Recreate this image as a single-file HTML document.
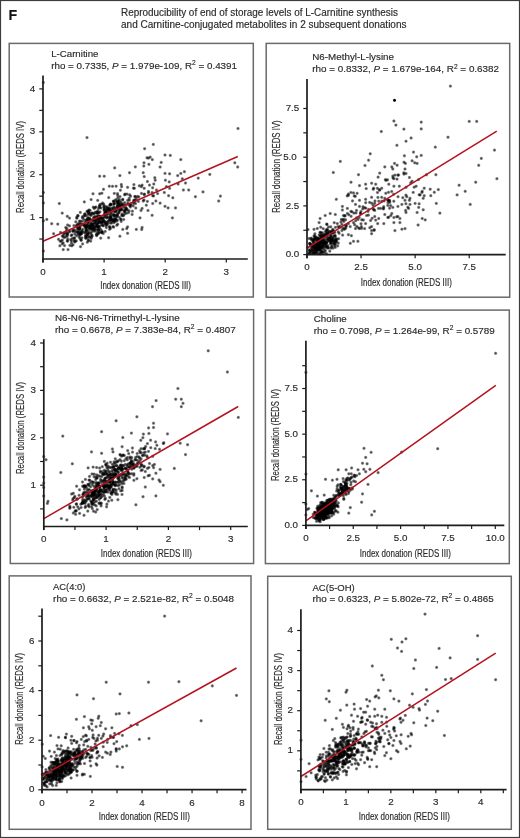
<!DOCTYPE html><html><head><meta charset="utf-8"><style>html,body{margin:0;padding:0;background:#fff;width:520px;height:838px;overflow:hidden}svg{display:block;will-change:transform}text{font-family:"Liberation Sans",sans-serif;stroke:#262626;stroke-width:0.15px}</style></head><body>
<svg width="520" height="838" viewBox="0 0 520 838">
<defs><radialGradient id="dg"><stop offset="0" stop-color="#000" stop-opacity="0.74"/><stop offset="0.35" stop-color="#000" stop-opacity="0.64"/><stop offset="0.6" stop-color="#000" stop-opacity="0.38"/><stop offset="0.8" stop-color="#000" stop-opacity="0.13"/><stop offset="1" stop-color="#000" stop-opacity="0"/></radialGradient></defs>
<rect x="0" y="0" width="520" height="838" fill="#fff"/>
<rect x="0.5" y="0.5" width="519" height="837" fill="none" stroke="#3c3c3c" stroke-width="1.2"/>
<text x="8.5" y="20.3" font-size="14.2" font-weight="bold" fill="#111">F</text>
<text x="121" y="16.3" font-size="10" textLength="277" lengthAdjust="spacingAndGlyphs" fill="#2a2a2a">Reproducibility of end of storage levels of L-Carnitine synthesis</text>
<text x="121" y="27.9" font-size="10" textLength="285.5" lengthAdjust="spacingAndGlyphs" fill="#2a2a2a">and Carnitine-conjugated metabolites in 2 subsequent donations</text>
<rect x="9.2" y="43.4" width="244.1" height="253.6" fill="none" stroke="#6a6a6a" stroke-width="1.5"/>
<text x="51.2" y="56.8" font-size="9.8" textLength="47.3" lengthAdjust="spacingAndGlyphs" fill="#2a2a2a">L-Carnitine</text>
<text x="51.2" y="68.7" font-size="9.8" textLength="185.8" lengthAdjust="spacingAndGlyphs" fill="#2a2a2a">rho = 0.7335, <tspan font-style="italic">P</tspan> = 1.979e-109, R<tspan font-size="6.6" dy="-3.6">2</tspan><tspan dy="3.6"> = 0.4391</tspan></text>
<g fill="url(#dg)"><circle cx="98.5" cy="208.4" r="2.2"/><circle cx="114.7" cy="215.3" r="2.2"/><circle cx="77.8" cy="234.2" r="2.2"/><circle cx="108.3" cy="214.1" r="2.2"/><circle cx="87.8" cy="219.7" r="2.2"/><circle cx="86.9" cy="227.3" r="2.2"/><circle cx="90.3" cy="220.0" r="2.2"/><circle cx="94.2" cy="223.4" r="2.2"/><circle cx="119.1" cy="206.9" r="2.2"/><circle cx="72.4" cy="238.4" r="2.2"/><circle cx="69.9" cy="245.4" r="2.2"/><circle cx="134.0" cy="202.0" r="2.2"/><circle cx="67.7" cy="241.0" r="2.2"/><circle cx="116.4" cy="221.1" r="2.2"/><circle cx="108.6" cy="217.5" r="2.2"/><circle cx="113.9" cy="215.3" r="2.2"/><circle cx="135.2" cy="200.7" r="2.2"/><circle cx="96.8" cy="234.9" r="2.2"/><circle cx="86.9" cy="225.4" r="2.2"/><circle cx="97.8" cy="227.5" r="2.2"/><circle cx="89.7" cy="220.4" r="2.2"/><circle cx="65.7" cy="227.5" r="2.2"/><circle cx="107.2" cy="210.3" r="2.2"/><circle cx="79.8" cy="233.5" r="2.2"/><circle cx="99.0" cy="227.1" r="2.2"/><circle cx="101.8" cy="218.3" r="2.2"/><circle cx="119.4" cy="217.4" r="2.2"/><circle cx="113.8" cy="214.5" r="2.2"/><circle cx="92.3" cy="227.9" r="2.2"/><circle cx="114.4" cy="203.3" r="2.2"/><circle cx="82.6" cy="229.3" r="2.2"/><circle cx="92.7" cy="229.1" r="2.2"/><circle cx="97.0" cy="212.0" r="2.2"/><circle cx="116.8" cy="225.3" r="2.2"/><circle cx="93.2" cy="207.1" r="2.2"/><circle cx="110.3" cy="211.0" r="2.2"/><circle cx="119.5" cy="199.6" r="2.2"/><circle cx="86.8" cy="230.7" r="2.2"/><circle cx="74.7" cy="230.0" r="2.2"/><circle cx="113.1" cy="219.9" r="2.2"/><circle cx="117.2" cy="206.7" r="2.2"/><circle cx="135.5" cy="203.6" r="2.2"/><circle cx="107.1" cy="222.4" r="2.2"/><circle cx="104.1" cy="214.6" r="2.2"/><circle cx="110.7" cy="218.0" r="2.2"/><circle cx="106.3" cy="222.9" r="2.2"/><circle cx="90.3" cy="213.7" r="2.2"/><circle cx="120.8" cy="219.0" r="2.2"/><circle cx="118.4" cy="203.8" r="2.2"/><circle cx="112.9" cy="220.2" r="2.2"/><circle cx="94.1" cy="217.3" r="2.2"/><circle cx="76.6" cy="225.7" r="2.2"/><circle cx="101.7" cy="222.9" r="2.2"/><circle cx="97.8" cy="210.8" r="2.2"/><circle cx="81.3" cy="233.7" r="2.2"/><circle cx="99.9" cy="204.5" r="2.2"/><circle cx="76.3" cy="240.9" r="2.2"/><circle cx="136.3" cy="198.8" r="2.2"/><circle cx="123.7" cy="205.4" r="2.2"/><circle cx="116.6" cy="202.1" r="2.2"/><circle cx="126.9" cy="209.1" r="2.2"/><circle cx="127.9" cy="203.2" r="2.2"/><circle cx="106.3" cy="224.1" r="2.2"/><circle cx="115.9" cy="199.5" r="2.2"/><circle cx="112.9" cy="226.6" r="2.2"/><circle cx="98.1" cy="221.4" r="2.2"/><circle cx="119.2" cy="204.1" r="2.2"/><circle cx="96.6" cy="217.0" r="2.2"/><circle cx="73.9" cy="225.6" r="2.2"/><circle cx="82.4" cy="216.8" r="2.2"/><circle cx="111.7" cy="223.0" r="2.2"/><circle cx="101.4" cy="222.4" r="2.2"/><circle cx="90.7" cy="241.1" r="2.2"/><circle cx="117.1" cy="206.2" r="2.2"/><circle cx="89.0" cy="222.4" r="2.2"/><circle cx="97.3" cy="232.2" r="2.2"/><circle cx="98.0" cy="234.0" r="2.2"/><circle cx="104.6" cy="208.9" r="2.2"/><circle cx="91.0" cy="227.4" r="2.2"/><circle cx="110.6" cy="228.3" r="2.2"/><circle cx="99.9" cy="222.7" r="2.2"/><circle cx="90.1" cy="210.5" r="2.2"/><circle cx="113.3" cy="201.1" r="2.2"/><circle cx="114.9" cy="218.1" r="2.2"/><circle cx="80.5" cy="234.3" r="2.2"/><circle cx="86.0" cy="215.7" r="2.2"/><circle cx="103.7" cy="204.1" r="2.2"/><circle cx="71.4" cy="242.9" r="2.2"/><circle cx="124.7" cy="202.6" r="2.2"/><circle cx="124.5" cy="211.5" r="2.2"/><circle cx="86.2" cy="226.8" r="2.2"/><circle cx="81.2" cy="240.3" r="2.2"/><circle cx="86.5" cy="220.0" r="2.2"/><circle cx="83.7" cy="216.3" r="2.2"/><circle cx="64.5" cy="245.6" r="2.2"/><circle cx="88.6" cy="227.7" r="2.2"/><circle cx="114.7" cy="200.8" r="2.2"/><circle cx="85.2" cy="213.8" r="2.2"/><circle cx="100.5" cy="216.6" r="2.2"/><circle cx="102.1" cy="231.8" r="2.2"/><circle cx="129.9" cy="204.7" r="2.2"/><circle cx="97.5" cy="223.8" r="2.2"/><circle cx="79.7" cy="231.5" r="2.2"/><circle cx="94.4" cy="225.9" r="2.2"/><circle cx="106.2" cy="212.0" r="2.2"/><circle cx="83.8" cy="232.5" r="2.2"/><circle cx="126.0" cy="207.6" r="2.2"/><circle cx="105.2" cy="223.8" r="2.2"/><circle cx="79.3" cy="229.2" r="2.2"/><circle cx="110.5" cy="204.2" r="2.2"/><circle cx="116.6" cy="215.9" r="2.2"/><circle cx="79.4" cy="221.1" r="2.2"/><circle cx="117.7" cy="214.0" r="2.2"/><circle cx="94.6" cy="222.7" r="2.2"/><circle cx="111.5" cy="219.5" r="2.2"/><circle cx="107.2" cy="224.9" r="2.2"/><circle cx="88.1" cy="214.6" r="2.2"/><circle cx="122.7" cy="215.7" r="2.2"/><circle cx="92.6" cy="220.9" r="2.2"/><circle cx="89.8" cy="218.5" r="2.2"/><circle cx="130.9" cy="205.3" r="2.2"/><circle cx="79.4" cy="228.5" r="2.2"/><circle cx="79.0" cy="228.2" r="2.2"/><circle cx="87.3" cy="237.5" r="2.2"/><circle cx="111.7" cy="208.2" r="2.2"/><circle cx="117.4" cy="203.1" r="2.2"/><circle cx="96.8" cy="225.5" r="2.2"/><circle cx="116.3" cy="211.6" r="2.2"/><circle cx="86.3" cy="236.5" r="2.2"/><circle cx="73.2" cy="230.0" r="2.2"/><circle cx="78.2" cy="223.6" r="2.2"/><circle cx="119.3" cy="207.5" r="2.2"/><circle cx="110.6" cy="215.1" r="2.2"/><circle cx="109.7" cy="226.8" r="2.2"/><circle cx="96.0" cy="207.0" r="2.2"/><circle cx="79.6" cy="235.4" r="2.2"/><circle cx="66.9" cy="228.5" r="2.2"/><circle cx="100.9" cy="229.6" r="2.2"/><circle cx="84.4" cy="214.2" r="2.2"/><circle cx="100.0" cy="211.9" r="2.2"/><circle cx="92.6" cy="213.1" r="2.2"/><circle cx="87.3" cy="234.0" r="2.2"/><circle cx="127.6" cy="200.4" r="2.2"/><circle cx="64.3" cy="237.6" r="2.2"/><circle cx="96.9" cy="225.9" r="2.2"/><circle cx="125.1" cy="194.1" r="2.2"/><circle cx="107.4" cy="208.5" r="2.2"/><circle cx="107.2" cy="207.1" r="2.2"/><circle cx="137.4" cy="196.5" r="2.2"/><circle cx="99.3" cy="216.2" r="2.2"/><circle cx="94.7" cy="227.0" r="2.2"/><circle cx="93.9" cy="227.8" r="2.2"/><circle cx="78.2" cy="232.3" r="2.2"/><circle cx="87.4" cy="224.2" r="2.2"/><circle cx="121.3" cy="205.6" r="2.2"/><circle cx="87.3" cy="226.3" r="2.2"/><circle cx="117.7" cy="224.2" r="2.2"/><circle cx="94.9" cy="207.5" r="2.2"/><circle cx="107.4" cy="217.4" r="2.2"/><circle cx="101.4" cy="204.2" r="2.2"/><circle cx="114.0" cy="222.7" r="2.2"/><circle cx="115.9" cy="215.1" r="2.2"/><circle cx="138.4" cy="201.4" r="2.2"/><circle cx="91.0" cy="223.8" r="2.2"/><circle cx="104.4" cy="216.6" r="2.2"/><circle cx="92.5" cy="225.4" r="2.2"/><circle cx="96.3" cy="217.7" r="2.2"/><circle cx="109.5" cy="226.9" r="2.2"/><circle cx="82.6" cy="243.9" r="2.2"/><circle cx="89.6" cy="236.5" r="2.2"/><circle cx="119.6" cy="210.4" r="2.2"/><circle cx="115.5" cy="210.7" r="2.2"/><circle cx="96.3" cy="234.2" r="2.2"/><circle cx="74.1" cy="238.1" r="2.2"/><circle cx="121.8" cy="210.0" r="2.2"/><circle cx="102.4" cy="221.5" r="2.2"/><circle cx="91.4" cy="215.2" r="2.2"/><circle cx="117.5" cy="220.2" r="2.2"/><circle cx="89.7" cy="227.9" r="2.2"/><circle cx="109.4" cy="208.2" r="2.2"/><circle cx="98.7" cy="233.0" r="2.2"/><circle cx="118.7" cy="204.3" r="2.2"/><circle cx="96.3" cy="218.5" r="2.2"/><circle cx="116.7" cy="216.8" r="2.2"/><circle cx="89.8" cy="219.0" r="2.2"/><circle cx="102.2" cy="224.5" r="2.2"/><circle cx="118.9" cy="212.3" r="2.2"/><circle cx="80.5" cy="221.2" r="2.2"/><circle cx="93.4" cy="231.0" r="2.2"/><circle cx="109.5" cy="219.6" r="2.2"/><circle cx="70.6" cy="239.6" r="2.2"/><circle cx="104.2" cy="217.6" r="2.2"/><circle cx="98.4" cy="217.8" r="2.2"/><circle cx="106.9" cy="214.9" r="2.2"/><circle cx="96.6" cy="226.5" r="2.2"/><circle cx="90.3" cy="226.0" r="2.2"/><circle cx="116.0" cy="210.4" r="2.2"/><circle cx="113.7" cy="227.1" r="2.2"/><circle cx="74.2" cy="240.4" r="2.2"/><circle cx="62.3" cy="236.0" r="2.2"/><circle cx="102.0" cy="218.9" r="2.2"/><circle cx="92.8" cy="229.8" r="2.2"/><circle cx="77.7" cy="227.8" r="2.2"/><circle cx="98.0" cy="218.0" r="2.2"/><circle cx="110.4" cy="218.7" r="2.2"/><circle cx="103.2" cy="225.7" r="2.2"/><circle cx="65.8" cy="236.7" r="2.2"/><circle cx="108.6" cy="210.0" r="2.2"/><circle cx="130.6" cy="196.2" r="2.2"/><circle cx="117.5" cy="214.7" r="2.2"/><circle cx="73.0" cy="244.8" r="2.2"/><circle cx="99.6" cy="219.0" r="2.2"/><circle cx="138.8" cy="196.9" r="2.2"/><circle cx="99.8" cy="207.6" r="2.2"/><circle cx="82.1" cy="230.8" r="2.2"/><circle cx="91.6" cy="237.0" r="2.2"/><circle cx="103.0" cy="219.1" r="2.2"/><circle cx="89.0" cy="225.6" r="2.2"/><circle cx="79.3" cy="234.2" r="2.2"/><circle cx="120.0" cy="196.6" r="2.2"/><circle cx="71.6" cy="240.8" r="2.2"/><circle cx="115.6" cy="211.4" r="2.2"/><circle cx="106.0" cy="225.6" r="2.2"/><circle cx="106.1" cy="206.7" r="2.2"/><circle cx="121.7" cy="209.3" r="2.2"/><circle cx="90.3" cy="215.3" r="2.2"/><circle cx="66.4" cy="234.3" r="2.2"/><circle cx="85.2" cy="225.3" r="2.2"/><circle cx="80.5" cy="233.6" r="2.2"/><circle cx="120.8" cy="209.3" r="2.2"/><circle cx="67.2" cy="241.0" r="2.2"/><circle cx="122.1" cy="213.9" r="2.2"/><circle cx="105.9" cy="212.6" r="2.2"/><circle cx="119.0" cy="212.7" r="2.2"/><circle cx="94.5" cy="228.3" r="2.2"/><circle cx="65.4" cy="232.3" r="2.2"/><circle cx="99.5" cy="206.3" r="2.2"/><circle cx="69.5" cy="225.9" r="2.2"/><circle cx="113.5" cy="201.6" r="2.2"/><circle cx="94.4" cy="229.1" r="2.2"/><circle cx="111.9" cy="221.0" r="2.2"/><circle cx="97.0" cy="220.0" r="2.2"/><circle cx="87.2" cy="219.1" r="2.2"/><circle cx="80.9" cy="232.0" r="2.2"/><circle cx="79.8" cy="223.4" r="2.2"/><circle cx="108.0" cy="221.1" r="2.2"/><circle cx="89.5" cy="213.3" r="2.2"/><circle cx="99.0" cy="229.7" r="2.2"/><circle cx="88.2" cy="233.4" r="2.2"/><circle cx="103.7" cy="221.3" r="2.2"/><circle cx="113.4" cy="221.2" r="2.2"/><circle cx="87.0" cy="211.4" r="2.2"/><circle cx="99.5" cy="228.0" r="2.2"/><circle cx="95.7" cy="221.4" r="2.2"/><circle cx="67.7" cy="234.6" r="2.2"/><circle cx="90.9" cy="229.4" r="2.2"/><circle cx="98.2" cy="226.2" r="2.2"/><circle cx="111.6" cy="212.4" r="2.2"/><circle cx="77.5" cy="229.7" r="2.2"/><circle cx="97.8" cy="218.6" r="2.2"/><circle cx="117.7" cy="208.4" r="2.2"/><circle cx="105.1" cy="212.7" r="2.2"/><circle cx="91.2" cy="238.4" r="2.2"/><circle cx="119.7" cy="205.4" r="2.2"/><circle cx="120.8" cy="219.6" r="2.2"/><circle cx="86.1" cy="226.5" r="2.2"/><circle cx="99.9" cy="221.8" r="2.2"/><circle cx="110.1" cy="220.7" r="2.2"/><circle cx="87.8" cy="217.5" r="2.2"/><circle cx="58.5" cy="239.3" r="2.2"/><circle cx="75.1" cy="241.3" r="2.2"/><circle cx="100.5" cy="216.2" r="2.2"/><circle cx="105.4" cy="221.9" r="2.2"/><circle cx="133.7" cy="201.7" r="2.2"/><circle cx="60.1" cy="241.2" r="2.2"/><circle cx="114.6" cy="221.6" r="2.2"/><circle cx="114.7" cy="207.9" r="2.2"/><circle cx="81.5" cy="233.4" r="2.2"/><circle cx="98.6" cy="216.2" r="2.2"/><circle cx="102.6" cy="203.0" r="2.2"/><circle cx="93.2" cy="224.3" r="2.2"/><circle cx="114.1" cy="211.1" r="2.2"/><circle cx="94.4" cy="213.4" r="2.2"/><circle cx="87.9" cy="223.0" r="2.2"/><circle cx="129.4" cy="200.2" r="2.2"/><circle cx="128.6" cy="212.6" r="2.2"/><circle cx="88.6" cy="213.1" r="2.2"/><circle cx="124.6" cy="213.9" r="2.2"/><circle cx="114.0" cy="204.0" r="2.2"/><circle cx="116.1" cy="219.3" r="2.2"/><circle cx="102.2" cy="218.3" r="2.2"/><circle cx="122.8" cy="199.3" r="2.2"/><circle cx="107.6" cy="209.5" r="2.2"/><circle cx="98.8" cy="221.1" r="2.2"/><circle cx="110.3" cy="205.0" r="2.2"/><circle cx="86.2" cy="228.3" r="2.2"/><circle cx="103.1" cy="222.4" r="2.2"/><circle cx="127.0" cy="194.1" r="2.2"/><circle cx="129.6" cy="194.8" r="2.2"/><circle cx="126.1" cy="209.3" r="2.2"/><circle cx="64.0" cy="233.1" r="2.2"/><circle cx="81.8" cy="224.7" r="2.2"/><circle cx="100.4" cy="225.6" r="2.2"/><circle cx="120.4" cy="204.0" r="2.2"/><circle cx="98.4" cy="217.1" r="2.2"/><circle cx="77.9" cy="228.3" r="2.2"/><circle cx="117.5" cy="204.9" r="2.2"/><circle cx="100.9" cy="217.8" r="2.2"/><circle cx="67.7" cy="239.0" r="2.2"/><circle cx="130.6" cy="204.0" r="2.2"/><circle cx="75.8" cy="221.8" r="2.2"/><circle cx="89.8" cy="226.0" r="2.2"/><circle cx="120.8" cy="209.6" r="2.2"/><circle cx="104.2" cy="209.6" r="2.2"/><circle cx="129.7" cy="205.7" r="2.2"/><circle cx="99.6" cy="218.2" r="2.2"/><circle cx="62.3" cy="240.0" r="2.2"/><circle cx="113.8" cy="216.2" r="2.2"/><circle cx="105.2" cy="213.9" r="2.2"/><circle cx="88.8" cy="231.8" r="2.2"/><circle cx="110.5" cy="213.6" r="2.2"/><circle cx="104.0" cy="221.0" r="2.2"/><circle cx="85.8" cy="232.1" r="2.2"/><circle cx="120.8" cy="201.9" r="2.2"/><circle cx="94.9" cy="219.6" r="2.2"/><circle cx="119.3" cy="201.7" r="2.2"/><circle cx="103.3" cy="233.5" r="2.2"/><circle cx="83.9" cy="219.5" r="2.2"/><circle cx="84.5" cy="224.3" r="2.2"/><circle cx="105.7" cy="212.1" r="2.2"/><circle cx="92.2" cy="235.9" r="2.2"/><circle cx="85.4" cy="235.6" r="2.2"/><circle cx="105.1" cy="223.5" r="2.2"/><circle cx="106.4" cy="212.1" r="2.2"/><circle cx="88.4" cy="240.7" r="2.2"/><circle cx="101.1" cy="208.0" r="2.2"/><circle cx="87.1" cy="225.9" r="2.2"/><circle cx="102.1" cy="231.5" r="2.2"/><circle cx="117.5" cy="201.9" r="2.2"/><circle cx="92.1" cy="223.6" r="2.2"/><circle cx="117.3" cy="200.9" r="2.2"/><circle cx="91.2" cy="228.8" r="2.2"/><circle cx="88.3" cy="233.5" r="2.2"/><circle cx="104.1" cy="210.3" r="2.2"/><circle cx="114.6" cy="219.2" r="2.2"/><circle cx="89.4" cy="237.2" r="2.2"/><circle cx="110.2" cy="209.6" r="2.2"/><circle cx="97.8" cy="223.2" r="2.2"/><circle cx="74.6" cy="238.0" r="2.2"/><circle cx="121.9" cy="205.3" r="2.2"/><circle cx="83.8" cy="225.0" r="2.2"/><circle cx="88.6" cy="221.1" r="2.2"/><circle cx="110.4" cy="211.3" r="2.2"/><circle cx="91.7" cy="224.7" r="2.2"/><circle cx="114.0" cy="220.4" r="2.2"/><circle cx="119.7" cy="210.5" r="2.2"/><circle cx="82.3" cy="231.9" r="2.2"/><circle cx="124.9" cy="210.5" r="2.2"/><circle cx="104.8" cy="214.6" r="2.2"/><circle cx="111.5" cy="210.8" r="2.2"/><circle cx="80.2" cy="226.8" r="2.2"/><circle cx="69.6" cy="230.8" r="2.2"/><circle cx="125.1" cy="204.8" r="2.2"/><circle cx="92.9" cy="219.9" r="2.2"/><circle cx="114.5" cy="211.8" r="2.2"/><circle cx="98.7" cy="212.6" r="2.2"/><circle cx="73.1" cy="231.5" r="2.2"/><circle cx="85.4" cy="237.8" r="2.2"/><circle cx="96.2" cy="221.2" r="2.2"/><circle cx="86.0" cy="220.5" r="2.2"/><circle cx="98.9" cy="222.6" r="2.2"/><circle cx="119.0" cy="204.1" r="2.2"/><circle cx="81.0" cy="240.0" r="2.2"/><circle cx="110.5" cy="216.2" r="2.2"/><circle cx="106.1" cy="216.6" r="2.2"/><circle cx="74.6" cy="242.0" r="2.2"/><circle cx="123.6" cy="215.5" r="2.2"/><circle cx="121.6" cy="215.4" r="2.2"/><circle cx="89.9" cy="225.9" r="2.2"/><circle cx="106.3" cy="227.6" r="2.2"/><circle cx="102.9" cy="225.6" r="2.2"/><circle cx="133.2" cy="205.9" r="2.2"/><circle cx="97.0" cy="229.5" r="2.2"/><circle cx="96.7" cy="224.0" r="2.2"/><circle cx="98.7" cy="230.5" r="2.2"/><circle cx="106.6" cy="218.0" r="2.2"/><circle cx="110.8" cy="217.4" r="2.2"/><circle cx="122.6" cy="199.9" r="2.2"/><circle cx="122.2" cy="203.5" r="2.2"/><circle cx="117.9" cy="197.8" r="2.2"/><circle cx="86.9" cy="230.6" r="2.2"/><circle cx="90.3" cy="226.4" r="2.2"/><circle cx="110.2" cy="217.2" r="2.2"/><circle cx="105.6" cy="212.7" r="2.2"/><circle cx="82.2" cy="221.4" r="2.2"/><circle cx="113.7" cy="206.8" r="2.2"/><circle cx="90.6" cy="233.4" r="2.2"/><circle cx="104.8" cy="212.3" r="2.2"/><circle cx="86.0" cy="238.5" r="2.2"/><circle cx="94.5" cy="219.6" r="2.2"/><circle cx="95.1" cy="229.8" r="2.2"/><circle cx="76.9" cy="231.8" r="2.2"/><circle cx="86.1" cy="229.3" r="2.2"/><circle cx="98.2" cy="218.2" r="2.2"/><circle cx="108.2" cy="223.2" r="2.2"/><circle cx="116.1" cy="208.4" r="2.2"/><circle cx="82.4" cy="218.1" r="2.2"/><circle cx="87.6" cy="235.4" r="2.2"/><circle cx="79.8" cy="229.1" r="2.2"/><circle cx="108.0" cy="208.4" r="2.2"/><circle cx="111.4" cy="204.7" r="2.2"/><circle cx="88.4" cy="239.9" r="2.2"/><circle cx="111.1" cy="217.3" r="2.2"/><circle cx="134.5" cy="200.0" r="2.2"/><circle cx="87.8" cy="211.1" r="2.2"/><circle cx="67.2" cy="236.1" r="2.2"/><circle cx="96.3" cy="226.4" r="2.2"/><circle cx="69.6" cy="231.9" r="2.2"/><circle cx="122.7" cy="204.6" r="2.2"/><circle cx="89.1" cy="229.2" r="2.2"/><circle cx="63.2" cy="236.5" r="2.2"/><circle cx="80.1" cy="238.6" r="2.2"/><circle cx="95.3" cy="212.1" r="2.2"/><circle cx="123.6" cy="207.4" r="2.2"/><circle cx="88.2" cy="212.4" r="2.2"/><circle cx="101.6" cy="217.6" r="2.2"/><circle cx="96.6" cy="212.8" r="2.2"/><circle cx="124.3" cy="210.3" r="2.2"/><circle cx="101.7" cy="232.6" r="2.2"/><circle cx="97.3" cy="213.6" r="2.2"/><circle cx="87.3" cy="242.2" r="2.2"/><circle cx="94.9" cy="231.2" r="2.2"/><circle cx="97.4" cy="216.3" r="2.2"/><circle cx="85.1" cy="227.5" r="2.2"/><circle cx="124.6" cy="194.8" r="2.2"/><circle cx="101.5" cy="221.4" r="2.2"/><circle cx="72.6" cy="230.8" r="2.2"/><circle cx="85.1" cy="222.1" r="2.2"/><circle cx="127.2" cy="210.0" r="2.2"/><circle cx="104.0" cy="220.8" r="2.2"/><circle cx="109.5" cy="229.3" r="2.2"/><circle cx="81.3" cy="224.1" r="2.2"/><circle cx="135.8" cy="208.0" r="2.2"/><circle cx="92.6" cy="226.1" r="2.2"/><circle cx="114.8" cy="220.3" r="2.2"/><circle cx="106.0" cy="209.8" r="2.2"/><circle cx="88.4" cy="218.3" r="2.2"/><circle cx="71.2" cy="235.6" r="2.2"/><circle cx="85.7" cy="230.5" r="2.2"/><circle cx="111.5" cy="219.2" r="2.2"/><circle cx="101.4" cy="232.4" r="2.2"/><circle cx="92.0" cy="213.1" r="2.2"/><circle cx="81.9" cy="237.8" r="2.2"/><circle cx="99.4" cy="232.4" r="2.2"/><circle cx="94.4" cy="220.7" r="2.2"/><circle cx="134.9" cy="196.4" r="2.2"/><circle cx="112.9" cy="208.4" r="2.2"/><circle cx="105.2" cy="231.4" r="2.2"/><circle cx="63.7" cy="234.4" r="2.2"/><circle cx="71.9" cy="234.9" r="2.2"/><circle cx="85.9" cy="226.5" r="2.2"/><circle cx="79.1" cy="237.1" r="2.2"/><circle cx="91.4" cy="232.1" r="2.2"/><circle cx="104.1" cy="205.7" r="2.2"/><circle cx="67.6" cy="232.8" r="2.2"/><circle cx="112.7" cy="214.7" r="2.2"/><circle cx="109.5" cy="205.3" r="2.2"/><circle cx="91.7" cy="234.9" r="2.2"/><circle cx="76.5" cy="226.2" r="2.2"/><circle cx="87.4" cy="234.5" r="2.2"/><circle cx="104.3" cy="207.6" r="2.2"/><circle cx="95.2" cy="216.4" r="2.2"/><circle cx="95.6" cy="223.5" r="2.2"/><circle cx="115.5" cy="219.4" r="2.2"/><circle cx="108.7" cy="211.2" r="2.2"/><circle cx="113.2" cy="209.6" r="2.2"/><circle cx="94.2" cy="208.5" r="2.2"/><circle cx="117.5" cy="216.0" r="2.2"/><circle cx="100.4" cy="216.4" r="2.2"/><circle cx="91.2" cy="223.6" r="2.2"/><circle cx="144.0" cy="200.0" r="2.2"/><circle cx="61.2" cy="241.2" r="2.2"/><circle cx="66.4" cy="230.4" r="2.2"/><circle cx="99.5" cy="205.9" r="2.2"/><circle cx="123.7" cy="219.5" r="2.2"/><circle cx="84.9" cy="215.6" r="2.2"/><circle cx="152.6" cy="187.8" r="2.2"/><circle cx="76.9" cy="218.3" r="2.2"/><circle cx="109.4" cy="208.7" r="2.2"/><circle cx="121.2" cy="221.4" r="2.2"/><circle cx="114.0" cy="203.9" r="2.2"/><circle cx="84.0" cy="225.8" r="2.2"/><circle cx="100.0" cy="220.6" r="2.2"/><circle cx="112.5" cy="186.3" r="2.2"/><circle cx="120.4" cy="190.2" r="2.2"/><circle cx="80.8" cy="233.9" r="2.2"/><circle cx="92.1" cy="220.1" r="2.2"/><circle cx="125.7" cy="208.1" r="2.2"/><circle cx="93.6" cy="217.8" r="2.2"/><circle cx="108.7" cy="197.6" r="2.2"/><circle cx="79.5" cy="227.8" r="2.2"/><circle cx="153.6" cy="195.9" r="2.2"/><circle cx="77.2" cy="224.7" r="2.2"/><circle cx="133.8" cy="200.4" r="2.2"/><circle cx="76.5" cy="235.8" r="2.2"/><circle cx="57.8" cy="224.1" r="2.2"/><circle cx="109.2" cy="220.6" r="2.2"/><circle cx="148.4" cy="192.9" r="2.2"/><circle cx="62.2" cy="243.9" r="2.2"/><circle cx="144.4" cy="194.1" r="2.2"/><circle cx="108.6" cy="237.7" r="2.2"/><circle cx="127.6" cy="226.9" r="2.2"/><circle cx="77.7" cy="215.5" r="2.2"/><circle cx="141.5" cy="193.4" r="2.2"/><circle cx="129.1" cy="210.8" r="2.2"/><circle cx="132.4" cy="211.2" r="2.2"/><circle cx="139.3" cy="185.8" r="2.2"/><circle cx="110.8" cy="204.1" r="2.2"/><circle cx="127.6" cy="187.3" r="2.2"/><circle cx="121.3" cy="184.5" r="2.2"/><circle cx="135.2" cy="196.7" r="2.2"/><circle cx="126.7" cy="228.6" r="2.2"/><circle cx="98.1" cy="226.2" r="2.2"/><circle cx="130.4" cy="207.0" r="2.2"/><circle cx="133.9" cy="184.6" r="2.2"/><circle cx="67.4" cy="233.7" r="2.2"/><circle cx="60.6" cy="232.4" r="2.2"/><circle cx="117.5" cy="193.6" r="2.2"/><circle cx="118.4" cy="200.9" r="2.2"/><circle cx="152.1" cy="192.5" r="2.2"/><circle cx="98.0" cy="229.8" r="2.2"/><circle cx="133.5" cy="203.3" r="2.2"/><circle cx="117.4" cy="209.3" r="2.2"/><circle cx="85.9" cy="236.4" r="2.2"/><circle cx="110.5" cy="223.1" r="2.2"/><circle cx="111.4" cy="219.4" r="2.2"/><circle cx="114.2" cy="220.4" r="2.2"/><circle cx="79.0" cy="225.3" r="2.2"/><circle cx="114.3" cy="193.4" r="2.2"/><circle cx="80.3" cy="212.4" r="2.2"/><circle cx="121.6" cy="186.7" r="2.2"/><circle cx="75.2" cy="231.8" r="2.2"/><circle cx="117.7" cy="195.4" r="2.2"/><circle cx="93.6" cy="214.0" r="2.2"/><circle cx="98.3" cy="213.3" r="2.2"/><circle cx="141.4" cy="186.7" r="2.2"/><circle cx="69.5" cy="218.1" r="2.2"/><circle cx="85.7" cy="233.1" r="2.2"/><circle cx="96.6" cy="235.7" r="2.2"/><circle cx="89.1" cy="210.0" r="2.2"/><circle cx="126.5" cy="213.3" r="2.2"/><circle cx="67.3" cy="216.3" r="2.2"/><circle cx="78.1" cy="215.9" r="2.2"/><circle cx="90.0" cy="226.9" r="2.2"/><circle cx="79.4" cy="225.0" r="2.2"/><circle cx="74.8" cy="234.1" r="2.2"/><circle cx="103.8" cy="206.8" r="2.2"/><circle cx="97.7" cy="200.4" r="2.2"/><circle cx="119.7" cy="206.7" r="2.2"/><circle cx="88.5" cy="211.1" r="2.2"/><circle cx="124.8" cy="211.8" r="2.2"/><circle cx="132.1" cy="214.5" r="2.2"/><circle cx="134.4" cy="188.3" r="2.2"/><circle cx="77.9" cy="232.3" r="2.2"/><circle cx="92.1" cy="226.6" r="2.2"/><circle cx="103.5" cy="189.3" r="2.2"/><circle cx="101.9" cy="193.2" r="2.2"/><circle cx="129.1" cy="198.3" r="2.2"/><circle cx="92.1" cy="226.3" r="2.2"/><circle cx="127.9" cy="204.1" r="2.2"/><circle cx="87.0" cy="137.6" r="2.2"/><circle cx="144.6" cy="148.7" r="2.2"/><circle cx="147.0" cy="157.8" r="2.2"/><circle cx="144.0" cy="162.8" r="2.2"/><circle cx="135.3" cy="166.9" r="2.2"/><circle cx="114.7" cy="167.9" r="2.2"/><circle cx="238.0" cy="128.5" r="2.2"/><circle cx="153.3" cy="144.4" r="2.2"/><circle cx="148.5" cy="158.1" r="2.2"/><circle cx="150.2" cy="157.1" r="2.2"/><circle cx="152.3" cy="159.6" r="2.2"/><circle cx="143.8" cy="166.0" r="2.2"/><circle cx="148.9" cy="164.3" r="2.2"/><circle cx="165.0" cy="155.0" r="2.2"/><circle cx="170.3" cy="155.4" r="2.2"/><circle cx="161.2" cy="162.4" r="2.2"/><circle cx="160.1" cy="167.0" r="2.2"/><circle cx="180.8" cy="159.6" r="2.2"/><circle cx="143.2" cy="172.7" r="2.2"/><circle cx="165.0" cy="173.4" r="2.2"/><circle cx="169.6" cy="173.8" r="2.2"/><circle cx="180.8" cy="173.4" r="2.2"/><circle cx="184.4" cy="171.7" r="2.2"/><circle cx="209.8" cy="174.4" r="2.2"/><circle cx="234.8" cy="162.8" r="2.2"/><circle cx="237.7" cy="167.0" r="2.2"/><circle cx="99.7" cy="176.2" r="2.2"/><circle cx="104.2" cy="176.2" r="2.2"/><circle cx="119.9" cy="175.6" r="2.2"/><circle cx="59.3" cy="203.5" r="2.2"/><circle cx="84.3" cy="201.9" r="2.2"/><circle cx="62.2" cy="213.1" r="2.2"/><circle cx="46.8" cy="219.4" r="2.2"/><circle cx="51.7" cy="223.7" r="2.2"/><circle cx="53.6" cy="233.7" r="2.2"/><circle cx="67.6" cy="225.0" r="2.2"/><circle cx="76.7" cy="217.3" r="2.2"/><circle cx="109.3" cy="186.2" r="2.2"/><circle cx="116.1" cy="186.2" r="2.2"/><circle cx="99.7" cy="193.8" r="2.2"/><circle cx="93.0" cy="193.8" r="2.2"/><circle cx="91.1" cy="199.6" r="2.2"/><circle cx="63.2" cy="242.9" r="2.2"/><circle cx="59.9" cy="245.8" r="2.2"/><circle cx="63.2" cy="249.6" r="2.2"/><circle cx="68.0" cy="249.6" r="2.2"/><circle cx="71.8" cy="245.8" r="2.2"/><circle cx="80.5" cy="246.7" r="2.2"/><circle cx="100.7" cy="238.1" r="2.2"/><circle cx="119.9" cy="236.2" r="2.2"/><circle cx="127.6" cy="233.3" r="2.2"/><circle cx="136.3" cy="229.4" r="2.2"/><circle cx="122.8" cy="229.4" r="2.2"/><circle cx="133.4" cy="188.1" r="2.2"/><circle cx="129.5" cy="172.7" r="2.2"/><circle cx="177.7" cy="175.6" r="2.2"/><circle cx="144.2" cy="176.6" r="2.2"/><circle cx="154.8" cy="177.7" r="2.2"/><circle cx="155.2" cy="180.2" r="2.2"/><circle cx="165.4" cy="180.2" r="2.2"/><circle cx="169.2" cy="181.9" r="2.2"/><circle cx="182.3" cy="178.8" r="2.2"/><circle cx="198.2" cy="178.1" r="2.2"/><circle cx="147.4" cy="181.5" r="2.2"/><circle cx="185.5" cy="183.0" r="2.2"/><circle cx="142.1" cy="185.1" r="2.2"/><circle cx="149.5" cy="185.1" r="2.2"/><circle cx="153.8" cy="184.0" r="2.2"/><circle cx="178.1" cy="184.0" r="2.2"/><circle cx="166.4" cy="186.6" r="2.2"/><circle cx="169.6" cy="188.3" r="2.2"/><circle cx="156.5" cy="190.0" r="2.2"/><circle cx="183.4" cy="190.0" r="2.2"/><circle cx="188.7" cy="190.0" r="2.2"/><circle cx="203.0" cy="191.9" r="2.2"/><circle cx="144.2" cy="188.3" r="2.2"/><circle cx="148.5" cy="191.4" r="2.2"/><circle cx="164.3" cy="192.5" r="2.2"/><circle cx="157.6" cy="193.6" r="2.2"/><circle cx="144.2" cy="194.6" r="2.2"/><circle cx="152.7" cy="195.7" r="2.2"/><circle cx="168.6" cy="195.7" r="2.2"/><circle cx="172.8" cy="197.8" r="2.2"/><circle cx="195.4" cy="196.7" r="2.2"/><circle cx="220.4" cy="196.1" r="2.2"/><circle cx="218.7" cy="201.0" r="2.2"/><circle cx="143.2" cy="201.0" r="2.2"/><circle cx="147.4" cy="201.4" r="2.2"/><circle cx="155.9" cy="201.0" r="2.2"/><circle cx="160.1" cy="203.1" r="2.2"/><circle cx="146.3" cy="205.2" r="2.2"/><circle cx="152.7" cy="203.5" r="2.2"/><circle cx="165.0" cy="206.3" r="2.2"/><circle cx="168.1" cy="207.9" r="2.2"/><circle cx="175.5" cy="207.9" r="2.2"/><circle cx="142.1" cy="208.4" r="2.2"/><circle cx="148.0" cy="210.5" r="2.2"/><circle cx="141.0" cy="210.5" r="2.2"/><circle cx="152.1" cy="215.3" r="2.2"/><circle cx="172.4" cy="217.9" r="2.2"/><circle cx="140.0" cy="217.9" r="2.2"/><circle cx="142.1" cy="227.4" r="2.2"/><circle cx="141.7" cy="229.5" r="2.2"/><circle cx="43.4" cy="192.6" r="2.2"/><circle cx="43.4" cy="202.9" r="2.2"/><circle cx="43.4" cy="220.8" r="2.2"/><circle cx="43.4" cy="251.0" r="2.2"/><circle cx="43.3" cy="82.5" r="2.2"/></g>
<line x1="43.0" y1="241.2" x2="237.8" y2="156.5" stroke="#b5121f" stroke-width="1.5"/>
<line x1="43.0" y1="75.5" x2="43.0" y2="262.6" stroke="#1c1c1c" stroke-width="1.7"/>
<line x1="42.3" y1="259.0" x2="247.8" y2="259.0" stroke="#1c1c1c" stroke-width="1.7"/>
<line x1="39.3" y1="217.60" x2="43.0" y2="217.60" stroke="#1c1c1c" stroke-width="1.2"/>
<line x1="39.3" y1="174.70" x2="43.0" y2="174.70" stroke="#1c1c1c" stroke-width="1.2"/>
<line x1="39.3" y1="131.80" x2="43.0" y2="131.80" stroke="#1c1c1c" stroke-width="1.2"/>
<line x1="39.3" y1="88.90" x2="43.0" y2="88.90" stroke="#1c1c1c" stroke-width="1.2"/>
<line x1="39.3" y1="239.05" x2="43.0" y2="239.05" stroke="#1c1c1c" stroke-width="1.2"/>
<line x1="39.3" y1="196.15" x2="43.0" y2="196.15" stroke="#1c1c1c" stroke-width="1.2"/>
<line x1="39.3" y1="153.25" x2="43.0" y2="153.25" stroke="#1c1c1c" stroke-width="1.2"/>
<line x1="39.3" y1="110.35" x2="43.0" y2="110.35" stroke="#1c1c1c" stroke-width="1.2"/>
<text x="35.2" y="220.20" font-size="9.8" text-anchor="end" fill="#2a2a2a">1</text>
<text x="35.2" y="177.30" font-size="9.8" text-anchor="end" fill="#2a2a2a">2</text>
<text x="35.2" y="134.40" font-size="9.8" text-anchor="end" fill="#2a2a2a">3</text>
<text x="35.2" y="91.50" font-size="9.8" text-anchor="end" fill="#2a2a2a">4</text>
<line x1="43.00" y1="259.0" x2="43.00" y2="262.6" stroke="#1c1c1c" stroke-width="1.2"/>
<line x1="104.10" y1="259.0" x2="104.10" y2="262.6" stroke="#1c1c1c" stroke-width="1.2"/>
<line x1="165.20" y1="259.0" x2="165.20" y2="262.6" stroke="#1c1c1c" stroke-width="1.2"/>
<line x1="226.30" y1="259.0" x2="226.30" y2="262.6" stroke="#1c1c1c" stroke-width="1.2"/>
<text x="43.00" y="274.6" font-size="9.8" text-anchor="middle" fill="#2a2a2a">0</text>
<text x="104.10" y="274.6" font-size="9.8" text-anchor="middle" fill="#2a2a2a">1</text>
<text x="165.20" y="274.6" font-size="9.8" text-anchor="middle" fill="#2a2a2a">2</text>
<text x="226.30" y="274.6" font-size="9.8" text-anchor="middle" fill="#2a2a2a">3</text>
<text x="100.2" y="288.8" font-size="10" textLength="90.8" lengthAdjust="spacingAndGlyphs" fill="#2a2a2a">Index donation (REDS III)</text>
<text transform="translate(23.7,212.9) rotate(-90)" x="0" y="0" font-size="10" textLength="91.9" lengthAdjust="spacingAndGlyphs" fill="#2a2a2a">Recall donation (REDS IV)</text>
<rect x="266.2" y="43.4" width="243.5" height="253.8" fill="none" stroke="#6a6a6a" stroke-width="1.5"/>
<text x="312.3" y="60.4" font-size="9.8" textLength="81.7" lengthAdjust="spacingAndGlyphs" fill="#2a2a2a">N6-Methyl-L-lysine</text>
<text x="312.3" y="72.2" font-size="9.8" textLength="186.8" lengthAdjust="spacingAndGlyphs" fill="#2a2a2a">rho = 0.8332, <tspan font-style="italic">P</tspan> = 1.679e-164, R<tspan font-size="6.6" dy="-3.6">2</tspan><tspan dy="3.6"> = 0.6382</tspan></text>
<g fill="url(#dg)"><circle cx="320.4" cy="243.1" r="2.2"/><circle cx="314.8" cy="236.0" r="2.2"/><circle cx="336.2" cy="240.6" r="2.2"/><circle cx="318.9" cy="239.6" r="2.2"/><circle cx="317.2" cy="253.6" r="2.2"/><circle cx="318.7" cy="245.4" r="2.2"/><circle cx="314.7" cy="239.1" r="2.2"/><circle cx="326.9" cy="234.7" r="2.2"/><circle cx="310.6" cy="244.0" r="2.2"/><circle cx="327.6" cy="247.3" r="2.2"/><circle cx="334.3" cy="235.6" r="2.2"/><circle cx="314.2" cy="245.2" r="2.2"/><circle cx="334.5" cy="244.1" r="2.2"/><circle cx="325.5" cy="250.8" r="2.2"/><circle cx="330.0" cy="241.6" r="2.2"/><circle cx="318.8" cy="250.7" r="2.2"/><circle cx="322.6" cy="245.3" r="2.2"/><circle cx="323.4" cy="236.0" r="2.2"/><circle cx="329.2" cy="238.4" r="2.2"/><circle cx="319.1" cy="241.8" r="2.2"/><circle cx="328.7" cy="232.6" r="2.2"/><circle cx="322.3" cy="245.9" r="2.2"/><circle cx="320.0" cy="249.2" r="2.2"/><circle cx="323.3" cy="241.9" r="2.2"/><circle cx="324.0" cy="243.3" r="2.2"/><circle cx="314.9" cy="249.3" r="2.2"/><circle cx="330.8" cy="238.2" r="2.2"/><circle cx="321.1" cy="242.9" r="2.2"/><circle cx="324.5" cy="244.7" r="2.2"/><circle cx="313.0" cy="253.3" r="2.2"/><circle cx="326.6" cy="253.8" r="2.2"/><circle cx="336.1" cy="241.1" r="2.2"/><circle cx="323.2" cy="246.7" r="2.2"/><circle cx="327.7" cy="248.2" r="2.2"/><circle cx="322.3" cy="241.8" r="2.2"/><circle cx="312.5" cy="246.5" r="2.2"/><circle cx="321.1" cy="251.1" r="2.2"/><circle cx="313.3" cy="251.3" r="2.2"/><circle cx="311.7" cy="240.1" r="2.2"/><circle cx="322.7" cy="241.6" r="2.2"/><circle cx="330.8" cy="248.1" r="2.2"/><circle cx="319.4" cy="241.0" r="2.2"/><circle cx="325.4" cy="231.6" r="2.2"/><circle cx="324.5" cy="243.5" r="2.2"/><circle cx="335.1" cy="241.3" r="2.2"/><circle cx="322.2" cy="240.0" r="2.2"/><circle cx="322.7" cy="240.5" r="2.2"/><circle cx="314.5" cy="252.2" r="2.2"/><circle cx="317.4" cy="246.3" r="2.2"/><circle cx="335.7" cy="238.2" r="2.2"/><circle cx="318.4" cy="238.9" r="2.2"/><circle cx="309.9" cy="243.5" r="2.2"/><circle cx="326.2" cy="242.7" r="2.2"/><circle cx="314.2" cy="240.5" r="2.2"/><circle cx="318.5" cy="248.5" r="2.2"/><circle cx="326.7" cy="242.5" r="2.2"/><circle cx="313.5" cy="246.1" r="2.2"/><circle cx="316.6" cy="249.3" r="2.2"/><circle cx="318.8" cy="248.3" r="2.2"/><circle cx="317.1" cy="243.6" r="2.2"/><circle cx="312.1" cy="244.8" r="2.2"/><circle cx="311.3" cy="238.1" r="2.2"/><circle cx="317.9" cy="239.4" r="2.2"/><circle cx="324.6" cy="245.6" r="2.2"/><circle cx="315.5" cy="248.1" r="2.2"/><circle cx="323.9" cy="238.4" r="2.2"/><circle cx="321.0" cy="244.6" r="2.2"/><circle cx="334.9" cy="243.1" r="2.2"/><circle cx="315.2" cy="248.2" r="2.2"/><circle cx="314.2" cy="246.5" r="2.2"/><circle cx="311.2" cy="252.9" r="2.2"/><circle cx="316.3" cy="251.3" r="2.2"/><circle cx="316.0" cy="246.3" r="2.2"/><circle cx="317.2" cy="241.5" r="2.2"/><circle cx="323.1" cy="244.8" r="2.2"/><circle cx="318.5" cy="249.4" r="2.2"/><circle cx="318.4" cy="249.4" r="2.2"/><circle cx="319.2" cy="242.9" r="2.2"/><circle cx="314.6" cy="244.1" r="2.2"/><circle cx="319.4" cy="247.3" r="2.2"/><circle cx="313.5" cy="253.1" r="2.2"/><circle cx="324.2" cy="243.3" r="2.2"/><circle cx="332.1" cy="239.3" r="2.2"/><circle cx="318.4" cy="245.4" r="2.2"/><circle cx="329.0" cy="237.8" r="2.2"/><circle cx="324.6" cy="242.8" r="2.2"/><circle cx="319.9" cy="232.5" r="2.2"/><circle cx="318.6" cy="242.6" r="2.2"/><circle cx="321.4" cy="253.3" r="2.2"/><circle cx="325.0" cy="235.0" r="2.2"/><circle cx="315.4" cy="248.5" r="2.2"/><circle cx="313.9" cy="248.1" r="2.2"/><circle cx="323.0" cy="248.1" r="2.2"/><circle cx="328.6" cy="240.2" r="2.2"/><circle cx="320.4" cy="242.1" r="2.2"/><circle cx="331.1" cy="236.1" r="2.2"/><circle cx="317.5" cy="241.7" r="2.2"/><circle cx="317.5" cy="238.4" r="2.2"/><circle cx="319.8" cy="246.1" r="2.2"/><circle cx="331.3" cy="241.2" r="2.2"/><circle cx="335.7" cy="239.5" r="2.2"/><circle cx="334.3" cy="240.7" r="2.2"/><circle cx="311.2" cy="248.5" r="2.2"/><circle cx="319.4" cy="245.5" r="2.2"/><circle cx="315.0" cy="245.7" r="2.2"/><circle cx="321.8" cy="238.4" r="2.2"/><circle cx="329.1" cy="239.0" r="2.2"/><circle cx="310.0" cy="244.0" r="2.2"/><circle cx="330.0" cy="231.7" r="2.2"/><circle cx="318.8" cy="248.0" r="2.2"/><circle cx="324.6" cy="252.7" r="2.2"/><circle cx="315.7" cy="248.5" r="2.2"/><circle cx="333.6" cy="242.4" r="2.2"/><circle cx="311.9" cy="250.3" r="2.2"/><circle cx="315.2" cy="244.1" r="2.2"/><circle cx="317.1" cy="244.5" r="2.2"/><circle cx="317.9" cy="246.8" r="2.2"/><circle cx="318.9" cy="244.0" r="2.2"/><circle cx="317.6" cy="238.6" r="2.2"/><circle cx="313.1" cy="239.2" r="2.2"/><circle cx="313.7" cy="239.6" r="2.2"/><circle cx="313.5" cy="242.4" r="2.2"/><circle cx="314.3" cy="244.0" r="2.2"/><circle cx="317.6" cy="249.5" r="2.2"/><circle cx="314.9" cy="237.9" r="2.2"/><circle cx="320.0" cy="247.0" r="2.2"/><circle cx="313.5" cy="247.1" r="2.2"/><circle cx="327.0" cy="239.2" r="2.2"/><circle cx="316.7" cy="248.8" r="2.2"/><circle cx="321.4" cy="243.1" r="2.2"/><circle cx="316.8" cy="250.7" r="2.2"/><circle cx="321.9" cy="246.2" r="2.2"/><circle cx="318.7" cy="242.3" r="2.2"/><circle cx="317.1" cy="243.5" r="2.2"/><circle cx="324.2" cy="250.0" r="2.2"/><circle cx="309.6" cy="243.5" r="2.2"/><circle cx="316.0" cy="250.3" r="2.2"/><circle cx="330.8" cy="231.4" r="2.2"/><circle cx="319.7" cy="253.2" r="2.2"/><circle cx="323.7" cy="243.7" r="2.2"/><circle cx="323.3" cy="242.1" r="2.2"/><circle cx="322.0" cy="248.3" r="2.2"/><circle cx="329.6" cy="239.5" r="2.2"/><circle cx="326.5" cy="243.1" r="2.2"/><circle cx="329.8" cy="238.8" r="2.2"/><circle cx="325.3" cy="242.9" r="2.2"/><circle cx="328.1" cy="245.5" r="2.2"/><circle cx="314.3" cy="253.0" r="2.2"/><circle cx="316.7" cy="247.8" r="2.2"/><circle cx="319.5" cy="248.0" r="2.2"/><circle cx="326.6" cy="245.5" r="2.2"/><circle cx="317.2" cy="243.7" r="2.2"/><circle cx="330.5" cy="243.3" r="2.2"/><circle cx="309.7" cy="250.1" r="2.2"/><circle cx="321.3" cy="233.1" r="2.2"/><circle cx="309.8" cy="251.0" r="2.2"/><circle cx="313.0" cy="241.6" r="2.2"/><circle cx="328.7" cy="239.7" r="2.2"/><circle cx="308.6" cy="253.7" r="2.2"/><circle cx="324.5" cy="242.4" r="2.2"/><circle cx="313.3" cy="253.4" r="2.2"/><circle cx="314.4" cy="250.1" r="2.2"/><circle cx="318.0" cy="247.4" r="2.2"/><circle cx="319.7" cy="239.2" r="2.2"/><circle cx="318.0" cy="247.4" r="2.2"/><circle cx="323.3" cy="235.1" r="2.2"/><circle cx="313.1" cy="240.7" r="2.2"/><circle cx="315.8" cy="250.1" r="2.2"/><circle cx="321.9" cy="235.6" r="2.2"/><circle cx="310.3" cy="245.9" r="2.2"/><circle cx="325.5" cy="243.6" r="2.2"/><circle cx="321.6" cy="236.9" r="2.2"/><circle cx="325.1" cy="247.7" r="2.2"/><circle cx="322.6" cy="232.8" r="2.2"/><circle cx="320.0" cy="244.6" r="2.2"/><circle cx="334.6" cy="246.0" r="2.2"/><circle cx="315.6" cy="252.8" r="2.2"/><circle cx="323.2" cy="242.8" r="2.2"/><circle cx="316.6" cy="245.6" r="2.2"/><circle cx="307.8" cy="247.4" r="2.2"/><circle cx="316.3" cy="238.8" r="2.2"/><circle cx="333.2" cy="243.8" r="2.2"/><circle cx="334.8" cy="240.6" r="2.2"/><circle cx="311.0" cy="238.9" r="2.2"/><circle cx="331.7" cy="246.8" r="2.2"/><circle cx="320.4" cy="240.2" r="2.2"/><circle cx="316.3" cy="248.3" r="2.2"/><circle cx="323.0" cy="252.4" r="2.2"/><circle cx="325.9" cy="242.9" r="2.2"/><circle cx="322.5" cy="251.7" r="2.2"/><circle cx="321.9" cy="247.0" r="2.2"/><circle cx="325.5" cy="240.0" r="2.2"/><circle cx="322.1" cy="235.6" r="2.2"/><circle cx="315.3" cy="239.5" r="2.2"/><circle cx="320.0" cy="253.8" r="2.2"/><circle cx="324.2" cy="241.9" r="2.2"/><circle cx="331.4" cy="242.6" r="2.2"/><circle cx="311.3" cy="251.2" r="2.2"/><circle cx="332.9" cy="236.9" r="2.2"/><circle cx="309.3" cy="250.3" r="2.2"/><circle cx="319.4" cy="240.8" r="2.2"/><circle cx="321.6" cy="251.9" r="2.2"/><circle cx="333.1" cy="239.2" r="2.2"/><circle cx="337.7" cy="245.9" r="2.2"/><circle cx="326.9" cy="224.4" r="2.2"/><circle cx="317.0" cy="252.6" r="2.2"/><circle cx="320.6" cy="232.3" r="2.2"/><circle cx="323.2" cy="236.3" r="2.2"/><circle cx="342.6" cy="235.1" r="2.2"/><circle cx="332.9" cy="248.2" r="2.2"/><circle cx="345.6" cy="219.8" r="2.2"/><circle cx="318.9" cy="237.7" r="2.2"/><circle cx="320.7" cy="227.2" r="2.2"/><circle cx="330.7" cy="243.6" r="2.2"/><circle cx="314.7" cy="248.2" r="2.2"/><circle cx="332.6" cy="231.9" r="2.2"/><circle cx="319.7" cy="242.2" r="2.2"/><circle cx="332.8" cy="233.1" r="2.2"/><circle cx="329.2" cy="240.0" r="2.2"/><circle cx="327.1" cy="229.2" r="2.2"/><circle cx="318.9" cy="247.6" r="2.2"/><circle cx="341.9" cy="230.6" r="2.2"/><circle cx="326.5" cy="246.6" r="2.2"/><circle cx="324.6" cy="234.9" r="2.2"/><circle cx="325.4" cy="237.0" r="2.2"/><circle cx="319.2" cy="243.9" r="2.2"/><circle cx="334.8" cy="232.6" r="2.2"/><circle cx="340.9" cy="222.1" r="2.2"/><circle cx="331.8" cy="240.5" r="2.2"/><circle cx="321.5" cy="242.8" r="2.2"/><circle cx="345.3" cy="225.2" r="2.2"/><circle cx="320.0" cy="247.0" r="2.2"/><circle cx="324.2" cy="236.5" r="2.2"/><circle cx="327.3" cy="230.1" r="2.2"/><circle cx="328.4" cy="227.0" r="2.2"/><circle cx="342.0" cy="224.4" r="2.2"/><circle cx="319.2" cy="246.3" r="2.2"/><circle cx="331.9" cy="240.8" r="2.2"/><circle cx="311.8" cy="246.6" r="2.2"/><circle cx="329.8" cy="251.1" r="2.2"/><circle cx="309.8" cy="252.7" r="2.2"/><circle cx="333.1" cy="230.1" r="2.2"/><circle cx="312.7" cy="250.3" r="2.2"/><circle cx="323.7" cy="240.5" r="2.2"/><circle cx="338.6" cy="238.8" r="2.2"/><circle cx="334.2" cy="222.7" r="2.2"/><circle cx="325.0" cy="234.2" r="2.2"/><circle cx="316.3" cy="237.1" r="2.2"/><circle cx="339.3" cy="227.6" r="2.2"/><circle cx="322.0" cy="246.5" r="2.2"/><circle cx="323.2" cy="228.7" r="2.2"/><circle cx="317.4" cy="249.7" r="2.2"/><circle cx="338.3" cy="243.0" r="2.2"/><circle cx="326.1" cy="246.7" r="2.2"/><circle cx="327.6" cy="241.4" r="2.2"/><circle cx="336.9" cy="239.2" r="2.2"/><circle cx="328.3" cy="230.9" r="2.2"/><circle cx="339.1" cy="233.3" r="2.2"/><circle cx="321.2" cy="248.2" r="2.2"/><circle cx="338.2" cy="231.8" r="2.2"/><circle cx="342.6" cy="228.4" r="2.2"/><circle cx="320.4" cy="235.2" r="2.2"/><circle cx="332.0" cy="231.6" r="2.2"/><circle cx="313.9" cy="244.9" r="2.2"/><circle cx="330.5" cy="236.4" r="2.2"/><circle cx="314.0" cy="236.0" r="2.2"/><circle cx="309.6" cy="253.0" r="2.2"/><circle cx="319.4" cy="249.5" r="2.2"/><circle cx="314.9" cy="233.8" r="2.2"/><circle cx="312.3" cy="248.8" r="2.2"/><circle cx="335.2" cy="235.8" r="2.2"/><circle cx="331.9" cy="245.8" r="2.2"/><circle cx="317.5" cy="242.3" r="2.2"/><circle cx="332.6" cy="229.4" r="2.2"/><circle cx="315.9" cy="245.6" r="2.2"/><circle cx="346.0" cy="226.6" r="2.2"/><circle cx="338.0" cy="226.6" r="2.2"/><circle cx="331.5" cy="240.5" r="2.2"/><circle cx="321.6" cy="242.2" r="2.2"/><circle cx="317.1" cy="245.4" r="2.2"/><circle cx="331.6" cy="232.8" r="2.2"/><circle cx="329.3" cy="238.9" r="2.2"/><circle cx="320.8" cy="250.4" r="2.2"/><circle cx="309.1" cy="238.5" r="2.2"/><circle cx="344.4" cy="229.4" r="2.2"/><circle cx="335.3" cy="247.4" r="2.2"/><circle cx="314.3" cy="244.5" r="2.2"/><circle cx="324.6" cy="241.1" r="2.2"/><circle cx="319.2" cy="235.0" r="2.2"/><circle cx="328.6" cy="247.7" r="2.2"/><circle cx="322.3" cy="239.4" r="2.2"/><circle cx="327.3" cy="235.1" r="2.2"/><circle cx="315.2" cy="237.1" r="2.2"/><circle cx="323.5" cy="242.9" r="2.2"/><circle cx="328.5" cy="233.1" r="2.2"/><circle cx="330.6" cy="238.8" r="2.2"/><circle cx="313.8" cy="243.4" r="2.2"/><circle cx="318.2" cy="244.0" r="2.2"/><circle cx="318.6" cy="242.8" r="2.2"/><circle cx="331.6" cy="233.3" r="2.2"/><circle cx="330.4" cy="240.5" r="2.2"/><circle cx="316.6" cy="241.0" r="2.2"/><circle cx="333.1" cy="238.0" r="2.2"/><circle cx="314.7" cy="253.0" r="2.2"/><circle cx="340.0" cy="226.3" r="2.2"/><circle cx="335.0" cy="236.0" r="2.2"/><circle cx="326.8" cy="224.1" r="2.2"/><circle cx="336.3" cy="242.1" r="2.2"/><circle cx="335.5" cy="244.3" r="2.2"/><circle cx="342.6" cy="219.9" r="2.2"/><circle cx="331.8" cy="239.0" r="2.2"/><circle cx="333.2" cy="241.0" r="2.2"/><circle cx="327.4" cy="237.0" r="2.2"/><circle cx="343.8" cy="221.5" r="2.2"/><circle cx="334.1" cy="231.3" r="2.2"/><circle cx="332.2" cy="232.5" r="2.2"/><circle cx="335.4" cy="227.4" r="2.2"/><circle cx="326.7" cy="233.6" r="2.2"/><circle cx="344.2" cy="228.5" r="2.2"/><circle cx="321.2" cy="237.7" r="2.2"/><circle cx="351.1" cy="216.3" r="2.2"/><circle cx="357.9" cy="241.3" r="2.2"/><circle cx="352.0" cy="211.8" r="2.2"/><circle cx="384.0" cy="200.9" r="2.2"/><circle cx="390.6" cy="205.6" r="2.2"/><circle cx="373.2" cy="189.2" r="2.2"/><circle cx="406.8" cy="196.7" r="2.2"/><circle cx="394.9" cy="175.1" r="2.2"/><circle cx="388.5" cy="192.3" r="2.2"/><circle cx="345.8" cy="228.2" r="2.2"/><circle cx="366.2" cy="188.6" r="2.2"/><circle cx="398.6" cy="175.0" r="2.2"/><circle cx="393.0" cy="177.9" r="2.2"/><circle cx="396.7" cy="216.8" r="2.2"/><circle cx="363.4" cy="220.0" r="2.2"/><circle cx="353.9" cy="213.1" r="2.2"/><circle cx="405.9" cy="203.7" r="2.2"/><circle cx="373.1" cy="209.1" r="2.2"/><circle cx="365.8" cy="208.1" r="2.2"/><circle cx="378.8" cy="201.2" r="2.2"/><circle cx="350.9" cy="192.5" r="2.2"/><circle cx="371.8" cy="203.2" r="2.2"/><circle cx="397.1" cy="165.2" r="2.2"/><circle cx="363.0" cy="206.7" r="2.2"/><circle cx="355.3" cy="196.4" r="2.2"/><circle cx="358.5" cy="227.9" r="2.2"/><circle cx="377.5" cy="192.5" r="2.2"/><circle cx="356.5" cy="217.9" r="2.2"/><circle cx="354.6" cy="224.7" r="2.2"/><circle cx="390.8" cy="215.6" r="2.2"/><circle cx="419.2" cy="194.8" r="2.2"/><circle cx="407.8" cy="207.2" r="2.2"/><circle cx="365.7" cy="202.7" r="2.2"/><circle cx="350.2" cy="226.6" r="2.2"/><circle cx="358.0" cy="219.5" r="2.2"/><circle cx="330.7" cy="226.8" r="2.2"/><circle cx="348.4" cy="194.0" r="2.2"/><circle cx="393.8" cy="201.2" r="2.2"/><circle cx="405.9" cy="195.1" r="2.2"/><circle cx="374.0" cy="209.7" r="2.2"/><circle cx="317.3" cy="228.5" r="2.2"/><circle cx="389.3" cy="200.6" r="2.2"/><circle cx="381.8" cy="201.2" r="2.2"/><circle cx="406.1" cy="187.3" r="2.2"/><circle cx="360.5" cy="213.3" r="2.2"/><circle cx="377.9" cy="197.4" r="2.2"/><circle cx="348.9" cy="214.8" r="2.2"/><circle cx="418.5" cy="179.6" r="2.2"/><circle cx="361.4" cy="226.6" r="2.2"/><circle cx="397.8" cy="175.1" r="2.2"/><circle cx="386.0" cy="180.4" r="2.2"/><circle cx="397.0" cy="179.1" r="2.2"/><circle cx="399.3" cy="186.2" r="2.2"/><circle cx="421.9" cy="192.5" r="2.2"/><circle cx="387.7" cy="200.2" r="2.2"/><circle cx="403.8" cy="172.8" r="2.2"/><circle cx="350.9" cy="211.4" r="2.2"/><circle cx="362.7" cy="208.9" r="2.2"/><circle cx="385.4" cy="179.6" r="2.2"/><circle cx="343.7" cy="219.3" r="2.2"/><circle cx="388.7" cy="217.2" r="2.2"/><circle cx="361.6" cy="228.4" r="2.2"/><circle cx="368.0" cy="211.4" r="2.2"/><circle cx="378.5" cy="208.4" r="2.2"/><circle cx="354.2" cy="195.9" r="2.2"/><circle cx="426.4" cy="174.8" r="2.2"/><circle cx="374.1" cy="230.4" r="2.2"/><circle cx="387.5" cy="179.8" r="2.2"/><circle cx="320.6" cy="236.1" r="2.2"/><circle cx="389.6" cy="200.6" r="2.2"/><circle cx="374.2" cy="229.7" r="2.2"/><circle cx="345.1" cy="215.7" r="2.2"/><circle cx="383.5" cy="208.2" r="2.2"/><circle cx="391.7" cy="191.5" r="2.2"/><circle cx="314.0" cy="229.3" r="2.2"/><circle cx="364.6" cy="228.6" r="2.2"/><circle cx="388.2" cy="200.3" r="2.2"/><circle cx="350.3" cy="243.3" r="2.2"/><circle cx="328.2" cy="239.0" r="2.2"/><circle cx="342.4" cy="210.0" r="2.2"/><circle cx="326.2" cy="230.0" r="2.2"/><circle cx="379.4" cy="189.6" r="2.2"/><circle cx="356.8" cy="226.4" r="2.2"/><circle cx="413.2" cy="192.4" r="2.2"/><circle cx="389.6" cy="208.2" r="2.2"/><circle cx="383.4" cy="208.9" r="2.2"/><circle cx="330.5" cy="235.3" r="2.2"/><circle cx="347.2" cy="195.9" r="2.2"/><circle cx="398.0" cy="196.7" r="2.2"/><circle cx="356.0" cy="212.9" r="2.2"/><circle cx="346.5" cy="225.3" r="2.2"/><circle cx="359.2" cy="217.4" r="2.2"/><circle cx="369.8" cy="227.7" r="2.2"/><circle cx="326.4" cy="231.8" r="2.2"/><circle cx="388.0" cy="202.7" r="2.2"/><circle cx="393.6" cy="194.3" r="2.2"/><circle cx="375.7" cy="220.1" r="2.2"/><circle cx="372.1" cy="218.3" r="2.2"/><circle cx="355.7" cy="220.7" r="2.2"/><circle cx="360.9" cy="211.5" r="2.2"/><circle cx="361.0" cy="223.8" r="2.2"/><circle cx="368.5" cy="215.1" r="2.2"/><circle cx="375.0" cy="201.0" r="2.2"/><circle cx="383.7" cy="206.7" r="2.2"/><circle cx="361.7" cy="219.8" r="2.2"/><circle cx="373.1" cy="205.3" r="2.2"/><circle cx="344.7" cy="215.9" r="2.2"/><circle cx="402.8" cy="197.7" r="2.2"/><circle cx="377.4" cy="188.3" r="2.2"/><circle cx="327.2" cy="233.5" r="2.2"/><circle cx="393.9" cy="121.0" r="2.2"/><circle cx="395.9" cy="125.1" r="2.2"/><circle cx="403.9" cy="129.1" r="2.2"/><circle cx="381.3" cy="131.5" r="2.2"/><circle cx="406.0" cy="141.2" r="2.2"/><circle cx="396.9" cy="145.3" r="2.2"/><circle cx="370.2" cy="153.8" r="2.2"/><circle cx="368.6" cy="160.2" r="2.2"/><circle cx="340.3" cy="161.4" r="2.2"/><circle cx="365.0" cy="165.5" r="2.2"/><circle cx="404.4" cy="155.8" r="2.2"/><circle cx="394.5" cy="163.4" r="2.2"/><circle cx="404.0" cy="162.2" r="2.2"/><circle cx="405.4" cy="163.4" r="2.2"/><circle cx="384.8" cy="166.9" r="2.2"/><circle cx="391.8" cy="166.9" r="2.2"/><circle cx="450.4" cy="86.1" r="2.2"/><circle cx="421.2" cy="122.1" r="2.2"/><circle cx="421.2" cy="128.9" r="2.2"/><circle cx="469.2" cy="121.4" r="2.2"/><circle cx="476.7" cy="121.4" r="2.2"/><circle cx="411.1" cy="138.0" r="2.2"/><circle cx="448.0" cy="137.2" r="2.2"/><circle cx="435.3" cy="147.1" r="2.2"/><circle cx="413.5" cy="152.1" r="2.2"/><circle cx="416.7" cy="156.8" r="2.2"/><circle cx="421.2" cy="155.4" r="2.2"/><circle cx="412.1" cy="160.8" r="2.2"/><circle cx="414.7" cy="162.8" r="2.2"/><circle cx="417.1" cy="163.4" r="2.2"/><circle cx="494.5" cy="150.1" r="2.2"/><circle cx="481.3" cy="158.4" r="2.2"/><circle cx="478.7" cy="165.3" r="2.2"/><circle cx="496.9" cy="178.7" r="2.2"/><circle cx="475.7" cy="182.2" r="2.2"/><circle cx="435.9" cy="174.7" r="2.2"/><circle cx="459.1" cy="185.2" r="2.2"/><circle cx="465.2" cy="191.3" r="2.2"/><circle cx="457.1" cy="194.9" r="2.2"/><circle cx="470.2" cy="204.4" r="2.2"/><circle cx="405.0" cy="169.0" r="2.2"/><circle cx="406.0" cy="173.5" r="2.2"/><circle cx="409.4" cy="177.5" r="2.2"/><circle cx="412.1" cy="181.2" r="2.2"/><circle cx="410.7" cy="182.8" r="2.2"/><circle cx="414.1" cy="187.2" r="2.2"/><circle cx="416.1" cy="186.2" r="2.2"/><circle cx="424.2" cy="188.2" r="2.2"/><circle cx="430.2" cy="189.2" r="2.2"/><circle cx="438.3" cy="189.6" r="2.2"/><circle cx="434.3" cy="192.3" r="2.2"/><circle cx="422.2" cy="191.3" r="2.2"/><circle cx="420.1" cy="194.9" r="2.2"/><circle cx="424.2" cy="195.7" r="2.2"/><circle cx="423.2" cy="198.3" r="2.2"/><circle cx="430.8" cy="195.7" r="2.2"/><circle cx="410.0" cy="198.3" r="2.2"/><circle cx="409.4" cy="200.3" r="2.2"/><circle cx="405.0" cy="200.3" r="2.2"/><circle cx="415.1" cy="203.4" r="2.2"/><circle cx="419.1" cy="203.8" r="2.2"/><circle cx="410.0" cy="204.4" r="2.2"/><circle cx="436.3" cy="203.4" r="2.2"/><circle cx="418.7" cy="207.4" r="2.2"/><circle cx="408.6" cy="208.4" r="2.2"/><circle cx="423.2" cy="209.8" r="2.2"/><circle cx="406.0" cy="212.5" r="2.2"/><circle cx="417.1" cy="212.5" r="2.2"/><circle cx="439.9" cy="213.1" r="2.2"/><circle cx="422.2" cy="218.5" r="2.2"/><circle cx="425.2" cy="219.9" r="2.2"/><circle cx="418.1" cy="225.0" r="2.2"/><circle cx="405.0" cy="228.6" r="2.2"/><circle cx="333.3" cy="172.5" r="2.2"/><circle cx="358.5" cy="174.7" r="2.2"/><circle cx="392.8" cy="169.0" r="2.2"/><circle cx="379.7" cy="173.1" r="2.2"/><circle cx="378.1" cy="177.1" r="2.2"/><circle cx="392.8" cy="176.1" r="2.2"/><circle cx="393.9" cy="178.7" r="2.2"/><circle cx="404.0" cy="174.1" r="2.2"/><circle cx="351.0" cy="182.2" r="2.2"/><circle cx="359.5" cy="185.6" r="2.2"/><circle cx="365.6" cy="184.2" r="2.2"/><circle cx="371.6" cy="183.2" r="2.2"/><circle cx="375.7" cy="184.2" r="2.2"/><circle cx="381.7" cy="188.2" r="2.2"/><circle cx="388.8" cy="184.2" r="2.2"/><circle cx="393.9" cy="186.2" r="2.2"/><circle cx="348.4" cy="195.3" r="2.2"/><circle cx="353.5" cy="192.9" r="2.2"/><circle cx="357.1" cy="193.3" r="2.2"/><circle cx="336.3" cy="199.3" r="2.2"/><circle cx="352.5" cy="200.9" r="2.2"/><circle cx="359.5" cy="200.3" r="2.2"/><circle cx="365.6" cy="199.3" r="2.2"/><circle cx="371.6" cy="197.3" r="2.2"/><circle cx="381.7" cy="197.3" r="2.2"/><circle cx="384.8" cy="198.3" r="2.2"/><circle cx="373.7" cy="188.2" r="2.2"/><circle cx="379.7" cy="190.2" r="2.2"/><circle cx="385.8" cy="193.3" r="2.2"/><circle cx="342.4" cy="206.4" r="2.2"/><circle cx="347.4" cy="208.4" r="2.2"/><circle cx="355.5" cy="204.4" r="2.2"/><circle cx="359.5" cy="206.4" r="2.2"/><circle cx="364.6" cy="207.8" r="2.2"/><circle cx="369.6" cy="202.4" r="2.2"/><circle cx="374.7" cy="203.4" r="2.2"/><circle cx="368.6" cy="209.4" r="2.2"/><circle cx="374.7" cy="210.4" r="2.2"/><circle cx="380.7" cy="208.4" r="2.2"/><circle cx="387.8" cy="205.4" r="2.2"/><circle cx="392.8" cy="207.4" r="2.2"/><circle cx="397.9" cy="206.4" r="2.2"/><circle cx="401.9" cy="204.4" r="2.2"/><circle cx="405.6" cy="210.4" r="2.2"/><circle cx="389.8" cy="202.4" r="2.2"/><circle cx="384.8" cy="214.5" r="2.2"/><circle cx="391.8" cy="213.5" r="2.2"/><circle cx="387.8" cy="217.5" r="2.2"/><circle cx="393.9" cy="217.5" r="2.2"/><circle cx="397.9" cy="216.5" r="2.2"/><circle cx="399.9" cy="218.5" r="2.2"/><circle cx="393.9" cy="222.6" r="2.2"/><circle cx="399.9" cy="222.6" r="2.2"/><circle cx="394.9" cy="230.6" r="2.2"/><circle cx="401.9" cy="229.2" r="2.2"/><circle cx="374.7" cy="216.5" r="2.2"/><circle cx="378.7" cy="218.5" r="2.2"/><circle cx="370.6" cy="220.5" r="2.2"/><circle cx="365.6" cy="223.6" r="2.2"/><circle cx="371.6" cy="226.6" r="2.2"/><circle cx="377.7" cy="223.6" r="2.2"/><circle cx="383.8" cy="223.6" r="2.2"/><circle cx="371.6" cy="230.6" r="2.2"/><circle cx="359.5" cy="228.6" r="2.2"/><circle cx="355.5" cy="228.6" r="2.2"/><circle cx="360.5" cy="213.5" r="2.2"/><circle cx="356.5" cy="210.4" r="2.2"/><circle cx="366.6" cy="215.5" r="2.2"/><circle cx="347.4" cy="213.5" r="2.2"/><circle cx="343.4" cy="215.5" r="2.2"/><circle cx="335.3" cy="214.5" r="2.2"/><circle cx="330.2" cy="213.5" r="2.2"/><circle cx="325.2" cy="215.5" r="2.2"/><circle cx="320.1" cy="218.5" r="2.2"/><circle cx="319.1" cy="222.6" r="2.2"/><circle cx="341.3" cy="219.5" r="2.2"/><circle cx="353.5" cy="222.6" r="2.2"/><circle cx="348.4" cy="223.6" r="2.2"/><circle cx="337.3" cy="223.6" r="2.2"/><circle cx="348.4" cy="234.7" r="2.2"/><circle cx="353.5" cy="241.3" r="2.2"/><circle cx="351.4" cy="235.7" r="2.2"/><circle cx="371.6" cy="233.7" r="2.2"/><circle cx="308.0" cy="229.6" r="2.2"/><circle cx="394.5" cy="100.2" r="1.5" fill="#000" fill-opacity="1"/></g>
<line x1="307.0" y1="248.2" x2="496.8" y2="131.1" stroke="#b5121f" stroke-width="1.5"/>
<line x1="307.0" y1="79.0" x2="307.0" y2="258.2" stroke="#1c1c1c" stroke-width="1.7"/>
<line x1="306.3" y1="254.6" x2="505.7" y2="254.6" stroke="#1c1c1c" stroke-width="1.7"/>
<line x1="303.3" y1="254.60" x2="307.0" y2="254.60" stroke="#1c1c1c" stroke-width="1.2"/>
<line x1="303.3" y1="205.90" x2="307.0" y2="205.90" stroke="#1c1c1c" stroke-width="1.2"/>
<line x1="303.3" y1="157.20" x2="307.0" y2="157.20" stroke="#1c1c1c" stroke-width="1.2"/>
<line x1="303.3" y1="108.50" x2="307.0" y2="108.50" stroke="#1c1c1c" stroke-width="1.2"/>
<line x1="303.3" y1="230.25" x2="307.0" y2="230.25" stroke="#1c1c1c" stroke-width="1.2"/>
<line x1="303.3" y1="181.55" x2="307.0" y2="181.55" stroke="#1c1c1c" stroke-width="1.2"/>
<line x1="303.3" y1="132.85" x2="307.0" y2="132.85" stroke="#1c1c1c" stroke-width="1.2"/>
<text x="299.3" y="257.20" font-size="9.8" text-anchor="end" fill="#2a2a2a">0.0</text>
<text x="299.3" y="208.50" font-size="9.8" text-anchor="end" fill="#2a2a2a">2.5</text>
<text x="296.8" y="159.80" font-size="9.8" text-anchor="end" fill="#2a2a2a">5.0</text>
<text x="299.3" y="111.10" font-size="9.8" text-anchor="end" fill="#2a2a2a">7.5</text>
<line x1="307.00" y1="254.6" x2="307.00" y2="258.2" stroke="#1c1c1c" stroke-width="1.2"/>
<line x1="361.07" y1="254.6" x2="361.07" y2="258.2" stroke="#1c1c1c" stroke-width="1.2"/>
<line x1="415.15" y1="254.6" x2="415.15" y2="258.2" stroke="#1c1c1c" stroke-width="1.2"/>
<line x1="469.23" y1="254.6" x2="469.23" y2="258.2" stroke="#1c1c1c" stroke-width="1.2"/>
<text x="307.00" y="270.3" font-size="9.8" text-anchor="middle" fill="#2a2a2a">0</text>
<text x="361.07" y="270.3" font-size="9.8" text-anchor="middle" fill="#2a2a2a">2.5</text>
<text x="415.15" y="270.3" font-size="9.8" text-anchor="middle" fill="#2a2a2a">5.0</text>
<text x="469.23" y="270.3" font-size="9.8" text-anchor="middle" fill="#2a2a2a">7.5</text>
<text x="360.8" y="285.7" font-size="10" textLength="91.0" lengthAdjust="spacingAndGlyphs" fill="#2a2a2a">Index donation (REDS III)</text>
<text transform="translate(279.8,212.8) rotate(-90)" x="0" y="0" font-size="10" textLength="92.5" lengthAdjust="spacingAndGlyphs" fill="#2a2a2a">Recall donation (REDS IV)</text>
<rect x="10.3" y="309.7" width="243.3" height="253.8" fill="none" stroke="#6a6a6a" stroke-width="1.5"/>
<text x="55.0" y="320.7" font-size="9.8" textLength="124.7" lengthAdjust="spacingAndGlyphs" fill="#2a2a2a">N6-N6-N6-Trimethyl-L-lysine</text>
<text x="55.0" y="332.6" font-size="9.8" textLength="180.8" lengthAdjust="spacingAndGlyphs" fill="#2a2a2a">rho = 0.6678, <tspan font-style="italic">P</tspan> = 7.383e-84, R<tspan font-size="6.6" dy="-3.6">2</tspan><tspan dy="3.6"> = 0.4807</tspan></text>
<g fill="url(#dg)"><circle cx="90.1" cy="496.5" r="2.2"/><circle cx="113.2" cy="483.6" r="2.2"/><circle cx="85.1" cy="503.4" r="2.2"/><circle cx="83.8" cy="492.6" r="2.2"/><circle cx="104.5" cy="487.0" r="2.2"/><circle cx="122.2" cy="488.0" r="2.2"/><circle cx="92.0" cy="502.3" r="2.2"/><circle cx="88.5" cy="484.4" r="2.2"/><circle cx="123.9" cy="478.8" r="2.2"/><circle cx="111.8" cy="500.2" r="2.2"/><circle cx="116.7" cy="465.8" r="2.2"/><circle cx="96.9" cy="495.1" r="2.2"/><circle cx="109.3" cy="477.5" r="2.2"/><circle cx="97.2" cy="478.0" r="2.2"/><circle cx="99.3" cy="486.5" r="2.2"/><circle cx="141.1" cy="464.1" r="2.2"/><circle cx="76.4" cy="504.1" r="2.2"/><circle cx="114.5" cy="475.4" r="2.2"/><circle cx="93.3" cy="500.1" r="2.2"/><circle cx="75.8" cy="510.7" r="2.2"/><circle cx="120.4" cy="474.7" r="2.2"/><circle cx="100.3" cy="471.1" r="2.2"/><circle cx="115.7" cy="475.0" r="2.2"/><circle cx="109.6" cy="480.3" r="2.2"/><circle cx="108.9" cy="475.2" r="2.2"/><circle cx="127.3" cy="459.8" r="2.2"/><circle cx="99.3" cy="491.1" r="2.2"/><circle cx="119.5" cy="466.9" r="2.2"/><circle cx="112.5" cy="478.3" r="2.2"/><circle cx="105.0" cy="486.5" r="2.2"/><circle cx="107.5" cy="485.8" r="2.2"/><circle cx="94.7" cy="504.9" r="2.2"/><circle cx="94.1" cy="476.8" r="2.2"/><circle cx="128.5" cy="473.4" r="2.2"/><circle cx="95.0" cy="498.5" r="2.2"/><circle cx="101.1" cy="486.0" r="2.2"/><circle cx="124.3" cy="455.5" r="2.2"/><circle cx="94.1" cy="490.1" r="2.2"/><circle cx="132.9" cy="464.5" r="2.2"/><circle cx="100.8" cy="480.9" r="2.2"/><circle cx="102.3" cy="471.7" r="2.2"/><circle cx="85.9" cy="486.1" r="2.2"/><circle cx="84.0" cy="515.3" r="2.2"/><circle cx="137.1" cy="466.3" r="2.2"/><circle cx="96.0" cy="486.5" r="2.2"/><circle cx="91.2" cy="494.8" r="2.2"/><circle cx="105.6" cy="471.4" r="2.2"/><circle cx="84.2" cy="487.2" r="2.2"/><circle cx="112.0" cy="483.4" r="2.2"/><circle cx="128.7" cy="453.6" r="2.2"/><circle cx="113.1" cy="484.5" r="2.2"/><circle cx="110.3" cy="475.2" r="2.2"/><circle cx="100.3" cy="493.9" r="2.2"/><circle cx="126.2" cy="479.2" r="2.2"/><circle cx="106.1" cy="474.1" r="2.2"/><circle cx="98.2" cy="483.9" r="2.2"/><circle cx="119.6" cy="484.7" r="2.2"/><circle cx="120.7" cy="490.8" r="2.2"/><circle cx="94.8" cy="501.7" r="2.2"/><circle cx="111.2" cy="487.4" r="2.2"/><circle cx="93.2" cy="499.7" r="2.2"/><circle cx="135.7" cy="459.8" r="2.2"/><circle cx="105.5" cy="498.5" r="2.2"/><circle cx="93.8" cy="496.1" r="2.2"/><circle cx="129.6" cy="474.0" r="2.2"/><circle cx="93.7" cy="499.7" r="2.2"/><circle cx="101.6" cy="491.5" r="2.2"/><circle cx="101.5" cy="490.2" r="2.2"/><circle cx="112.3" cy="479.0" r="2.2"/><circle cx="106.3" cy="491.9" r="2.2"/><circle cx="125.6" cy="479.1" r="2.2"/><circle cx="109.6" cy="482.2" r="2.2"/><circle cx="124.8" cy="477.3" r="2.2"/><circle cx="107.2" cy="485.7" r="2.2"/><circle cx="112.6" cy="482.3" r="2.2"/><circle cx="115.2" cy="469.2" r="2.2"/><circle cx="120.0" cy="459.6" r="2.2"/><circle cx="111.9" cy="494.5" r="2.2"/><circle cx="83.4" cy="502.7" r="2.2"/><circle cx="121.5" cy="468.4" r="2.2"/><circle cx="97.5" cy="485.4" r="2.2"/><circle cx="107.9" cy="492.1" r="2.2"/><circle cx="118.3" cy="485.7" r="2.2"/><circle cx="121.0" cy="470.5" r="2.2"/><circle cx="92.1" cy="490.6" r="2.2"/><circle cx="113.4" cy="482.9" r="2.2"/><circle cx="133.4" cy="466.4" r="2.2"/><circle cx="116.1" cy="492.6" r="2.2"/><circle cx="133.9" cy="480.3" r="2.2"/><circle cx="105.9" cy="464.5" r="2.2"/><circle cx="96.3" cy="487.9" r="2.2"/><circle cx="105.7" cy="485.8" r="2.2"/><circle cx="137.3" cy="464.2" r="2.2"/><circle cx="128.9" cy="467.4" r="2.2"/><circle cx="137.6" cy="463.1" r="2.2"/><circle cx="104.6" cy="479.1" r="2.2"/><circle cx="110.1" cy="481.5" r="2.2"/><circle cx="104.2" cy="486.5" r="2.2"/><circle cx="122.0" cy="478.0" r="2.2"/><circle cx="125.9" cy="458.7" r="2.2"/><circle cx="121.6" cy="456.2" r="2.2"/><circle cx="127.9" cy="474.1" r="2.2"/><circle cx="111.0" cy="478.1" r="2.2"/><circle cx="108.4" cy="467.5" r="2.2"/><circle cx="86.6" cy="487.9" r="2.2"/><circle cx="76.2" cy="510.9" r="2.2"/><circle cx="91.5" cy="501.7" r="2.2"/><circle cx="94.4" cy="490.5" r="2.2"/><circle cx="98.1" cy="483.8" r="2.2"/><circle cx="91.3" cy="496.1" r="2.2"/><circle cx="124.3" cy="460.7" r="2.2"/><circle cx="115.7" cy="462.9" r="2.2"/><circle cx="119.6" cy="475.8" r="2.2"/><circle cx="116.5" cy="465.6" r="2.2"/><circle cx="82.6" cy="501.3" r="2.2"/><circle cx="101.4" cy="503.1" r="2.2"/><circle cx="125.3" cy="477.5" r="2.2"/><circle cx="115.6" cy="475.4" r="2.2"/><circle cx="135.1" cy="466.7" r="2.2"/><circle cx="118.6" cy="467.8" r="2.2"/><circle cx="82.4" cy="497.3" r="2.2"/><circle cx="96.6" cy="474.9" r="2.2"/><circle cx="120.8" cy="469.6" r="2.2"/><circle cx="146.9" cy="455.9" r="2.2"/><circle cx="89.7" cy="490.0" r="2.2"/><circle cx="104.5" cy="491.2" r="2.2"/><circle cx="126.1" cy="468.4" r="2.2"/><circle cx="109.1" cy="486.3" r="2.2"/><circle cx="125.2" cy="464.4" r="2.2"/><circle cx="123.7" cy="465.7" r="2.2"/><circle cx="87.2" cy="490.4" r="2.2"/><circle cx="99.0" cy="503.5" r="2.2"/><circle cx="130.3" cy="466.4" r="2.2"/><circle cx="110.8" cy="492.8" r="2.2"/><circle cx="116.3" cy="490.2" r="2.2"/><circle cx="112.2" cy="492.5" r="2.2"/><circle cx="130.1" cy="462.9" r="2.2"/><circle cx="106.2" cy="486.0" r="2.2"/><circle cx="97.0" cy="491.0" r="2.2"/><circle cx="104.2" cy="485.3" r="2.2"/><circle cx="104.0" cy="483.1" r="2.2"/><circle cx="120.2" cy="465.2" r="2.2"/><circle cx="74.8" cy="496.3" r="2.2"/><circle cx="79.5" cy="489.8" r="2.2"/><circle cx="89.1" cy="506.8" r="2.2"/><circle cx="100.7" cy="490.2" r="2.2"/><circle cx="83.6" cy="495.7" r="2.2"/><circle cx="117.5" cy="494.4" r="2.2"/><circle cx="103.2" cy="481.2" r="2.2"/><circle cx="97.0" cy="482.9" r="2.2"/><circle cx="133.7" cy="467.4" r="2.2"/><circle cx="82.3" cy="503.3" r="2.2"/><circle cx="103.5" cy="486.6" r="2.2"/><circle cx="99.6" cy="490.3" r="2.2"/><circle cx="107.7" cy="481.3" r="2.2"/><circle cx="87.8" cy="511.1" r="2.2"/><circle cx="77.0" cy="499.4" r="2.2"/><circle cx="111.5" cy="467.5" r="2.2"/><circle cx="69.7" cy="508.3" r="2.2"/><circle cx="95.1" cy="495.8" r="2.2"/><circle cx="114.2" cy="492.2" r="2.2"/><circle cx="122.3" cy="469.0" r="2.2"/><circle cx="88.6" cy="492.5" r="2.2"/><circle cx="88.7" cy="498.9" r="2.2"/><circle cx="99.4" cy="487.0" r="2.2"/><circle cx="85.6" cy="506.3" r="2.2"/><circle cx="106.6" cy="481.8" r="2.2"/><circle cx="115.0" cy="485.8" r="2.2"/><circle cx="114.9" cy="474.2" r="2.2"/><circle cx="84.4" cy="489.2" r="2.2"/><circle cx="115.7" cy="494.1" r="2.2"/><circle cx="115.6" cy="474.2" r="2.2"/><circle cx="131.0" cy="467.1" r="2.2"/><circle cx="104.5" cy="496.2" r="2.2"/><circle cx="89.3" cy="498.8" r="2.2"/><circle cx="87.8" cy="484.5" r="2.2"/><circle cx="110.0" cy="490.5" r="2.2"/><circle cx="91.8" cy="491.4" r="2.2"/><circle cx="131.3" cy="462.0" r="2.2"/><circle cx="100.4" cy="490.9" r="2.2"/><circle cx="115.7" cy="482.3" r="2.2"/><circle cx="113.6" cy="467.0" r="2.2"/><circle cx="86.2" cy="492.3" r="2.2"/><circle cx="88.7" cy="495.0" r="2.2"/><circle cx="114.7" cy="473.1" r="2.2"/><circle cx="117.9" cy="472.5" r="2.2"/><circle cx="118.2" cy="477.6" r="2.2"/><circle cx="118.7" cy="474.9" r="2.2"/><circle cx="91.9" cy="503.5" r="2.2"/><circle cx="107.1" cy="474.2" r="2.2"/><circle cx="95.3" cy="488.4" r="2.2"/><circle cx="94.1" cy="490.3" r="2.2"/><circle cx="88.4" cy="496.1" r="2.2"/><circle cx="119.0" cy="488.7" r="2.2"/><circle cx="144.8" cy="455.2" r="2.2"/><circle cx="75.0" cy="511.3" r="2.2"/><circle cx="139.0" cy="457.0" r="2.2"/><circle cx="115.9" cy="471.2" r="2.2"/><circle cx="112.9" cy="473.8" r="2.2"/><circle cx="121.9" cy="468.2" r="2.2"/><circle cx="103.7" cy="489.3" r="2.2"/><circle cx="90.6" cy="486.7" r="2.2"/><circle cx="117.5" cy="461.8" r="2.2"/><circle cx="101.3" cy="482.7" r="2.2"/><circle cx="121.6" cy="469.2" r="2.2"/><circle cx="103.6" cy="474.3" r="2.2"/><circle cx="135.0" cy="459.7" r="2.2"/><circle cx="96.8" cy="477.8" r="2.2"/><circle cx="109.8" cy="487.3" r="2.2"/><circle cx="81.1" cy="507.5" r="2.2"/><circle cx="88.4" cy="489.4" r="2.2"/><circle cx="112.2" cy="471.7" r="2.2"/><circle cx="129.5" cy="477.5" r="2.2"/><circle cx="84.4" cy="499.9" r="2.2"/><circle cx="109.9" cy="487.2" r="2.2"/><circle cx="84.1" cy="485.7" r="2.2"/><circle cx="112.7" cy="490.9" r="2.2"/><circle cx="96.9" cy="488.7" r="2.2"/><circle cx="114.4" cy="476.3" r="2.2"/><circle cx="126.2" cy="475.8" r="2.2"/><circle cx="125.1" cy="468.1" r="2.2"/><circle cx="98.7" cy="482.9" r="2.2"/><circle cx="137.2" cy="456.5" r="2.2"/><circle cx="99.0" cy="494.0" r="2.2"/><circle cx="131.3" cy="460.1" r="2.2"/><circle cx="103.2" cy="485.6" r="2.2"/><circle cx="133.6" cy="467.3" r="2.2"/><circle cx="113.5" cy="477.4" r="2.2"/><circle cx="123.1" cy="455.1" r="2.2"/><circle cx="97.6" cy="485.4" r="2.2"/><circle cx="91.6" cy="506.6" r="2.2"/><circle cx="100.0" cy="495.1" r="2.2"/><circle cx="93.6" cy="495.2" r="2.2"/><circle cx="104.5" cy="480.0" r="2.2"/><circle cx="106.5" cy="473.8" r="2.2"/><circle cx="82.4" cy="503.1" r="2.2"/><circle cx="133.0" cy="461.7" r="2.2"/><circle cx="130.0" cy="458.4" r="2.2"/><circle cx="111.0" cy="474.6" r="2.2"/><circle cx="88.3" cy="496.6" r="2.2"/><circle cx="112.3" cy="476.9" r="2.2"/><circle cx="137.4" cy="460.4" r="2.2"/><circle cx="121.4" cy="461.2" r="2.2"/><circle cx="102.3" cy="466.7" r="2.2"/><circle cx="91.6" cy="481.6" r="2.2"/><circle cx="122.8" cy="465.7" r="2.2"/><circle cx="85.2" cy="507.5" r="2.2"/><circle cx="121.4" cy="464.9" r="2.2"/><circle cx="124.3" cy="480.3" r="2.2"/><circle cx="121.1" cy="465.5" r="2.2"/><circle cx="116.0" cy="474.1" r="2.2"/><circle cx="84.2" cy="502.4" r="2.2"/><circle cx="136.1" cy="465.3" r="2.2"/><circle cx="100.5" cy="498.0" r="2.2"/><circle cx="105.6" cy="483.3" r="2.2"/><circle cx="109.2" cy="489.4" r="2.2"/><circle cx="86.1" cy="501.4" r="2.2"/><circle cx="93.1" cy="504.2" r="2.2"/><circle cx="82.0" cy="503.4" r="2.2"/><circle cx="123.0" cy="481.0" r="2.2"/><circle cx="111.7" cy="485.2" r="2.2"/><circle cx="128.2" cy="476.5" r="2.2"/><circle cx="96.6" cy="497.1" r="2.2"/><circle cx="106.1" cy="471.4" r="2.2"/><circle cx="123.0" cy="474.2" r="2.2"/><circle cx="144.4" cy="448.4" r="2.2"/><circle cx="95.8" cy="491.5" r="2.2"/><circle cx="131.8" cy="469.2" r="2.2"/><circle cx="114.5" cy="465.8" r="2.2"/><circle cx="113.5" cy="481.8" r="2.2"/><circle cx="99.2" cy="499.4" r="2.2"/><circle cx="95.2" cy="493.6" r="2.2"/><circle cx="84.6" cy="492.6" r="2.2"/><circle cx="82.8" cy="499.8" r="2.2"/><circle cx="115.5" cy="482.2" r="2.2"/><circle cx="106.8" cy="477.6" r="2.2"/><circle cx="72.7" cy="500.0" r="2.2"/><circle cx="73.3" cy="513.0" r="2.2"/><circle cx="114.9" cy="470.7" r="2.2"/><circle cx="78.9" cy="508.9" r="2.2"/><circle cx="114.1" cy="461.8" r="2.2"/><circle cx="117.5" cy="482.3" r="2.2"/><circle cx="147.5" cy="457.5" r="2.2"/><circle cx="108.2" cy="466.1" r="2.2"/><circle cx="142.3" cy="469.9" r="2.2"/><circle cx="110.1" cy="482.4" r="2.2"/><circle cx="131.6" cy="473.7" r="2.2"/><circle cx="113.4" cy="489.3" r="2.2"/><circle cx="99.7" cy="502.8" r="2.2"/><circle cx="105.9" cy="486.3" r="2.2"/><circle cx="133.9" cy="468.3" r="2.2"/><circle cx="94.1" cy="474.1" r="2.2"/><circle cx="96.5" cy="501.3" r="2.2"/><circle cx="132.5" cy="452.1" r="2.2"/><circle cx="88.0" cy="493.5" r="2.2"/><circle cx="108.2" cy="487.1" r="2.2"/><circle cx="103.5" cy="494.3" r="2.2"/><circle cx="96.0" cy="484.8" r="2.2"/><circle cx="102.4" cy="480.6" r="2.2"/><circle cx="102.9" cy="491.8" r="2.2"/><circle cx="103.4" cy="491.9" r="2.2"/><circle cx="115.1" cy="470.0" r="2.2"/><circle cx="122.2" cy="490.5" r="2.2"/><circle cx="74.4" cy="497.7" r="2.2"/><circle cx="107.6" cy="489.2" r="2.2"/><circle cx="129.0" cy="466.9" r="2.2"/><circle cx="117.1" cy="471.0" r="2.2"/><circle cx="124.6" cy="475.0" r="2.2"/><circle cx="93.2" cy="502.9" r="2.2"/><circle cx="92.8" cy="491.5" r="2.2"/><circle cx="114.8" cy="484.7" r="2.2"/><circle cx="104.2" cy="488.5" r="2.2"/><circle cx="93.3" cy="493.2" r="2.2"/><circle cx="104.4" cy="480.9" r="2.2"/><circle cx="125.0" cy="468.7" r="2.2"/><circle cx="116.2" cy="470.2" r="2.2"/><circle cx="100.6" cy="479.3" r="2.2"/><circle cx="114.2" cy="469.5" r="2.2"/><circle cx="128.3" cy="472.5" r="2.2"/><circle cx="101.0" cy="489.8" r="2.2"/><circle cx="76.4" cy="504.0" r="2.2"/><circle cx="127.7" cy="470.6" r="2.2"/><circle cx="108.9" cy="479.6" r="2.2"/><circle cx="86.3" cy="497.0" r="2.2"/><circle cx="98.8" cy="483.0" r="2.2"/><circle cx="107.2" cy="463.1" r="2.2"/><circle cx="131.4" cy="461.6" r="2.2"/><circle cx="109.9" cy="473.8" r="2.2"/><circle cx="117.7" cy="478.5" r="2.2"/><circle cx="119.2" cy="479.2" r="2.2"/><circle cx="121.8" cy="473.8" r="2.2"/><circle cx="122.0" cy="483.5" r="2.2"/><circle cx="115.5" cy="469.6" r="2.2"/><circle cx="101.3" cy="494.3" r="2.2"/><circle cx="73.1" cy="498.5" r="2.2"/><circle cx="98.6" cy="491.8" r="2.2"/><circle cx="79.1" cy="495.3" r="2.2"/><circle cx="93.5" cy="498.3" r="2.2"/><circle cx="92.8" cy="482.3" r="2.2"/><circle cx="108.4" cy="486.5" r="2.2"/><circle cx="83.1" cy="494.2" r="2.2"/><circle cx="121.0" cy="482.0" r="2.2"/><circle cx="141.2" cy="465.8" r="2.2"/><circle cx="127.2" cy="464.9" r="2.2"/><circle cx="89.0" cy="480.1" r="2.2"/><circle cx="122.4" cy="470.9" r="2.2"/><circle cx="99.0" cy="492.4" r="2.2"/><circle cx="79.6" cy="513.4" r="2.2"/><circle cx="90.8" cy="501.2" r="2.2"/><circle cx="99.9" cy="476.2" r="2.2"/><circle cx="104.9" cy="472.7" r="2.2"/><circle cx="118.5" cy="472.0" r="2.2"/><circle cx="98.7" cy="495.7" r="2.2"/><circle cx="131.8" cy="457.6" r="2.2"/><circle cx="96.7" cy="497.5" r="2.2"/><circle cx="93.9" cy="490.2" r="2.2"/><circle cx="118.8" cy="468.3" r="2.2"/><circle cx="104.1" cy="474.6" r="2.2"/><circle cx="80.8" cy="504.2" r="2.2"/><circle cx="107.6" cy="486.6" r="2.2"/><circle cx="94.2" cy="492.8" r="2.2"/><circle cx="110.5" cy="484.9" r="2.2"/><circle cx="91.5" cy="495.6" r="2.2"/><circle cx="92.3" cy="497.0" r="2.2"/><circle cx="96.2" cy="489.3" r="2.2"/><circle cx="94.2" cy="494.7" r="2.2"/><circle cx="89.8" cy="480.2" r="2.2"/><circle cx="116.5" cy="485.3" r="2.2"/><circle cx="103.5" cy="484.8" r="2.2"/><circle cx="112.4" cy="464.4" r="2.2"/><circle cx="83.0" cy="494.6" r="2.2"/><circle cx="130.9" cy="462.8" r="2.2"/><circle cx="122.1" cy="476.3" r="2.2"/><circle cx="137.2" cy="453.5" r="2.2"/><circle cx="118.2" cy="468.8" r="2.2"/><circle cx="106.2" cy="465.7" r="2.2"/><circle cx="103.4" cy="485.1" r="2.2"/><circle cx="118.7" cy="482.4" r="2.2"/><circle cx="102.2" cy="496.2" r="2.2"/><circle cx="85.0" cy="501.2" r="2.2"/><circle cx="99.2" cy="485.7" r="2.2"/><circle cx="85.0" cy="486.0" r="2.2"/><circle cx="143.8" cy="452.8" r="2.2"/><circle cx="113.2" cy="489.6" r="2.2"/><circle cx="102.6" cy="474.3" r="2.2"/><circle cx="118.7" cy="480.5" r="2.2"/><circle cx="111.5" cy="478.8" r="2.2"/><circle cx="116.6" cy="461.3" r="2.2"/><circle cx="133.9" cy="473.7" r="2.2"/><circle cx="110.3" cy="467.5" r="2.2"/><circle cx="132.1" cy="464.3" r="2.2"/><circle cx="127.4" cy="471.4" r="2.2"/><circle cx="108.5" cy="501.1" r="2.2"/><circle cx="107.6" cy="484.8" r="2.2"/><circle cx="99.0" cy="486.9" r="2.2"/><circle cx="91.9" cy="504.1" r="2.2"/><circle cx="98.3" cy="475.7" r="2.2"/><circle cx="100.3" cy="489.8" r="2.2"/><circle cx="140.1" cy="452.7" r="2.2"/><circle cx="82.8" cy="502.6" r="2.2"/><circle cx="109.5" cy="487.6" r="2.2"/><circle cx="109.6" cy="485.7" r="2.2"/><circle cx="104.5" cy="485.9" r="2.2"/><circle cx="91.9" cy="493.3" r="2.2"/><circle cx="101.8" cy="476.6" r="2.2"/><circle cx="105.2" cy="478.1" r="2.2"/><circle cx="82.6" cy="486.3" r="2.2"/><circle cx="96.2" cy="505.9" r="2.2"/><circle cx="105.5" cy="491.5" r="2.2"/><circle cx="100.8" cy="503.9" r="2.2"/><circle cx="93.1" cy="494.9" r="2.2"/><circle cx="110.6" cy="477.3" r="2.2"/><circle cx="96.0" cy="477.3" r="2.2"/><circle cx="88.9" cy="485.6" r="2.2"/><circle cx="107.9" cy="469.9" r="2.2"/><circle cx="103.9" cy="473.3" r="2.2"/><circle cx="142.1" cy="465.2" r="2.2"/><circle cx="139.5" cy="450.8" r="2.2"/><circle cx="110.9" cy="486.4" r="2.2"/><circle cx="87.2" cy="498.8" r="2.2"/><circle cx="98.3" cy="492.7" r="2.2"/><circle cx="91.7" cy="491.9" r="2.2"/><circle cx="99.1" cy="495.4" r="2.2"/><circle cx="93.5" cy="482.2" r="2.2"/><circle cx="96.0" cy="494.1" r="2.2"/><circle cx="73.8" cy="507.3" r="2.2"/><circle cx="109.9" cy="471.5" r="2.2"/><circle cx="96.1" cy="489.1" r="2.2"/><circle cx="93.8" cy="494.9" r="2.2"/><circle cx="118.1" cy="468.7" r="2.2"/><circle cx="86.6" cy="499.9" r="2.2"/><circle cx="112.9" cy="478.6" r="2.2"/><circle cx="143.5" cy="448.8" r="2.2"/><circle cx="138.8" cy="462.5" r="2.2"/><circle cx="93.9" cy="486.4" r="2.2"/><circle cx="115.3" cy="458.8" r="2.2"/><circle cx="110.6" cy="485.1" r="2.2"/><circle cx="115.1" cy="489.5" r="2.2"/><circle cx="109.4" cy="487.8" r="2.2"/><circle cx="107.6" cy="476.7" r="2.2"/><circle cx="142.4" cy="455.4" r="2.2"/><circle cx="95.7" cy="479.6" r="2.2"/><circle cx="70.1" cy="507.3" r="2.2"/><circle cx="94.0" cy="492.7" r="2.2"/><circle cx="145.6" cy="446.5" r="2.2"/><circle cx="99.6" cy="468.0" r="2.2"/><circle cx="121.7" cy="466.6" r="2.2"/><circle cx="129.8" cy="463.4" r="2.2"/><circle cx="126.3" cy="475.3" r="2.2"/><circle cx="76.6" cy="486.2" r="2.2"/><circle cx="98.0" cy="495.7" r="2.2"/><circle cx="95.5" cy="497.8" r="2.2"/><circle cx="101.1" cy="505.9" r="2.2"/><circle cx="83.9" cy="486.1" r="2.2"/><circle cx="95.2" cy="491.1" r="2.2"/><circle cx="92.8" cy="494.3" r="2.2"/><circle cx="112.7" cy="491.7" r="2.2"/><circle cx="66.9" cy="519.9" r="2.2"/><circle cx="69.7" cy="506.0" r="2.2"/><circle cx="107.6" cy="482.5" r="2.2"/><circle cx="112.4" cy="449.0" r="2.2"/><circle cx="106.9" cy="467.9" r="2.2"/><circle cx="139.5" cy="458.0" r="2.2"/><circle cx="143.0" cy="455.3" r="2.2"/><circle cx="100.4" cy="472.4" r="2.2"/><circle cx="153.6" cy="467.7" r="2.2"/><circle cx="88.1" cy="467.9" r="2.2"/><circle cx="90.1" cy="483.3" r="2.2"/><circle cx="108.5" cy="472.1" r="2.2"/><circle cx="61.3" cy="518.6" r="2.2"/><circle cx="112.7" cy="481.1" r="2.2"/><circle cx="118.8" cy="477.4" r="2.2"/><circle cx="77.7" cy="506.8" r="2.2"/><circle cx="132.8" cy="464.6" r="2.2"/><circle cx="122.9" cy="455.2" r="2.2"/><circle cx="96.6" cy="467.5" r="2.2"/><circle cx="112.5" cy="470.1" r="2.2"/><circle cx="134.1" cy="464.0" r="2.2"/><circle cx="133.8" cy="475.2" r="2.2"/><circle cx="123.9" cy="483.5" r="2.2"/><circle cx="105.6" cy="478.2" r="2.2"/><circle cx="92.3" cy="508.6" r="2.2"/><circle cx="104.8" cy="499.4" r="2.2"/><circle cx="95.7" cy="512.0" r="2.2"/><circle cx="155.6" cy="441.9" r="2.2"/><circle cx="108.4" cy="475.4" r="2.2"/><circle cx="86.8" cy="495.7" r="2.2"/><circle cx="118.4" cy="460.8" r="2.2"/><circle cx="125.7" cy="473.8" r="2.2"/><circle cx="98.8" cy="492.2" r="2.2"/><circle cx="75.6" cy="514.3" r="2.2"/><circle cx="106.3" cy="489.4" r="2.2"/><circle cx="105.8" cy="464.5" r="2.2"/><circle cx="122.0" cy="494.5" r="2.2"/><circle cx="163.8" cy="442.7" r="2.2"/><circle cx="120.0" cy="454.5" r="2.2"/><circle cx="113.0" cy="467.1" r="2.2"/><circle cx="120.0" cy="480.9" r="2.2"/><circle cx="114.3" cy="463.4" r="2.2"/><circle cx="150.8" cy="447.7" r="2.2"/><circle cx="100.1" cy="490.4" r="2.2"/><circle cx="113.5" cy="474.5" r="2.2"/><circle cx="128.1" cy="464.0" r="2.2"/><circle cx="130.5" cy="464.6" r="2.2"/><circle cx="105.8" cy="490.4" r="2.2"/><circle cx="96.8" cy="487.2" r="2.2"/><circle cx="92.5" cy="493.6" r="2.2"/><circle cx="109.8" cy="497.4" r="2.2"/><circle cx="104.0" cy="486.8" r="2.2"/><circle cx="154.4" cy="464.4" r="2.2"/><circle cx="101.0" cy="497.4" r="2.2"/><circle cx="148.1" cy="475.8" r="2.2"/><circle cx="143.9" cy="466.9" r="2.2"/><circle cx="115.4" cy="485.0" r="2.2"/><circle cx="85.4" cy="479.4" r="2.2"/><circle cx="130.1" cy="457.0" r="2.2"/><circle cx="126.7" cy="469.0" r="2.2"/><circle cx="122.1" cy="446.7" r="2.2"/><circle cx="111.2" cy="493.5" r="2.2"/><circle cx="120.4" cy="455.1" r="2.2"/><circle cx="97.2" cy="509.6" r="2.2"/><circle cx="127.4" cy="457.4" r="2.2"/><circle cx="89.5" cy="476.4" r="2.2"/><circle cx="104.3" cy="470.2" r="2.2"/><circle cx="122.7" cy="469.2" r="2.2"/><circle cx="93.5" cy="511.2" r="2.2"/><circle cx="104.3" cy="461.4" r="2.2"/><circle cx="106.9" cy="504.1" r="2.2"/><circle cx="71.6" cy="494.0" r="2.2"/><circle cx="148.9" cy="467.5" r="2.2"/><circle cx="105.4" cy="486.5" r="2.2"/><circle cx="136.9" cy="478.7" r="2.2"/><circle cx="135.6" cy="457.4" r="2.2"/><circle cx="110.7" cy="479.4" r="2.2"/><circle cx="77.3" cy="498.8" r="2.2"/><circle cx="117.9" cy="499.7" r="2.2"/><circle cx="82.5" cy="482.0" r="2.2"/><circle cx="102.7" cy="473.8" r="2.2"/><circle cx="139.9" cy="460.6" r="2.2"/><circle cx="113.5" cy="467.2" r="2.2"/><circle cx="104.8" cy="492.2" r="2.2"/><circle cx="139.9" cy="467.3" r="2.2"/><circle cx="93.0" cy="494.0" r="2.2"/><circle cx="110.5" cy="462.2" r="2.2"/><circle cx="109.9" cy="481.5" r="2.2"/><circle cx="112.9" cy="475.1" r="2.2"/><circle cx="94.9" cy="490.7" r="2.2"/><circle cx="127.7" cy="450.6" r="2.2"/><circle cx="155.2" cy="448.6" r="2.2"/><circle cx="92.4" cy="484.6" r="2.2"/><circle cx="119.6" cy="468.1" r="2.2"/><circle cx="92.0" cy="474.0" r="2.2"/><circle cx="123.0" cy="473.8" r="2.2"/><circle cx="93.5" cy="491.5" r="2.2"/><circle cx="88.2" cy="505.7" r="2.2"/><circle cx="93.1" cy="467.1" r="2.2"/><circle cx="113.0" cy="451.9" r="2.2"/><circle cx="127.3" cy="466.3" r="2.2"/><circle cx="140.8" cy="440.3" r="2.2"/><circle cx="135.8" cy="466.0" r="2.2"/><circle cx="99.4" cy="487.5" r="2.2"/><circle cx="111.0" cy="474.5" r="2.2"/><circle cx="142.9" cy="437.7" r="2.2"/><circle cx="122.1" cy="486.9" r="2.2"/><circle cx="85.3" cy="486.4" r="2.2"/><circle cx="132.4" cy="448.0" r="2.2"/><circle cx="95.8" cy="482.7" r="2.2"/><circle cx="97.9" cy="497.1" r="2.2"/><circle cx="106.1" cy="481.3" r="2.2"/><circle cx="88.7" cy="504.4" r="2.2"/><circle cx="116.1" cy="420.8" r="2.2"/><circle cx="136.9" cy="416.8" r="2.2"/><circle cx="208.2" cy="350.8" r="2.2"/><circle cx="227.4" cy="372.0" r="2.2"/><circle cx="177.9" cy="388.5" r="2.2"/><circle cx="156.1" cy="400.6" r="2.2"/><circle cx="152.5" cy="406.7" r="2.2"/><circle cx="175.7" cy="399.2" r="2.2"/><circle cx="181.3" cy="399.2" r="2.2"/><circle cx="183.0" cy="403.3" r="2.2"/><circle cx="181.3" cy="406.7" r="2.2"/><circle cx="238.3" cy="417.4" r="2.2"/><circle cx="153.5" cy="423.2" r="2.2"/><circle cx="153.5" cy="427.5" r="2.2"/><circle cx="148.6" cy="427.9" r="2.2"/><circle cx="62.8" cy="436.1" r="2.2"/><circle cx="101.6" cy="431.7" r="2.2"/><circle cx="131.4" cy="433.1" r="2.2"/><circle cx="143.4" cy="434.1" r="2.2"/><circle cx="122.8" cy="437.5" r="2.2"/><circle cx="91.5" cy="451.9" r="2.2"/><circle cx="101.6" cy="453.3" r="2.2"/><circle cx="46.0" cy="459.7" r="2.2"/><circle cx="72.3" cy="463.8" r="2.2"/><circle cx="60.8" cy="472.5" r="2.2"/><circle cx="48.0" cy="501.3" r="2.2"/><circle cx="47.4" cy="503.4" r="2.2"/><circle cx="73.3" cy="493.3" r="2.2"/><circle cx="106.6" cy="506.8" r="2.2"/><circle cx="135.9" cy="504.8" r="2.2"/><circle cx="143.0" cy="496.7" r="2.2"/><circle cx="148.9" cy="433.5" r="2.2"/><circle cx="167.5" cy="433.9" r="2.2"/><circle cx="150.6" cy="440.2" r="2.2"/><circle cx="147.4" cy="443.6" r="2.2"/><circle cx="163.3" cy="443.6" r="2.2"/><circle cx="156.9" cy="445.3" r="2.2"/><circle cx="180.2" cy="443.2" r="2.2"/><circle cx="187.6" cy="444.7" r="2.2"/><circle cx="159.5" cy="449.3" r="2.2"/><circle cx="141.1" cy="448.7" r="2.2"/><circle cx="144.7" cy="448.7" r="2.2"/><circle cx="145.3" cy="452.1" r="2.2"/><circle cx="148.5" cy="451.4" r="2.2"/><circle cx="141.1" cy="452.5" r="2.2"/><circle cx="152.7" cy="456.3" r="2.2"/><circle cx="185.5" cy="454.6" r="2.2"/><circle cx="141.1" cy="458.8" r="2.2"/><circle cx="149.5" cy="463.5" r="2.2"/><circle cx="152.7" cy="465.6" r="2.2"/><circle cx="144.2" cy="466.3" r="2.2"/><circle cx="147.4" cy="468.4" r="2.2"/><circle cx="160.1" cy="469.4" r="2.2"/><circle cx="174.3" cy="468.4" r="2.2"/><circle cx="141.1" cy="470.5" r="2.2"/><circle cx="145.3" cy="471.5" r="2.2"/><circle cx="155.9" cy="473.2" r="2.2"/><circle cx="149.5" cy="475.3" r="2.2"/><circle cx="144.2" cy="477.5" r="2.2"/><circle cx="152.7" cy="478.9" r="2.2"/><circle cx="159.0" cy="480.0" r="2.2"/><circle cx="160.1" cy="481.7" r="2.2"/><circle cx="163.3" cy="485.3" r="2.2"/><circle cx="145.3" cy="487.0" r="2.2"/><circle cx="155.9" cy="495.9" r="2.2"/><circle cx="43.7" cy="456.6" r="2.2"/><circle cx="43.7" cy="477.1" r="2.2"/><circle cx="43.7" cy="483.1" r="2.2"/><circle cx="43.7" cy="487.4" r="2.2"/><circle cx="43.7" cy="496.0" r="2.2"/></g>
<line x1="43.8" y1="518.6" x2="238.2" y2="406.5" stroke="#b5121f" stroke-width="1.5"/>
<line x1="43.8" y1="339.2" x2="43.8" y2="530.1" stroke="#1c1c1c" stroke-width="1.7"/>
<line x1="43.099999999999994" y1="526.5" x2="247.8" y2="526.5" stroke="#1c1c1c" stroke-width="1.7"/>
<line x1="40.099999999999994" y1="485.20" x2="43.8" y2="485.20" stroke="#1c1c1c" stroke-width="1.2"/>
<line x1="40.099999999999994" y1="437.80" x2="43.8" y2="437.80" stroke="#1c1c1c" stroke-width="1.2"/>
<line x1="40.099999999999994" y1="390.40" x2="43.8" y2="390.40" stroke="#1c1c1c" stroke-width="1.2"/>
<line x1="40.099999999999994" y1="343.00" x2="43.8" y2="343.00" stroke="#1c1c1c" stroke-width="1.2"/>
<line x1="40.099999999999994" y1="508.90" x2="43.8" y2="508.90" stroke="#1c1c1c" stroke-width="1.2"/>
<line x1="40.099999999999994" y1="461.50" x2="43.8" y2="461.50" stroke="#1c1c1c" stroke-width="1.2"/>
<line x1="40.099999999999994" y1="414.10" x2="43.8" y2="414.10" stroke="#1c1c1c" stroke-width="1.2"/>
<line x1="40.099999999999994" y1="366.70" x2="43.8" y2="366.70" stroke="#1c1c1c" stroke-width="1.2"/>
<text x="35.9" y="487.80" font-size="9.8" text-anchor="end" fill="#2a2a2a">1</text>
<text x="35.9" y="440.40" font-size="9.8" text-anchor="end" fill="#2a2a2a">2</text>
<text x="35.9" y="393.00" font-size="9.8" text-anchor="end" fill="#2a2a2a">3</text>
<text x="35.9" y="345.60" font-size="9.8" text-anchor="end" fill="#2a2a2a">4</text>
<line x1="43.80" y1="526.5" x2="43.80" y2="530.1" stroke="#1c1c1c" stroke-width="1.2"/>
<line x1="106.10" y1="526.5" x2="106.10" y2="530.1" stroke="#1c1c1c" stroke-width="1.2"/>
<line x1="168.40" y1="526.5" x2="168.40" y2="530.1" stroke="#1c1c1c" stroke-width="1.2"/>
<line x1="230.70" y1="526.5" x2="230.70" y2="530.1" stroke="#1c1c1c" stroke-width="1.2"/>
<line x1="74.95" y1="526.5" x2="74.95" y2="530.1" stroke="#1c1c1c" stroke-width="1.2"/>
<line x1="137.25" y1="526.5" x2="137.25" y2="530.1" stroke="#1c1c1c" stroke-width="1.2"/>
<line x1="199.55" y1="526.5" x2="199.55" y2="530.1" stroke="#1c1c1c" stroke-width="1.2"/>
<text x="43.80" y="542.4" font-size="9.8" text-anchor="middle" fill="#2a2a2a">0</text>
<text x="106.10" y="542.4" font-size="9.8" text-anchor="middle" fill="#2a2a2a">1</text>
<text x="168.40" y="542.4" font-size="9.8" text-anchor="middle" fill="#2a2a2a">2</text>
<text x="230.70" y="542.4" font-size="9.8" text-anchor="middle" fill="#2a2a2a">3</text>
<text x="100.8" y="557.3" font-size="10" textLength="91.0" lengthAdjust="spacingAndGlyphs" fill="#2a2a2a">Index donation (REDS III)</text>
<text transform="translate(24.1,474.0) rotate(-90)" x="0" y="0" font-size="10" textLength="92.2" lengthAdjust="spacingAndGlyphs" fill="#2a2a2a">Recall donation (REDS IV)</text>
<rect x="265.4" y="310.1" width="243.9" height="253.5" fill="none" stroke="#6a6a6a" stroke-width="1.5"/>
<text x="313.8" y="322.3" font-size="9.8" textLength="33.0" lengthAdjust="spacingAndGlyphs" fill="#2a2a2a">Choline</text>
<text x="313.8" y="333.8" font-size="9.8" textLength="181.0" lengthAdjust="spacingAndGlyphs" fill="#2a2a2a">rho = 0.7098, <tspan font-style="italic">P</tspan> = 1.264e-99, R<tspan font-size="6.6" dy="-3.6">2</tspan><tspan dy="3.6"> = 0.5789</tspan></text>
<g fill="url(#dg)"><circle cx="320.5" cy="514.3" r="2.2"/><circle cx="321.7" cy="507.6" r="2.2"/><circle cx="324.5" cy="511.2" r="2.2"/><circle cx="324.9" cy="515.6" r="2.2"/><circle cx="323.6" cy="512.2" r="2.2"/><circle cx="326.4" cy="513.8" r="2.2"/><circle cx="330.1" cy="501.3" r="2.2"/><circle cx="326.2" cy="508.6" r="2.2"/><circle cx="329.6" cy="513.0" r="2.2"/><circle cx="329.8" cy="507.8" r="2.2"/><circle cx="325.3" cy="510.1" r="2.2"/><circle cx="324.9" cy="511.4" r="2.2"/><circle cx="331.6" cy="515.9" r="2.2"/><circle cx="323.6" cy="514.3" r="2.2"/><circle cx="331.8" cy="499.3" r="2.2"/><circle cx="328.0" cy="513.4" r="2.2"/><circle cx="332.6" cy="512.4" r="2.2"/><circle cx="317.9" cy="518.9" r="2.2"/><circle cx="324.2" cy="508.3" r="2.2"/><circle cx="334.5" cy="508.9" r="2.2"/><circle cx="326.7" cy="506.6" r="2.2"/><circle cx="326.4" cy="506.5" r="2.2"/><circle cx="324.4" cy="517.1" r="2.2"/><circle cx="331.8" cy="509.8" r="2.2"/><circle cx="323.7" cy="512.4" r="2.2"/><circle cx="331.8" cy="506.7" r="2.2"/><circle cx="319.1" cy="515.3" r="2.2"/><circle cx="331.8" cy="506.9" r="2.2"/><circle cx="333.3" cy="502.3" r="2.2"/><circle cx="325.4" cy="517.3" r="2.2"/><circle cx="322.0" cy="517.1" r="2.2"/><circle cx="325.9" cy="509.9" r="2.2"/><circle cx="321.2" cy="508.0" r="2.2"/><circle cx="321.4" cy="510.7" r="2.2"/><circle cx="315.7" cy="518.0" r="2.2"/><circle cx="317.7" cy="517.6" r="2.2"/><circle cx="335.3" cy="502.2" r="2.2"/><circle cx="319.9" cy="512.6" r="2.2"/><circle cx="319.0" cy="521.1" r="2.2"/><circle cx="329.0" cy="505.5" r="2.2"/><circle cx="325.7" cy="505.7" r="2.2"/><circle cx="323.5" cy="511.3" r="2.2"/><circle cx="323.7" cy="516.1" r="2.2"/><circle cx="338.4" cy="502.9" r="2.2"/><circle cx="320.6" cy="502.8" r="2.2"/><circle cx="322.0" cy="512.8" r="2.2"/><circle cx="324.7" cy="512.0" r="2.2"/><circle cx="319.3" cy="514.9" r="2.2"/><circle cx="328.9" cy="516.1" r="2.2"/><circle cx="321.4" cy="517.5" r="2.2"/><circle cx="330.7" cy="509.8" r="2.2"/><circle cx="322.3" cy="508.3" r="2.2"/><circle cx="324.0" cy="505.1" r="2.2"/><circle cx="327.7" cy="510.3" r="2.2"/><circle cx="333.6" cy="505.9" r="2.2"/><circle cx="327.7" cy="512.9" r="2.2"/><circle cx="326.1" cy="508.5" r="2.2"/><circle cx="318.2" cy="517.4" r="2.2"/><circle cx="329.0" cy="502.3" r="2.2"/><circle cx="329.3" cy="510.8" r="2.2"/><circle cx="327.4" cy="512.2" r="2.2"/><circle cx="337.2" cy="504.9" r="2.2"/><circle cx="324.9" cy="509.2" r="2.2"/><circle cx="330.8" cy="503.6" r="2.2"/><circle cx="327.6" cy="505.3" r="2.2"/><circle cx="325.3" cy="507.6" r="2.2"/><circle cx="331.5" cy="510.5" r="2.2"/><circle cx="321.4" cy="508.5" r="2.2"/><circle cx="325.5" cy="505.8" r="2.2"/><circle cx="329.8" cy="504.3" r="2.2"/><circle cx="326.9" cy="501.9" r="2.2"/><circle cx="326.9" cy="510.3" r="2.2"/><circle cx="320.4" cy="519.6" r="2.2"/><circle cx="318.7" cy="517.9" r="2.2"/><circle cx="324.6" cy="513.5" r="2.2"/><circle cx="329.6" cy="508.1" r="2.2"/><circle cx="328.8" cy="509.6" r="2.2"/><circle cx="332.6" cy="504.1" r="2.2"/><circle cx="326.5" cy="505.3" r="2.2"/><circle cx="320.9" cy="510.2" r="2.2"/><circle cx="328.8" cy="506.0" r="2.2"/><circle cx="327.8" cy="517.8" r="2.2"/><circle cx="317.0" cy="518.8" r="2.2"/><circle cx="319.9" cy="518.3" r="2.2"/><circle cx="331.2" cy="508.4" r="2.2"/><circle cx="333.6" cy="499.4" r="2.2"/><circle cx="318.1" cy="513.3" r="2.2"/><circle cx="335.9" cy="499.7" r="2.2"/><circle cx="323.9" cy="515.2" r="2.2"/><circle cx="321.9" cy="515.8" r="2.2"/><circle cx="328.7" cy="503.8" r="2.2"/><circle cx="323.2" cy="502.6" r="2.2"/><circle cx="322.5" cy="515.5" r="2.2"/><circle cx="316.5" cy="521.3" r="2.2"/><circle cx="333.3" cy="499.7" r="2.2"/><circle cx="318.3" cy="512.7" r="2.2"/><circle cx="330.8" cy="505.3" r="2.2"/><circle cx="318.5" cy="511.9" r="2.2"/><circle cx="321.8" cy="507.3" r="2.2"/><circle cx="324.0" cy="507.3" r="2.2"/><circle cx="325.7" cy="514.7" r="2.2"/><circle cx="330.9" cy="501.1" r="2.2"/><circle cx="327.4" cy="505.7" r="2.2"/><circle cx="324.6" cy="512.1" r="2.2"/><circle cx="322.4" cy="511.2" r="2.2"/><circle cx="324.6" cy="514.9" r="2.2"/><circle cx="331.7" cy="510.5" r="2.2"/><circle cx="318.2" cy="508.2" r="2.2"/><circle cx="319.4" cy="515.2" r="2.2"/><circle cx="322.5" cy="514.6" r="2.2"/><circle cx="332.0" cy="512.7" r="2.2"/><circle cx="324.9" cy="506.0" r="2.2"/><circle cx="324.9" cy="514.6" r="2.2"/><circle cx="327.9" cy="502.5" r="2.2"/><circle cx="334.7" cy="504.3" r="2.2"/><circle cx="333.0" cy="503.6" r="2.2"/><circle cx="330.5" cy="506.6" r="2.2"/><circle cx="327.6" cy="505.9" r="2.2"/><circle cx="325.9" cy="509.1" r="2.2"/><circle cx="327.9" cy="510.6" r="2.2"/><circle cx="334.2" cy="501.7" r="2.2"/><circle cx="334.0" cy="512.3" r="2.2"/><circle cx="337.5" cy="506.1" r="2.2"/><circle cx="319.7" cy="514.8" r="2.2"/><circle cx="325.2" cy="505.6" r="2.2"/><circle cx="330.5" cy="510.8" r="2.2"/><circle cx="314.8" cy="512.4" r="2.2"/><circle cx="318.7" cy="514.9" r="2.2"/><circle cx="331.7" cy="504.8" r="2.2"/><circle cx="324.5" cy="510.1" r="2.2"/><circle cx="329.1" cy="509.9" r="2.2"/><circle cx="326.3" cy="506.5" r="2.2"/><circle cx="330.0" cy="499.3" r="2.2"/><circle cx="326.5" cy="504.1" r="2.2"/><circle cx="323.6" cy="505.1" r="2.2"/><circle cx="320.9" cy="518.1" r="2.2"/><circle cx="328.6" cy="510.7" r="2.2"/><circle cx="314.7" cy="512.3" r="2.2"/><circle cx="325.8" cy="511.1" r="2.2"/><circle cx="321.9" cy="512.7" r="2.2"/><circle cx="323.6" cy="509.9" r="2.2"/><circle cx="326.1" cy="516.8" r="2.2"/><circle cx="320.9" cy="514.9" r="2.2"/><circle cx="318.7" cy="514.3" r="2.2"/><circle cx="321.5" cy="515.8" r="2.2"/><circle cx="317.6" cy="515.5" r="2.2"/><circle cx="323.3" cy="519.6" r="2.2"/><circle cx="330.3" cy="504.4" r="2.2"/><circle cx="329.6" cy="510.2" r="2.2"/><circle cx="329.3" cy="512.3" r="2.2"/><circle cx="324.9" cy="510.1" r="2.2"/><circle cx="323.4" cy="514.2" r="2.2"/><circle cx="322.9" cy="513.5" r="2.2"/><circle cx="329.0" cy="505.6" r="2.2"/><circle cx="332.1" cy="505.4" r="2.2"/><circle cx="317.6" cy="511.5" r="2.2"/><circle cx="322.3" cy="513.6" r="2.2"/><circle cx="336.8" cy="505.8" r="2.2"/><circle cx="330.4" cy="506.2" r="2.2"/><circle cx="326.3" cy="507.3" r="2.2"/><circle cx="330.5" cy="506.4" r="2.2"/><circle cx="324.3" cy="518.3" r="2.2"/><circle cx="335.4" cy="510.9" r="2.2"/><circle cx="335.5" cy="503.6" r="2.2"/><circle cx="331.5" cy="501.5" r="2.2"/><circle cx="325.0" cy="511.0" r="2.2"/><circle cx="326.2" cy="510.0" r="2.2"/><circle cx="328.9" cy="503.5" r="2.2"/><circle cx="324.8" cy="514.0" r="2.2"/><circle cx="323.8" cy="519.4" r="2.2"/><circle cx="326.4" cy="512.1" r="2.2"/><circle cx="320.7" cy="511.1" r="2.2"/><circle cx="317.5" cy="515.8" r="2.2"/><circle cx="330.1" cy="504.7" r="2.2"/><circle cx="323.3" cy="507.2" r="2.2"/><circle cx="320.6" cy="515.9" r="2.2"/><circle cx="319.5" cy="511.1" r="2.2"/><circle cx="327.7" cy="509.1" r="2.2"/><circle cx="321.4" cy="508.4" r="2.2"/><circle cx="328.7" cy="512.1" r="2.2"/><circle cx="317.4" cy="517.5" r="2.2"/><circle cx="319.9" cy="519.8" r="2.2"/><circle cx="322.4" cy="511.8" r="2.2"/><circle cx="325.3" cy="515.3" r="2.2"/><circle cx="331.3" cy="511.1" r="2.2"/><circle cx="325.9" cy="513.9" r="2.2"/><circle cx="329.2" cy="507.7" r="2.2"/><circle cx="331.5" cy="509.0" r="2.2"/><circle cx="317.7" cy="506.2" r="2.2"/><circle cx="322.6" cy="508.3" r="2.2"/><circle cx="323.5" cy="507.0" r="2.2"/><circle cx="323.3" cy="504.8" r="2.2"/><circle cx="328.7" cy="512.3" r="2.2"/><circle cx="333.5" cy="501.7" r="2.2"/><circle cx="317.7" cy="508.2" r="2.2"/><circle cx="324.8" cy="512.1" r="2.2"/><circle cx="319.5" cy="512.5" r="2.2"/><circle cx="329.3" cy="517.7" r="2.2"/><circle cx="319.9" cy="508.0" r="2.2"/><circle cx="319.4" cy="507.9" r="2.2"/><circle cx="318.1" cy="512.3" r="2.2"/><circle cx="313.2" cy="514.2" r="2.2"/><circle cx="329.1" cy="511.8" r="2.2"/><circle cx="321.2" cy="510.6" r="2.2"/><circle cx="318.4" cy="510.9" r="2.2"/><circle cx="333.1" cy="507.7" r="2.2"/><circle cx="317.2" cy="516.2" r="2.2"/><circle cx="320.0" cy="514.0" r="2.2"/><circle cx="319.1" cy="515.9" r="2.2"/><circle cx="325.2" cy="506.4" r="2.2"/><circle cx="326.8" cy="507.2" r="2.2"/><circle cx="329.0" cy="500.0" r="2.2"/><circle cx="324.6" cy="507.5" r="2.2"/><circle cx="324.2" cy="518.2" r="2.2"/><circle cx="335.3" cy="505.7" r="2.2"/><circle cx="333.2" cy="505.7" r="2.2"/><circle cx="333.9" cy="500.4" r="2.2"/><circle cx="330.4" cy="507.8" r="2.2"/><circle cx="325.1" cy="513.5" r="2.2"/><circle cx="323.1" cy="509.5" r="2.2"/><circle cx="332.4" cy="500.6" r="2.2"/><circle cx="318.2" cy="509.8" r="2.2"/><circle cx="331.3" cy="509.4" r="2.2"/><circle cx="322.1" cy="504.2" r="2.2"/><circle cx="327.0" cy="511.8" r="2.2"/><circle cx="331.8" cy="513.4" r="2.2"/><circle cx="326.7" cy="504.0" r="2.2"/><circle cx="326.7" cy="500.6" r="2.2"/><circle cx="329.2" cy="511.0" r="2.2"/><circle cx="322.0" cy="502.3" r="2.2"/><circle cx="327.6" cy="514.0" r="2.2"/><circle cx="328.4" cy="510.1" r="2.2"/><circle cx="320.3" cy="507.4" r="2.2"/><circle cx="328.7" cy="513.1" r="2.2"/><circle cx="328.2" cy="507.8" r="2.2"/><circle cx="324.4" cy="510.4" r="2.2"/><circle cx="321.0" cy="512.4" r="2.2"/><circle cx="336.2" cy="510.9" r="2.2"/><circle cx="333.3" cy="498.7" r="2.2"/><circle cx="329.3" cy="508.8" r="2.2"/><circle cx="331.5" cy="502.9" r="2.2"/><circle cx="322.7" cy="507.4" r="2.2"/><circle cx="319.9" cy="505.3" r="2.2"/><circle cx="322.9" cy="507.4" r="2.2"/><circle cx="329.6" cy="509.5" r="2.2"/><circle cx="330.7" cy="504.4" r="2.2"/><circle cx="323.6" cy="519.3" r="2.2"/><circle cx="326.9" cy="510.9" r="2.2"/><circle cx="318.8" cy="509.3" r="2.2"/><circle cx="316.9" cy="514.1" r="2.2"/><circle cx="331.6" cy="501.2" r="2.2"/><circle cx="324.6" cy="504.7" r="2.2"/><circle cx="319.7" cy="518.3" r="2.2"/><circle cx="324.8" cy="511.9" r="2.2"/><circle cx="317.6" cy="517.3" r="2.2"/><circle cx="320.2" cy="521.7" r="2.2"/><circle cx="327.7" cy="510.9" r="2.2"/><circle cx="322.8" cy="510.2" r="2.2"/><circle cx="329.7" cy="503.4" r="2.2"/><circle cx="318.7" cy="516.2" r="2.2"/><circle cx="324.0" cy="517.0" r="2.2"/><circle cx="321.7" cy="514.3" r="2.2"/><circle cx="323.5" cy="504.8" r="2.2"/><circle cx="328.4" cy="513.4" r="2.2"/><circle cx="316.6" cy="516.3" r="2.2"/><circle cx="331.2" cy="502.2" r="2.2"/><circle cx="328.4" cy="508.8" r="2.2"/><circle cx="330.6" cy="511.7" r="2.2"/><circle cx="323.1" cy="510.8" r="2.2"/><circle cx="318.4" cy="512.6" r="2.2"/><circle cx="320.7" cy="513.8" r="2.2"/><circle cx="325.8" cy="510.3" r="2.2"/><circle cx="323.1" cy="517.9" r="2.2"/><circle cx="328.7" cy="504.4" r="2.2"/><circle cx="317.1" cy="513.2" r="2.2"/><circle cx="328.2" cy="503.0" r="2.2"/><circle cx="330.9" cy="509.5" r="2.2"/><circle cx="317.1" cy="514.9" r="2.2"/><circle cx="328.8" cy="509.1" r="2.2"/><circle cx="331.5" cy="511.1" r="2.2"/><circle cx="327.3" cy="510.6" r="2.2"/><circle cx="325.3" cy="510.4" r="2.2"/><circle cx="327.1" cy="504.5" r="2.2"/><circle cx="330.3" cy="512.9" r="2.2"/><circle cx="326.3" cy="518.0" r="2.2"/><circle cx="331.2" cy="508.8" r="2.2"/><circle cx="331.6" cy="507.1" r="2.2"/><circle cx="330.3" cy="506.3" r="2.2"/><circle cx="320.2" cy="518.1" r="2.2"/><circle cx="313.3" cy="517.6" r="2.2"/><circle cx="315.7" cy="514.7" r="2.2"/><circle cx="319.4" cy="514.5" r="2.2"/><circle cx="332.4" cy="502.0" r="2.2"/><circle cx="328.3" cy="510.5" r="2.2"/><circle cx="322.7" cy="513.7" r="2.2"/><circle cx="328.2" cy="510.2" r="2.2"/><circle cx="334.8" cy="507.3" r="2.2"/><circle cx="323.2" cy="507.1" r="2.2"/><circle cx="328.7" cy="499.7" r="2.2"/><circle cx="329.8" cy="507.1" r="2.2"/><circle cx="315.7" cy="518.7" r="2.2"/><circle cx="327.7" cy="505.3" r="2.2"/><circle cx="327.9" cy="510.8" r="2.2"/><circle cx="326.9" cy="513.3" r="2.2"/><circle cx="327.5" cy="500.4" r="2.2"/><circle cx="332.3" cy="502.9" r="2.2"/><circle cx="317.0" cy="516.6" r="2.2"/><circle cx="315.8" cy="513.3" r="2.2"/><circle cx="327.7" cy="509.3" r="2.2"/><circle cx="323.0" cy="510.5" r="2.2"/><circle cx="330.7" cy="499.1" r="2.2"/><circle cx="329.4" cy="506.7" r="2.2"/><circle cx="328.3" cy="508.6" r="2.2"/><circle cx="320.8" cy="508.3" r="2.2"/><circle cx="325.5" cy="502.9" r="2.2"/><circle cx="329.9" cy="507.8" r="2.2"/><circle cx="320.4" cy="512.5" r="2.2"/><circle cx="320.9" cy="509.5" r="2.2"/><circle cx="318.8" cy="516.0" r="2.2"/><circle cx="323.1" cy="514.2" r="2.2"/><circle cx="325.0" cy="503.9" r="2.2"/><circle cx="326.2" cy="518.3" r="2.2"/><circle cx="326.8" cy="509.6" r="2.2"/><circle cx="324.7" cy="503.4" r="2.2"/><circle cx="317.1" cy="514.7" r="2.2"/><circle cx="330.3" cy="507.5" r="2.2"/><circle cx="316.9" cy="517.7" r="2.2"/><circle cx="328.8" cy="504.9" r="2.2"/><circle cx="330.1" cy="505.7" r="2.2"/><circle cx="338.2" cy="506.7" r="2.2"/><circle cx="323.7" cy="512.2" r="2.2"/><circle cx="327.0" cy="507.1" r="2.2"/><circle cx="326.5" cy="517.3" r="2.2"/><circle cx="322.8" cy="518.0" r="2.2"/><circle cx="333.7" cy="514.2" r="2.2"/><circle cx="319.8" cy="509.2" r="2.2"/><circle cx="325.7" cy="511.4" r="2.2"/><circle cx="328.5" cy="506.2" r="2.2"/><circle cx="330.3" cy="509.8" r="2.2"/><circle cx="318.6" cy="518.2" r="2.2"/><circle cx="332.0" cy="505.3" r="2.2"/><circle cx="326.5" cy="505.3" r="2.2"/><circle cx="326.0" cy="505.7" r="2.2"/><circle cx="331.7" cy="512.3" r="2.2"/><circle cx="322.4" cy="517.8" r="2.2"/><circle cx="332.1" cy="508.4" r="2.2"/><circle cx="325.2" cy="516.5" r="2.2"/><circle cx="318.2" cy="513.9" r="2.2"/><circle cx="323.9" cy="505.0" r="2.2"/><circle cx="323.7" cy="506.8" r="2.2"/><circle cx="318.0" cy="509.9" r="2.2"/><circle cx="328.1" cy="509.6" r="2.2"/><circle cx="319.9" cy="508.8" r="2.2"/><circle cx="326.1" cy="508.1" r="2.2"/><circle cx="320.8" cy="505.3" r="2.2"/><circle cx="325.2" cy="504.0" r="2.2"/><circle cx="314.8" cy="517.8" r="2.2"/><circle cx="329.6" cy="505.8" r="2.2"/><circle cx="324.3" cy="515.9" r="2.2"/><circle cx="327.0" cy="513.3" r="2.2"/><circle cx="327.5" cy="514.5" r="2.2"/><circle cx="330.6" cy="508.7" r="2.2"/><circle cx="330.2" cy="512.6" r="2.2"/><circle cx="331.4" cy="507.5" r="2.2"/><circle cx="316.9" cy="508.4" r="2.2"/><circle cx="318.8" cy="507.3" r="2.2"/><circle cx="321.6" cy="502.8" r="2.2"/><circle cx="322.2" cy="514.1" r="2.2"/><circle cx="320.1" cy="508.2" r="2.2"/><circle cx="318.6" cy="511.9" r="2.2"/><circle cx="330.4" cy="509.7" r="2.2"/><circle cx="324.0" cy="508.5" r="2.2"/><circle cx="332.5" cy="508.6" r="2.2"/><circle cx="318.3" cy="514.6" r="2.2"/><circle cx="324.3" cy="508.4" r="2.2"/><circle cx="329.4" cy="509.9" r="2.2"/><circle cx="322.7" cy="508.1" r="2.2"/><circle cx="334.8" cy="506.4" r="2.2"/><circle cx="318.7" cy="520.3" r="2.2"/><circle cx="321.5" cy="506.4" r="2.2"/><circle cx="347.2" cy="487.6" r="2.2"/><circle cx="343.4" cy="495.7" r="2.2"/><circle cx="335.3" cy="497.6" r="2.2"/><circle cx="339.0" cy="496.1" r="2.2"/><circle cx="348.4" cy="493.5" r="2.2"/><circle cx="343.8" cy="499.4" r="2.2"/><circle cx="340.5" cy="484.4" r="2.2"/><circle cx="352.2" cy="489.1" r="2.2"/><circle cx="346.3" cy="484.6" r="2.2"/><circle cx="349.0" cy="491.8" r="2.2"/><circle cx="339.7" cy="494.7" r="2.2"/><circle cx="346.1" cy="494.6" r="2.2"/><circle cx="336.2" cy="495.6" r="2.2"/><circle cx="343.8" cy="498.4" r="2.2"/><circle cx="352.4" cy="487.8" r="2.2"/><circle cx="341.0" cy="484.4" r="2.2"/><circle cx="342.0" cy="492.4" r="2.2"/><circle cx="350.7" cy="478.3" r="2.2"/><circle cx="338.6" cy="491.7" r="2.2"/><circle cx="344.9" cy="488.9" r="2.2"/><circle cx="349.2" cy="488.3" r="2.2"/><circle cx="334.8" cy="497.3" r="2.2"/><circle cx="345.4" cy="489.6" r="2.2"/><circle cx="343.1" cy="478.6" r="2.2"/><circle cx="339.1" cy="490.0" r="2.2"/><circle cx="336.6" cy="491.0" r="2.2"/><circle cx="344.7" cy="491.1" r="2.2"/><circle cx="341.2" cy="489.3" r="2.2"/><circle cx="342.3" cy="489.2" r="2.2"/><circle cx="340.3" cy="494.5" r="2.2"/><circle cx="350.9" cy="477.7" r="2.2"/><circle cx="341.3" cy="485.3" r="2.2"/><circle cx="342.5" cy="486.7" r="2.2"/><circle cx="351.1" cy="482.3" r="2.2"/><circle cx="342.1" cy="489.1" r="2.2"/><circle cx="347.6" cy="489.5" r="2.2"/><circle cx="341.6" cy="493.1" r="2.2"/><circle cx="340.8" cy="493.3" r="2.2"/><circle cx="349.4" cy="479.1" r="2.2"/><circle cx="336.2" cy="495.8" r="2.2"/><circle cx="342.3" cy="488.7" r="2.2"/><circle cx="345.6" cy="483.5" r="2.2"/><circle cx="347.1" cy="490.7" r="2.2"/><circle cx="342.9" cy="488.5" r="2.2"/><circle cx="354.4" cy="475.1" r="2.2"/><circle cx="341.9" cy="490.0" r="2.2"/><circle cx="345.3" cy="483.2" r="2.2"/><circle cx="345.9" cy="479.8" r="2.2"/><circle cx="345.4" cy="488.4" r="2.2"/><circle cx="346.8" cy="480.4" r="2.2"/><circle cx="340.3" cy="486.9" r="2.2"/><circle cx="338.2" cy="494.9" r="2.2"/><circle cx="352.3" cy="477.0" r="2.2"/><circle cx="350.4" cy="490.0" r="2.2"/><circle cx="356.6" cy="475.5" r="2.2"/><circle cx="345.4" cy="490.6" r="2.2"/><circle cx="351.3" cy="473.8" r="2.2"/><circle cx="337.1" cy="486.3" r="2.2"/><circle cx="345.6" cy="485.3" r="2.2"/><circle cx="342.7" cy="493.2" r="2.2"/><circle cx="355.5" cy="481.8" r="2.2"/><circle cx="341.0" cy="487.9" r="2.2"/><circle cx="341.5" cy="494.9" r="2.2"/><circle cx="347.8" cy="478.0" r="2.2"/><circle cx="353.7" cy="481.0" r="2.2"/><circle cx="337.1" cy="488.8" r="2.2"/><circle cx="349.5" cy="480.1" r="2.2"/><circle cx="342.6" cy="492.6" r="2.2"/><circle cx="346.9" cy="480.4" r="2.2"/><circle cx="343.3" cy="492.1" r="2.2"/><circle cx="334.1" cy="502.6" r="2.2"/><circle cx="333.7" cy="495.3" r="2.2"/><circle cx="347.6" cy="488.4" r="2.2"/><circle cx="345.2" cy="486.2" r="2.2"/><circle cx="345.4" cy="493.4" r="2.2"/><circle cx="343.3" cy="486.8" r="2.2"/><circle cx="344.7" cy="486.8" r="2.2"/><circle cx="342.1" cy="492.9" r="2.2"/><circle cx="338.6" cy="493.3" r="2.2"/><circle cx="346.4" cy="488.0" r="2.2"/><circle cx="346.7" cy="486.9" r="2.2"/><circle cx="340.1" cy="494.6" r="2.2"/><circle cx="340.2" cy="493.4" r="2.2"/><circle cx="338.0" cy="484.8" r="2.2"/><circle cx="354.9" cy="476.8" r="2.2"/><circle cx="345.6" cy="484.0" r="2.2"/><circle cx="341.5" cy="488.4" r="2.2"/><circle cx="340.8" cy="493.9" r="2.2"/><circle cx="349.8" cy="488.4" r="2.2"/><circle cx="344.6" cy="485.9" r="2.2"/><circle cx="342.6" cy="491.0" r="2.2"/><circle cx="345.0" cy="482.1" r="2.2"/><circle cx="343.2" cy="490.8" r="2.2"/><circle cx="347.0" cy="483.3" r="2.2"/><circle cx="336.2" cy="501.0" r="2.2"/><circle cx="341.0" cy="488.8" r="2.2"/><circle cx="346.7" cy="486.0" r="2.2"/><circle cx="338.3" cy="490.5" r="2.2"/><circle cx="350.8" cy="484.7" r="2.2"/><circle cx="343.4" cy="481.6" r="2.2"/><circle cx="495.6" cy="353.3" r="2.2"/><circle cx="437.7" cy="448.7" r="2.2"/><circle cx="401.6" cy="452.1" r="2.2"/><circle cx="305.9" cy="372.4" r="2.2"/><circle cx="364.0" cy="448.3" r="2.2"/><circle cx="371.1" cy="452.3" r="2.2"/><circle cx="365.7" cy="457.4" r="2.2"/><circle cx="362.5" cy="463.2" r="2.2"/><circle cx="367.1" cy="463.8" r="2.2"/><circle cx="338.2" cy="469.8" r="2.2"/><circle cx="346.1" cy="469.8" r="2.2"/><circle cx="351.6" cy="468.0" r="2.2"/><circle cx="358.0" cy="469.8" r="2.2"/><circle cx="363.8" cy="469.3" r="2.2"/><circle cx="365.7" cy="471.7" r="2.2"/><circle cx="369.9" cy="469.3" r="2.2"/><circle cx="378.1" cy="472.6" r="2.2"/><circle cx="348.8" cy="473.8" r="2.2"/><circle cx="354.3" cy="475.7" r="2.2"/><circle cx="359.4" cy="473.8" r="2.2"/><circle cx="325.5" cy="479.3" r="2.2"/><circle cx="332.4" cy="480.2" r="2.2"/><circle cx="337.0" cy="479.3" r="2.2"/><circle cx="347.0" cy="478.4" r="2.2"/><circle cx="368.0" cy="484.4" r="2.2"/><circle cx="362.5" cy="493.9" r="2.2"/><circle cx="361.6" cy="502.2" r="2.2"/><circle cx="374.4" cy="511.3" r="2.2"/><circle cx="371.7" cy="514.9" r="2.2"/><circle cx="348.8" cy="513.1" r="2.2"/><circle cx="350.3" cy="507.6" r="2.2"/><circle cx="337.9" cy="512.2" r="2.2"/><circle cx="311.4" cy="490.8" r="2.2"/><circle cx="317.4" cy="496.1" r="2.2"/><circle cx="307.2" cy="509.5" r="2.2"/><circle cx="308.7" cy="508.6" r="2.2"/><circle cx="305.9" cy="515.0" r="2.2"/><circle cx="305.9" cy="474.1" r="2.2"/><circle cx="324.2" cy="495.1" r="2.2"/><circle cx="305.9" cy="504.0" r="2.2"/></g>
<line x1="305.9" y1="520.8" x2="495.8" y2="385.3" stroke="#b5121f" stroke-width="1.5"/>
<line x1="305.9" y1="340.8" x2="305.9" y2="529.0" stroke="#1c1c1c" stroke-width="1.7"/>
<line x1="305.2" y1="525.4" x2="504.3" y2="525.4" stroke="#1c1c1c" stroke-width="1.7"/>
<line x1="302.2" y1="525.40" x2="305.9" y2="525.40" stroke="#1c1c1c" stroke-width="1.2"/>
<line x1="302.2" y1="479.77" x2="305.9" y2="479.77" stroke="#1c1c1c" stroke-width="1.2"/>
<line x1="302.2" y1="434.15" x2="305.9" y2="434.15" stroke="#1c1c1c" stroke-width="1.2"/>
<line x1="302.2" y1="388.52" x2="305.9" y2="388.52" stroke="#1c1c1c" stroke-width="1.2"/>
<line x1="302.2" y1="502.59" x2="305.9" y2="502.59" stroke="#1c1c1c" stroke-width="1.2"/>
<line x1="302.2" y1="456.96" x2="305.9" y2="456.96" stroke="#1c1c1c" stroke-width="1.2"/>
<line x1="302.2" y1="411.34" x2="305.9" y2="411.34" stroke="#1c1c1c" stroke-width="1.2"/>
<line x1="302.2" y1="365.71" x2="305.9" y2="365.71" stroke="#1c1c1c" stroke-width="1.2"/>
<text x="298.0" y="528.00" font-size="9.8" text-anchor="end" fill="#2a2a2a">0.0</text>
<text x="298.0" y="482.38" font-size="9.8" text-anchor="end" fill="#2a2a2a">2.5</text>
<text x="298.0" y="436.75" font-size="9.8" text-anchor="end" fill="#2a2a2a">5.0</text>
<text x="298.0" y="391.12" font-size="9.8" text-anchor="end" fill="#2a2a2a">7.5</text>
<line x1="305.90" y1="525.4" x2="305.90" y2="529.0" stroke="#1c1c1c" stroke-width="1.2"/>
<line x1="353.25" y1="525.4" x2="353.25" y2="529.0" stroke="#1c1c1c" stroke-width="1.2"/>
<line x1="400.60" y1="525.4" x2="400.60" y2="529.0" stroke="#1c1c1c" stroke-width="1.2"/>
<line x1="447.95" y1="525.4" x2="447.95" y2="529.0" stroke="#1c1c1c" stroke-width="1.2"/>
<line x1="495.30" y1="525.4" x2="495.30" y2="529.0" stroke="#1c1c1c" stroke-width="1.2"/>
<line x1="329.57" y1="525.4" x2="329.57" y2="529.0" stroke="#1c1c1c" stroke-width="1.2"/>
<line x1="376.92" y1="525.4" x2="376.92" y2="529.0" stroke="#1c1c1c" stroke-width="1.2"/>
<line x1="424.27" y1="525.4" x2="424.27" y2="529.0" stroke="#1c1c1c" stroke-width="1.2"/>
<line x1="471.62" y1="525.4" x2="471.62" y2="529.0" stroke="#1c1c1c" stroke-width="1.2"/>
<text x="305.90" y="541.2" font-size="9.8" text-anchor="middle" fill="#2a2a2a">0</text>
<text x="353.25" y="541.2" font-size="9.8" text-anchor="middle" fill="#2a2a2a">2.5</text>
<text x="400.60" y="541.2" font-size="9.8" text-anchor="middle" fill="#2a2a2a">5.0</text>
<text x="447.95" y="541.2" font-size="9.8" text-anchor="middle" fill="#2a2a2a">7.5</text>
<text x="495.30" y="541.2" font-size="9.8" text-anchor="middle" fill="#2a2a2a">10.0</text>
<text x="359.8" y="556.5" font-size="10" textLength="91.0" lengthAdjust="spacingAndGlyphs" fill="#2a2a2a">Index donation (REDS III)</text>
<text transform="translate(278.6,481.0) rotate(-90)" x="0" y="0" font-size="10" textLength="92.1" lengthAdjust="spacingAndGlyphs" fill="#2a2a2a">Recall donation (REDS IV)</text>
<rect x="9.2" y="575.9" width="241.8" height="253.4" fill="none" stroke="#6a6a6a" stroke-width="1.5"/>
<text x="53.1" y="590.0" font-size="9.8" textLength="32.3" lengthAdjust="spacingAndGlyphs" fill="#2a2a2a">AC(4:0)</text>
<text x="53.1" y="601.8" font-size="9.8" textLength="181.0" lengthAdjust="spacingAndGlyphs" fill="#2a2a2a">rho = 0.6632, <tspan font-style="italic">P</tspan> = 2.521e-82, R<tspan font-size="6.6" dy="-3.6">2</tspan><tspan dy="3.6"> = 0.5048</tspan></text>
<g fill="url(#dg)"><circle cx="45.9" cy="773.5" r="2.2"/><circle cx="54.5" cy="773.2" r="2.2"/><circle cx="64.3" cy="753.1" r="2.2"/><circle cx="69.6" cy="770.9" r="2.2"/><circle cx="50.8" cy="765.7" r="2.2"/><circle cx="61.6" cy="754.6" r="2.2"/><circle cx="56.0" cy="778.4" r="2.2"/><circle cx="58.1" cy="766.6" r="2.2"/><circle cx="67.0" cy="763.7" r="2.2"/><circle cx="62.9" cy="761.0" r="2.2"/><circle cx="61.0" cy="771.4" r="2.2"/><circle cx="53.0" cy="772.9" r="2.2"/><circle cx="82.2" cy="751.7" r="2.2"/><circle cx="79.9" cy="756.8" r="2.2"/><circle cx="45.9" cy="769.6" r="2.2"/><circle cx="45.5" cy="781.7" r="2.2"/><circle cx="55.2" cy="774.8" r="2.2"/><circle cx="71.6" cy="765.1" r="2.2"/><circle cx="60.1" cy="767.3" r="2.2"/><circle cx="47.7" cy="777.3" r="2.2"/><circle cx="55.3" cy="770.2" r="2.2"/><circle cx="53.1" cy="777.3" r="2.2"/><circle cx="54.9" cy="764.9" r="2.2"/><circle cx="43.8" cy="783.5" r="2.2"/><circle cx="53.9" cy="774.7" r="2.2"/><circle cx="74.7" cy="752.8" r="2.2"/><circle cx="69.4" cy="766.2" r="2.2"/><circle cx="57.7" cy="770.8" r="2.2"/><circle cx="63.6" cy="769.2" r="2.2"/><circle cx="65.1" cy="766.4" r="2.2"/><circle cx="67.3" cy="751.9" r="2.2"/><circle cx="52.0" cy="775.7" r="2.2"/><circle cx="69.8" cy="752.4" r="2.2"/><circle cx="53.5" cy="776.9" r="2.2"/><circle cx="62.5" cy="766.7" r="2.2"/><circle cx="51.5" cy="767.4" r="2.2"/><circle cx="63.0" cy="774.9" r="2.2"/><circle cx="71.2" cy="769.8" r="2.2"/><circle cx="49.2" cy="768.2" r="2.2"/><circle cx="58.2" cy="769.1" r="2.2"/><circle cx="77.8" cy="754.4" r="2.2"/><circle cx="75.8" cy="755.3" r="2.2"/><circle cx="79.4" cy="749.2" r="2.2"/><circle cx="50.9" cy="780.4" r="2.2"/><circle cx="63.1" cy="765.7" r="2.2"/><circle cx="71.4" cy="772.1" r="2.2"/><circle cx="65.4" cy="763.7" r="2.2"/><circle cx="51.0" cy="762.3" r="2.2"/><circle cx="65.0" cy="771.7" r="2.2"/><circle cx="58.1" cy="765.0" r="2.2"/><circle cx="56.2" cy="785.4" r="2.2"/><circle cx="68.6" cy="756.5" r="2.2"/><circle cx="67.6" cy="762.8" r="2.2"/><circle cx="59.6" cy="781.7" r="2.2"/><circle cx="67.6" cy="756.9" r="2.2"/><circle cx="61.1" cy="766.7" r="2.2"/><circle cx="49.5" cy="775.9" r="2.2"/><circle cx="57.3" cy="768.2" r="2.2"/><circle cx="65.0" cy="770.2" r="2.2"/><circle cx="53.8" cy="770.5" r="2.2"/><circle cx="52.6" cy="780.1" r="2.2"/><circle cx="61.0" cy="769.7" r="2.2"/><circle cx="71.0" cy="754.9" r="2.2"/><circle cx="64.3" cy="759.0" r="2.2"/><circle cx="53.6" cy="770.8" r="2.2"/><circle cx="57.6" cy="760.6" r="2.2"/><circle cx="48.9" cy="780.3" r="2.2"/><circle cx="56.1" cy="771.7" r="2.2"/><circle cx="56.9" cy="776.1" r="2.2"/><circle cx="66.9" cy="757.3" r="2.2"/><circle cx="69.8" cy="764.2" r="2.2"/><circle cx="66.4" cy="765.6" r="2.2"/><circle cx="50.7" cy="770.9" r="2.2"/><circle cx="55.3" cy="771.3" r="2.2"/><circle cx="69.7" cy="754.0" r="2.2"/><circle cx="66.2" cy="762.1" r="2.2"/><circle cx="65.7" cy="775.7" r="2.2"/><circle cx="63.7" cy="764.8" r="2.2"/><circle cx="53.6" cy="762.6" r="2.2"/><circle cx="54.6" cy="773.5" r="2.2"/><circle cx="68.8" cy="760.2" r="2.2"/><circle cx="47.8" cy="774.7" r="2.2"/><circle cx="62.8" cy="761.4" r="2.2"/><circle cx="61.2" cy="769.5" r="2.2"/><circle cx="70.6" cy="772.1" r="2.2"/><circle cx="69.8" cy="762.5" r="2.2"/><circle cx="56.5" cy="770.1" r="2.2"/><circle cx="44.5" cy="776.8" r="2.2"/><circle cx="48.4" cy="775.2" r="2.2"/><circle cx="53.7" cy="779.6" r="2.2"/><circle cx="68.4" cy="759.1" r="2.2"/><circle cx="44.1" cy="784.7" r="2.2"/><circle cx="58.7" cy="770.4" r="2.2"/><circle cx="67.0" cy="763.4" r="2.2"/><circle cx="67.1" cy="751.0" r="2.2"/><circle cx="54.7" cy="777.2" r="2.2"/><circle cx="69.7" cy="760.5" r="2.2"/><circle cx="66.1" cy="768.1" r="2.2"/><circle cx="66.3" cy="769.0" r="2.2"/><circle cx="48.5" cy="779.3" r="2.2"/><circle cx="59.6" cy="765.4" r="2.2"/><circle cx="61.6" cy="763.1" r="2.2"/><circle cx="49.7" cy="783.9" r="2.2"/><circle cx="54.1" cy="771.3" r="2.2"/><circle cx="56.7" cy="770.4" r="2.2"/><circle cx="63.2" cy="752.1" r="2.2"/><circle cx="59.1" cy="770.0" r="2.2"/><circle cx="47.9" cy="776.2" r="2.2"/><circle cx="77.7" cy="751.5" r="2.2"/><circle cx="49.9" cy="775.8" r="2.2"/><circle cx="59.0" cy="770.2" r="2.2"/><circle cx="51.1" cy="773.9" r="2.2"/><circle cx="60.6" cy="765.7" r="2.2"/><circle cx="58.7" cy="771.7" r="2.2"/><circle cx="71.1" cy="759.4" r="2.2"/><circle cx="70.5" cy="768.9" r="2.2"/><circle cx="62.7" cy="769.6" r="2.2"/><circle cx="68.3" cy="762.2" r="2.2"/><circle cx="65.9" cy="769.0" r="2.2"/><circle cx="59.6" cy="770.1" r="2.2"/><circle cx="62.6" cy="764.5" r="2.2"/><circle cx="62.5" cy="763.6" r="2.2"/><circle cx="67.3" cy="758.2" r="2.2"/><circle cx="56.7" cy="760.4" r="2.2"/><circle cx="49.5" cy="777.2" r="2.2"/><circle cx="69.1" cy="751.4" r="2.2"/><circle cx="59.8" cy="776.2" r="2.2"/><circle cx="67.7" cy="770.3" r="2.2"/><circle cx="65.2" cy="759.0" r="2.2"/><circle cx="52.2" cy="778.7" r="2.2"/><circle cx="57.0" cy="760.5" r="2.2"/><circle cx="52.6" cy="777.9" r="2.2"/><circle cx="62.4" cy="759.7" r="2.2"/><circle cx="70.3" cy="752.7" r="2.2"/><circle cx="60.9" cy="760.8" r="2.2"/><circle cx="56.8" cy="779.8" r="2.2"/><circle cx="53.4" cy="767.1" r="2.2"/><circle cx="61.8" cy="766.7" r="2.2"/><circle cx="63.0" cy="768.0" r="2.2"/><circle cx="65.0" cy="761.9" r="2.2"/><circle cx="46.9" cy="781.6" r="2.2"/><circle cx="56.3" cy="773.9" r="2.2"/><circle cx="64.7" cy="772.0" r="2.2"/><circle cx="69.1" cy="766.8" r="2.2"/><circle cx="53.9" cy="773.6" r="2.2"/><circle cx="65.5" cy="755.6" r="2.2"/><circle cx="58.1" cy="767.2" r="2.2"/><circle cx="47.8" cy="772.0" r="2.2"/><circle cx="75.5" cy="758.9" r="2.2"/><circle cx="65.5" cy="772.9" r="2.2"/><circle cx="51.6" cy="774.8" r="2.2"/><circle cx="77.0" cy="766.4" r="2.2"/><circle cx="59.8" cy="778.3" r="2.2"/><circle cx="55.9" cy="769.0" r="2.2"/><circle cx="45.9" cy="785.7" r="2.2"/><circle cx="67.3" cy="757.1" r="2.2"/><circle cx="43.2" cy="778.4" r="2.2"/><circle cx="56.4" cy="773.6" r="2.2"/><circle cx="56.8" cy="764.8" r="2.2"/><circle cx="82.7" cy="758.4" r="2.2"/><circle cx="56.6" cy="777.3" r="2.2"/><circle cx="66.3" cy="750.8" r="2.2"/><circle cx="57.2" cy="769.6" r="2.2"/><circle cx="71.2" cy="766.8" r="2.2"/><circle cx="66.9" cy="771.2" r="2.2"/><circle cx="62.4" cy="771.8" r="2.2"/><circle cx="67.7" cy="754.9" r="2.2"/><circle cx="58.6" cy="780.1" r="2.2"/><circle cx="54.9" cy="762.8" r="2.2"/><circle cx="53.2" cy="762.9" r="2.2"/><circle cx="55.2" cy="762.0" r="2.2"/><circle cx="62.7" cy="768.1" r="2.2"/><circle cx="71.0" cy="764.5" r="2.2"/><circle cx="72.8" cy="764.6" r="2.2"/><circle cx="74.6" cy="754.2" r="2.2"/><circle cx="56.9" cy="760.1" r="2.2"/><circle cx="61.0" cy="767.6" r="2.2"/><circle cx="62.8" cy="764.9" r="2.2"/><circle cx="71.2" cy="751.7" r="2.2"/><circle cx="59.0" cy="772.2" r="2.2"/><circle cx="63.1" cy="761.6" r="2.2"/><circle cx="57.2" cy="763.2" r="2.2"/><circle cx="55.1" cy="772.8" r="2.2"/><circle cx="67.2" cy="766.8" r="2.2"/><circle cx="57.8" cy="766.4" r="2.2"/><circle cx="53.1" cy="769.4" r="2.2"/><circle cx="81.5" cy="757.3" r="2.2"/><circle cx="67.8" cy="768.0" r="2.2"/><circle cx="51.5" cy="781.8" r="2.2"/><circle cx="66.1" cy="762.0" r="2.2"/><circle cx="49.9" cy="778.0" r="2.2"/><circle cx="61.1" cy="775.6" r="2.2"/><circle cx="69.2" cy="770.0" r="2.2"/><circle cx="70.0" cy="757.1" r="2.2"/><circle cx="84.2" cy="753.4" r="2.2"/><circle cx="58.1" cy="767.1" r="2.2"/><circle cx="61.2" cy="771.7" r="2.2"/><circle cx="67.0" cy="762.7" r="2.2"/><circle cx="47.0" cy="778.5" r="2.2"/><circle cx="55.1" cy="772.5" r="2.2"/><circle cx="50.7" cy="776.8" r="2.2"/><circle cx="59.1" cy="779.4" r="2.2"/><circle cx="72.4" cy="754.3" r="2.2"/><circle cx="57.0" cy="759.7" r="2.2"/><circle cx="56.2" cy="779.6" r="2.2"/><circle cx="59.1" cy="772.8" r="2.2"/><circle cx="57.0" cy="769.0" r="2.2"/><circle cx="43.3" cy="773.8" r="2.2"/><circle cx="73.1" cy="755.4" r="2.2"/><circle cx="58.6" cy="761.4" r="2.2"/><circle cx="62.0" cy="776.3" r="2.2"/><circle cx="61.7" cy="781.5" r="2.2"/><circle cx="52.7" cy="778.3" r="2.2"/><circle cx="56.2" cy="774.9" r="2.2"/><circle cx="46.4" cy="779.4" r="2.2"/><circle cx="79.7" cy="751.6" r="2.2"/><circle cx="59.9" cy="773.3" r="2.2"/><circle cx="62.1" cy="752.8" r="2.2"/><circle cx="52.6" cy="785.5" r="2.2"/><circle cx="68.4" cy="770.5" r="2.2"/><circle cx="74.5" cy="753.2" r="2.2"/><circle cx="66.9" cy="759.0" r="2.2"/><circle cx="64.5" cy="763.9" r="2.2"/><circle cx="56.4" cy="775.6" r="2.2"/><circle cx="52.3" cy="764.9" r="2.2"/><circle cx="67.9" cy="763.0" r="2.2"/><circle cx="65.3" cy="766.2" r="2.2"/><circle cx="61.7" cy="768.7" r="2.2"/><circle cx="56.1" cy="778.9" r="2.2"/><circle cx="57.3" cy="776.4" r="2.2"/><circle cx="63.3" cy="768.4" r="2.2"/><circle cx="71.3" cy="769.6" r="2.2"/><circle cx="73.9" cy="755.9" r="2.2"/><circle cx="72.8" cy="753.2" r="2.2"/><circle cx="53.6" cy="771.2" r="2.2"/><circle cx="46.4" cy="772.2" r="2.2"/><circle cx="65.4" cy="772.7" r="2.2"/><circle cx="61.3" cy="772.3" r="2.2"/><circle cx="45.2" cy="777.4" r="2.2"/><circle cx="61.0" cy="759.7" r="2.2"/><circle cx="68.1" cy="758.9" r="2.2"/><circle cx="53.7" cy="764.1" r="2.2"/><circle cx="58.9" cy="775.7" r="2.2"/><circle cx="46.8" cy="781.8" r="2.2"/><circle cx="46.2" cy="773.8" r="2.2"/><circle cx="58.7" cy="763.9" r="2.2"/><circle cx="62.4" cy="777.5" r="2.2"/><circle cx="55.1" cy="762.8" r="2.2"/><circle cx="78.9" cy="753.3" r="2.2"/><circle cx="57.0" cy="772.0" r="2.2"/><circle cx="59.9" cy="775.6" r="2.2"/><circle cx="55.8" cy="769.0" r="2.2"/><circle cx="66.3" cy="762.9" r="2.2"/><circle cx="66.2" cy="766.3" r="2.2"/><circle cx="56.0" cy="775.3" r="2.2"/><circle cx="54.4" cy="764.0" r="2.2"/><circle cx="59.5" cy="764.5" r="2.2"/><circle cx="54.8" cy="769.7" r="2.2"/><circle cx="74.5" cy="752.5" r="2.2"/><circle cx="64.0" cy="759.8" r="2.2"/><circle cx="49.7" cy="769.8" r="2.2"/><circle cx="71.5" cy="766.2" r="2.2"/><circle cx="63.9" cy="764.5" r="2.2"/><circle cx="66.2" cy="763.5" r="2.2"/><circle cx="50.0" cy="780.2" r="2.2"/><circle cx="76.4" cy="749.6" r="2.2"/><circle cx="61.0" cy="766.8" r="2.2"/><circle cx="67.2" cy="759.1" r="2.2"/><circle cx="49.3" cy="776.0" r="2.2"/><circle cx="60.0" cy="764.1" r="2.2"/><circle cx="44.6" cy="785.3" r="2.2"/><circle cx="63.7" cy="769.5" r="2.2"/><circle cx="64.7" cy="765.4" r="2.2"/><circle cx="80.7" cy="759.2" r="2.2"/><circle cx="54.8" cy="778.8" r="2.2"/><circle cx="70.2" cy="771.5" r="2.2"/><circle cx="69.7" cy="768.8" r="2.2"/><circle cx="77.5" cy="750.5" r="2.2"/><circle cx="54.1" cy="775.0" r="2.2"/><circle cx="61.9" cy="754.1" r="2.2"/><circle cx="66.5" cy="763.7" r="2.2"/><circle cx="49.4" cy="767.6" r="2.2"/><circle cx="55.3" cy="768.9" r="2.2"/><circle cx="70.1" cy="764.8" r="2.2"/><circle cx="60.2" cy="781.6" r="2.2"/><circle cx="62.3" cy="760.4" r="2.2"/><circle cx="66.2" cy="753.8" r="2.2"/><circle cx="52.2" cy="774.4" r="2.2"/><circle cx="68.7" cy="756.3" r="2.2"/><circle cx="59.9" cy="766.7" r="2.2"/><circle cx="48.4" cy="776.1" r="2.2"/><circle cx="47.1" cy="786.9" r="2.2"/><circle cx="57.0" cy="766.6" r="2.2"/><circle cx="63.5" cy="769.9" r="2.2"/><circle cx="67.9" cy="774.8" r="2.2"/><circle cx="71.4" cy="771.6" r="2.2"/><circle cx="60.9" cy="773.6" r="2.2"/><circle cx="53.2" cy="774.2" r="2.2"/><circle cx="61.6" cy="776.9" r="2.2"/><circle cx="59.3" cy="778.0" r="2.2"/><circle cx="72.3" cy="759.1" r="2.2"/><circle cx="69.5" cy="769.5" r="2.2"/><circle cx="65.8" cy="757.5" r="2.2"/><circle cx="69.6" cy="762.3" r="2.2"/><circle cx="61.5" cy="771.7" r="2.2"/><circle cx="51.4" cy="771.2" r="2.2"/><circle cx="65.0" cy="751.6" r="2.2"/><circle cx="66.9" cy="765.2" r="2.2"/><circle cx="45.6" cy="774.4" r="2.2"/><circle cx="75.5" cy="754.8" r="2.2"/><circle cx="43.6" cy="779.5" r="2.2"/><circle cx="46.4" cy="775.3" r="2.2"/><circle cx="57.8" cy="759.0" r="2.2"/><circle cx="68.2" cy="757.9" r="2.2"/><circle cx="74.6" cy="760.9" r="2.2"/><circle cx="65.8" cy="759.3" r="2.2"/><circle cx="75.5" cy="767.3" r="2.2"/><circle cx="63.0" cy="775.0" r="2.2"/><circle cx="66.0" cy="765.4" r="2.2"/><circle cx="62.8" cy="765.6" r="2.2"/><circle cx="63.9" cy="776.3" r="2.2"/><circle cx="59.8" cy="779.2" r="2.2"/><circle cx="52.5" cy="768.5" r="2.2"/><circle cx="62.0" cy="772.9" r="2.2"/><circle cx="60.8" cy="770.6" r="2.2"/><circle cx="75.9" cy="751.4" r="2.2"/><circle cx="79.0" cy="753.1" r="2.2"/><circle cx="77.5" cy="749.4" r="2.2"/><circle cx="44.7" cy="782.9" r="2.2"/><circle cx="45.6" cy="772.4" r="2.2"/><circle cx="51.3" cy="780.4" r="2.2"/><circle cx="59.4" cy="773.8" r="2.2"/><circle cx="73.9" cy="767.1" r="2.2"/><circle cx="72.9" cy="765.2" r="2.2"/><circle cx="66.3" cy="759.9" r="2.2"/><circle cx="79.6" cy="760.1" r="2.2"/><circle cx="52.5" cy="776.7" r="2.2"/><circle cx="56.4" cy="766.1" r="2.2"/><circle cx="61.7" cy="767.2" r="2.2"/><circle cx="54.8" cy="775.2" r="2.2"/><circle cx="70.4" cy="772.5" r="2.2"/><circle cx="70.9" cy="740.3" r="2.2"/><circle cx="73.1" cy="770.1" r="2.2"/><circle cx="82.4" cy="754.1" r="2.2"/><circle cx="74.4" cy="754.3" r="2.2"/><circle cx="64.3" cy="751.1" r="2.2"/><circle cx="90.1" cy="760.9" r="2.2"/><circle cx="97.5" cy="751.9" r="2.2"/><circle cx="76.8" cy="771.3" r="2.2"/><circle cx="81.1" cy="754.8" r="2.2"/><circle cx="69.2" cy="757.0" r="2.2"/><circle cx="77.0" cy="758.8" r="2.2"/><circle cx="69.9" cy="767.8" r="2.2"/><circle cx="79.4" cy="751.1" r="2.2"/><circle cx="72.1" cy="763.4" r="2.2"/><circle cx="68.2" cy="752.0" r="2.2"/><circle cx="95.9" cy="740.9" r="2.2"/><circle cx="70.5" cy="771.4" r="2.2"/><circle cx="86.8" cy="741.0" r="2.2"/><circle cx="80.8" cy="753.2" r="2.2"/><circle cx="57.5" cy="761.9" r="2.2"/><circle cx="79.2" cy="763.0" r="2.2"/><circle cx="86.9" cy="753.0" r="2.2"/><circle cx="77.2" cy="757.8" r="2.2"/><circle cx="63.0" cy="750.6" r="2.2"/><circle cx="81.8" cy="756.9" r="2.2"/><circle cx="57.8" cy="774.0" r="2.2"/><circle cx="87.7" cy="754.1" r="2.2"/><circle cx="65.0" cy="756.9" r="2.2"/><circle cx="89.9" cy="757.5" r="2.2"/><circle cx="67.3" cy="765.1" r="2.2"/><circle cx="70.4" cy="757.9" r="2.2"/><circle cx="102.9" cy="736.1" r="2.2"/><circle cx="80.4" cy="758.6" r="2.2"/><circle cx="77.3" cy="764.4" r="2.2"/><circle cx="64.8" cy="766.2" r="2.2"/><circle cx="57.8" cy="763.9" r="2.2"/><circle cx="56.8" cy="763.7" r="2.2"/><circle cx="90.9" cy="747.3" r="2.2"/><circle cx="86.7" cy="756.3" r="2.2"/><circle cx="59.5" cy="780.2" r="2.2"/><circle cx="92.9" cy="750.3" r="2.2"/><circle cx="85.7" cy="749.4" r="2.2"/><circle cx="71.7" cy="743.4" r="2.2"/><circle cx="55.2" cy="758.5" r="2.2"/><circle cx="62.7" cy="758.1" r="2.2"/><circle cx="75.7" cy="758.9" r="2.2"/><circle cx="49.6" cy="773.5" r="2.2"/><circle cx="53.3" cy="775.2" r="2.2"/><circle cx="70.2" cy="768.6" r="2.2"/><circle cx="96.4" cy="748.2" r="2.2"/><circle cx="70.1" cy="753.0" r="2.2"/><circle cx="79.7" cy="761.2" r="2.2"/><circle cx="74.1" cy="740.6" r="2.2"/><circle cx="50.0" cy="776.8" r="2.2"/><circle cx="91.6" cy="755.6" r="2.2"/><circle cx="67.8" cy="773.3" r="2.2"/><circle cx="69.4" cy="773.9" r="2.2"/><circle cx="56.4" cy="755.5" r="2.2"/><circle cx="75.7" cy="769.4" r="2.2"/><circle cx="62.3" cy="778.6" r="2.2"/><circle cx="65.8" cy="773.7" r="2.2"/><circle cx="69.7" cy="764.6" r="2.2"/><circle cx="92.1" cy="757.3" r="2.2"/><circle cx="75.0" cy="763.3" r="2.2"/><circle cx="62.3" cy="758.0" r="2.2"/><circle cx="64.0" cy="776.2" r="2.2"/><circle cx="79.2" cy="745.4" r="2.2"/><circle cx="77.2" cy="771.1" r="2.2"/><circle cx="75.1" cy="758.8" r="2.2"/><circle cx="85.6" cy="757.6" r="2.2"/><circle cx="97.8" cy="751.8" r="2.2"/><circle cx="92.7" cy="737.4" r="2.2"/><circle cx="78.9" cy="757.7" r="2.2"/><circle cx="90.2" cy="757.4" r="2.2"/><circle cx="84.5" cy="763.5" r="2.2"/><circle cx="68.4" cy="753.0" r="2.2"/><circle cx="96.2" cy="747.4" r="2.2"/><circle cx="60.4" cy="775.1" r="2.2"/><circle cx="99.1" cy="755.9" r="2.2"/><circle cx="77.2" cy="761.9" r="2.2"/><circle cx="81.2" cy="757.1" r="2.2"/><circle cx="82.3" cy="753.8" r="2.2"/><circle cx="51.2" cy="756.4" r="2.2"/><circle cx="60.0" cy="755.6" r="2.2"/><circle cx="67.7" cy="753.9" r="2.2"/><circle cx="60.2" cy="749.2" r="2.2"/><circle cx="54.4" cy="767.1" r="2.2"/><circle cx="68.1" cy="748.0" r="2.2"/><circle cx="86.4" cy="735.8" r="2.2"/><circle cx="84.6" cy="741.6" r="2.2"/><circle cx="88.9" cy="754.3" r="2.2"/><circle cx="72.9" cy="769.8" r="2.2"/><circle cx="77.7" cy="753.9" r="2.2"/><circle cx="55.0" cy="762.5" r="2.2"/><circle cx="87.8" cy="746.3" r="2.2"/><circle cx="71.1" cy="778.0" r="2.2"/><circle cx="82.9" cy="755.8" r="2.2"/><circle cx="78.7" cy="747.8" r="2.2"/><circle cx="95.1" cy="744.0" r="2.2"/><circle cx="122.4" cy="735.4" r="2.2"/><circle cx="110.7" cy="737.3" r="2.2"/><circle cx="103.2" cy="746.7" r="2.2"/><circle cx="92.3" cy="730.3" r="2.2"/><circle cx="77.8" cy="763.0" r="2.2"/><circle cx="96.8" cy="753.0" r="2.2"/><circle cx="97.4" cy="738.3" r="2.2"/><circle cx="94.3" cy="748.3" r="2.2"/><circle cx="114.6" cy="733.4" r="2.2"/><circle cx="89.4" cy="728.8" r="2.2"/><circle cx="116.7" cy="741.6" r="2.2"/><circle cx="103.3" cy="742.2" r="2.2"/><circle cx="112.8" cy="737.4" r="2.2"/><circle cx="57.0" cy="745.6" r="2.2"/><circle cx="79.0" cy="753.3" r="2.2"/><circle cx="82.6" cy="751.4" r="2.2"/><circle cx="116.2" cy="749.3" r="2.2"/><circle cx="75.8" cy="756.8" r="2.2"/><circle cx="91.7" cy="723.8" r="2.2"/><circle cx="110.2" cy="754.5" r="2.2"/><circle cx="62.3" cy="768.3" r="2.2"/><circle cx="78.8" cy="763.9" r="2.2"/><circle cx="116.2" cy="748.7" r="2.2"/><circle cx="87.3" cy="753.7" r="2.2"/><circle cx="92.0" cy="750.1" r="2.2"/><circle cx="65.5" cy="737.7" r="2.2"/><circle cx="68.6" cy="758.0" r="2.2"/><circle cx="90.7" cy="750.5" r="2.2"/><circle cx="96.9" cy="765.1" r="2.2"/><circle cx="93.1" cy="735.0" r="2.2"/><circle cx="67.1" cy="765.1" r="2.2"/><circle cx="82.6" cy="774.1" r="2.2"/><circle cx="119.0" cy="733.7" r="2.2"/><circle cx="97.5" cy="740.2" r="2.2"/><circle cx="83.7" cy="744.9" r="2.2"/><circle cx="77.0" cy="775.3" r="2.2"/><circle cx="107.4" cy="753.2" r="2.2"/><circle cx="54.1" cy="771.6" r="2.2"/><circle cx="110.4" cy="735.7" r="2.2"/><circle cx="67.2" cy="757.4" r="2.2"/><circle cx="76.5" cy="742.8" r="2.2"/><circle cx="52.3" cy="762.3" r="2.2"/><circle cx="98.7" cy="735.3" r="2.2"/><circle cx="86.4" cy="740.4" r="2.2"/><circle cx="107.2" cy="742.4" r="2.2"/><circle cx="80.5" cy="763.8" r="2.2"/><circle cx="83.9" cy="749.8" r="2.2"/><circle cx="73.6" cy="749.3" r="2.2"/><circle cx="103.7" cy="734.0" r="2.2"/><circle cx="83.3" cy="736.6" r="2.2"/><circle cx="106.2" cy="682.2" r="2.2"/><circle cx="148.5" cy="682.2" r="2.2"/><circle cx="77.0" cy="694.9" r="2.2"/><circle cx="120.0" cy="693.9" r="2.2"/><circle cx="93.5" cy="698.7" r="2.2"/><circle cx="164.6" cy="616.1" r="2.2"/><circle cx="178.9" cy="681.7" r="2.2"/><circle cx="212.3" cy="685.9" r="2.2"/><circle cx="236.5" cy="695.4" r="2.2"/><circle cx="84.4" cy="716.6" r="2.2"/><circle cx="76.4" cy="719.3" r="2.2"/><circle cx="90.8" cy="720.0" r="2.2"/><circle cx="92.5" cy="720.4" r="2.2"/><circle cx="98.8" cy="716.2" r="2.2"/><circle cx="98.2" cy="718.3" r="2.2"/><circle cx="101.3" cy="722.5" r="2.2"/><circle cx="100.3" cy="725.7" r="2.2"/><circle cx="116.2" cy="714.0" r="2.2"/><circle cx="119.3" cy="713.6" r="2.2"/><circle cx="128.9" cy="713.0" r="2.2"/><circle cx="131.0" cy="725.7" r="2.2"/><circle cx="137.3" cy="724.6" r="2.2"/><circle cx="139.4" cy="739.4" r="2.2"/><circle cx="149.0" cy="738.4" r="2.2"/><circle cx="111.9" cy="727.8" r="2.2"/><circle cx="105.6" cy="728.8" r="2.2"/><circle cx="96.1" cy="726.7" r="2.2"/><circle cx="88.7" cy="726.7" r="2.2"/><circle cx="83.4" cy="727.8" r="2.2"/><circle cx="113.6" cy="737.3" r="2.2"/><circle cx="107.7" cy="739.4" r="2.2"/><circle cx="101.3" cy="738.4" r="2.2"/><circle cx="114.0" cy="743.7" r="2.2"/><circle cx="126.7" cy="745.8" r="2.2"/><circle cx="122.5" cy="746.8" r="2.2"/><circle cx="119.3" cy="748.9" r="2.2"/><circle cx="116.2" cy="751.1" r="2.2"/><circle cx="110.9" cy="752.1" r="2.2"/><circle cx="105.6" cy="752.1" r="2.2"/><circle cx="102.4" cy="757.4" r="2.2"/><circle cx="97.1" cy="758.0" r="2.2"/><circle cx="117.2" cy="766.5" r="2.2"/><circle cx="122.5" cy="767.3" r="2.2"/><circle cx="96.1" cy="763.8" r="2.2"/><circle cx="90.8" cy="765.9" r="2.2"/><circle cx="90.3" cy="776.4" r="2.2"/><circle cx="84.4" cy="774.3" r="2.2"/><circle cx="82.3" cy="775.0" r="2.2"/><circle cx="50.6" cy="735.6" r="2.2"/><circle cx="58.6" cy="737.3" r="2.2"/><circle cx="66.4" cy="734.1" r="2.2"/><circle cx="65.4" cy="737.3" r="2.2"/><circle cx="71.7" cy="736.3" r="2.2"/><circle cx="73.8" cy="740.5" r="2.2"/><circle cx="77.0" cy="741.5" r="2.2"/><circle cx="81.3" cy="739.4" r="2.2"/><circle cx="85.5" cy="735.2" r="2.2"/><circle cx="88.7" cy="739.4" r="2.2"/><circle cx="93.9" cy="738.4" r="2.2"/><circle cx="61.2" cy="745.8" r="2.2"/><circle cx="58.0" cy="748.9" r="2.2"/><circle cx="54.4" cy="752.1" r="2.2"/><circle cx="49.5" cy="751.1" r="2.2"/><circle cx="43.2" cy="756.3" r="2.2"/><circle cx="45.3" cy="758.5" r="2.2"/><circle cx="42.1" cy="766.9" r="2.2"/><circle cx="43.2" cy="778.6" r="2.2"/><circle cx="44.2" cy="782.8" r="2.2"/><circle cx="51.6" cy="783.8" r="2.2"/><circle cx="56.9" cy="782.8" r="2.2"/><circle cx="201.1" cy="720.8" r="2.2"/><circle cx="42.3" cy="744.2" r="2.2"/><circle cx="42.3" cy="774.2" r="2.2"/></g>
<line x1="42.0" y1="775.8" x2="236.5" y2="668.0" stroke="#b5121f" stroke-width="1.5"/>
<line x1="42.0" y1="608.6" x2="42.0" y2="793.2" stroke="#1c1c1c" stroke-width="1.7"/>
<line x1="41.3" y1="789.6" x2="246.5" y2="789.6" stroke="#1c1c1c" stroke-width="1.7"/>
<line x1="38.3" y1="789.80" x2="42.0" y2="789.80" stroke="#1c1c1c" stroke-width="1.2"/>
<line x1="38.3" y1="740.20" x2="42.0" y2="740.20" stroke="#1c1c1c" stroke-width="1.2"/>
<line x1="38.3" y1="690.60" x2="42.0" y2="690.60" stroke="#1c1c1c" stroke-width="1.2"/>
<line x1="38.3" y1="641.00" x2="42.0" y2="641.00" stroke="#1c1c1c" stroke-width="1.2"/>
<line x1="38.3" y1="765.00" x2="42.0" y2="765.00" stroke="#1c1c1c" stroke-width="1.2"/>
<line x1="38.3" y1="715.40" x2="42.0" y2="715.40" stroke="#1c1c1c" stroke-width="1.2"/>
<line x1="38.3" y1="665.80" x2="42.0" y2="665.80" stroke="#1c1c1c" stroke-width="1.2"/>
<line x1="38.3" y1="616.20" x2="42.0" y2="616.20" stroke="#1c1c1c" stroke-width="1.2"/>
<text x="34.4" y="792.40" font-size="9.8" text-anchor="end" fill="#2a2a2a">0</text>
<text x="34.4" y="742.80" font-size="9.8" text-anchor="end" fill="#2a2a2a">2</text>
<text x="34.4" y="693.20" font-size="9.8" text-anchor="end" fill="#2a2a2a">4</text>
<text x="34.4" y="643.60" font-size="9.8" text-anchor="end" fill="#2a2a2a">6</text>
<line x1="42.00" y1="789.6" x2="42.00" y2="793.2" stroke="#1c1c1c" stroke-width="1.2"/>
<line x1="92.02" y1="789.6" x2="92.02" y2="793.2" stroke="#1c1c1c" stroke-width="1.2"/>
<line x1="142.04" y1="789.6" x2="142.04" y2="793.2" stroke="#1c1c1c" stroke-width="1.2"/>
<line x1="192.06" y1="789.6" x2="192.06" y2="793.2" stroke="#1c1c1c" stroke-width="1.2"/>
<line x1="242.08" y1="789.6" x2="242.08" y2="793.2" stroke="#1c1c1c" stroke-width="1.2"/>
<line x1="67.01" y1="789.6" x2="67.01" y2="793.2" stroke="#1c1c1c" stroke-width="1.2"/>
<line x1="117.03" y1="789.6" x2="117.03" y2="793.2" stroke="#1c1c1c" stroke-width="1.2"/>
<line x1="167.05" y1="789.6" x2="167.05" y2="793.2" stroke="#1c1c1c" stroke-width="1.2"/>
<line x1="217.07" y1="789.6" x2="217.07" y2="793.2" stroke="#1c1c1c" stroke-width="1.2"/>
<text x="42.00" y="805.5" font-size="9.8" text-anchor="middle" fill="#2a2a2a">0</text>
<text x="92.02" y="805.5" font-size="9.8" text-anchor="middle" fill="#2a2a2a">2</text>
<text x="142.04" y="805.5" font-size="9.8" text-anchor="middle" fill="#2a2a2a">4</text>
<text x="192.06" y="805.5" font-size="9.8" text-anchor="middle" fill="#2a2a2a">6</text>
<text x="242.08" y="805.5" font-size="9.8" text-anchor="middle" fill="#2a2a2a">8</text>
<text x="98.8" y="820.2" font-size="10" textLength="91.0" lengthAdjust="spacingAndGlyphs" fill="#2a2a2a">Index donation (REDS III)</text>
<text transform="translate(22.8,744.8) rotate(-90)" x="0" y="0" font-size="10" textLength="91.8" lengthAdjust="spacingAndGlyphs" fill="#2a2a2a">Recall donation (REDS IV)</text>
<rect x="267.7" y="576.3" width="243.6" height="253.0" fill="none" stroke="#6a6a6a" stroke-width="1.5"/>
<text x="312.5" y="590.7" font-size="9.8" textLength="42.3" lengthAdjust="spacingAndGlyphs" fill="#2a2a2a">AC(5-OH)</text>
<text x="312.5" y="602.0" font-size="9.8" textLength="181.3" lengthAdjust="spacingAndGlyphs" fill="#2a2a2a">rho = 0.6323, <tspan font-style="italic">P</tspan> = 5.802e-72, R<tspan font-size="6.6" dy="-3.6">2</tspan><tspan dy="3.6"> = 0.4865</tspan></text>
<g fill="url(#dg)"><circle cx="318.0" cy="780.4" r="2.2"/><circle cx="315.8" cy="775.1" r="2.2"/><circle cx="335.0" cy="773.2" r="2.2"/><circle cx="325.6" cy="771.4" r="2.2"/><circle cx="338.6" cy="774.6" r="2.2"/><circle cx="336.0" cy="745.5" r="2.2"/><circle cx="334.6" cy="759.8" r="2.2"/><circle cx="334.5" cy="751.9" r="2.2"/><circle cx="346.1" cy="754.2" r="2.2"/><circle cx="339.2" cy="762.0" r="2.2"/><circle cx="319.9" cy="779.7" r="2.2"/><circle cx="326.8" cy="763.2" r="2.2"/><circle cx="334.2" cy="777.9" r="2.2"/><circle cx="328.8" cy="754.3" r="2.2"/><circle cx="319.3" cy="759.0" r="2.2"/><circle cx="343.0" cy="767.1" r="2.2"/><circle cx="330.7" cy="767.8" r="2.2"/><circle cx="336.5" cy="746.3" r="2.2"/><circle cx="356.3" cy="739.1" r="2.2"/><circle cx="352.3" cy="745.3" r="2.2"/><circle cx="343.1" cy="771.4" r="2.2"/><circle cx="337.5" cy="752.2" r="2.2"/><circle cx="346.0" cy="744.1" r="2.2"/><circle cx="338.8" cy="744.3" r="2.2"/><circle cx="350.3" cy="756.3" r="2.2"/><circle cx="335.6" cy="761.2" r="2.2"/><circle cx="342.0" cy="756.8" r="2.2"/><circle cx="343.3" cy="745.4" r="2.2"/><circle cx="345.9" cy="759.2" r="2.2"/><circle cx="343.7" cy="761.1" r="2.2"/><circle cx="334.4" cy="769.9" r="2.2"/><circle cx="349.5" cy="748.8" r="2.2"/><circle cx="336.5" cy="765.4" r="2.2"/><circle cx="339.8" cy="750.8" r="2.2"/><circle cx="321.2" cy="765.4" r="2.2"/><circle cx="345.1" cy="746.9" r="2.2"/><circle cx="327.8" cy="760.9" r="2.2"/><circle cx="359.4" cy="742.6" r="2.2"/><circle cx="357.0" cy="751.0" r="2.2"/><circle cx="341.1" cy="755.5" r="2.2"/><circle cx="328.5" cy="752.2" r="2.2"/><circle cx="333.3" cy="773.2" r="2.2"/><circle cx="337.7" cy="747.6" r="2.2"/><circle cx="324.4" cy="780.7" r="2.2"/><circle cx="338.0" cy="772.2" r="2.2"/><circle cx="352.5" cy="758.6" r="2.2"/><circle cx="337.5" cy="750.2" r="2.2"/><circle cx="333.6" cy="761.1" r="2.2"/><circle cx="315.9" cy="777.0" r="2.2"/><circle cx="331.5" cy="760.9" r="2.2"/><circle cx="328.9" cy="759.8" r="2.2"/><circle cx="341.2" cy="752.5" r="2.2"/><circle cx="336.8" cy="751.4" r="2.2"/><circle cx="322.6" cy="760.8" r="2.2"/><circle cx="346.7" cy="753.4" r="2.2"/><circle cx="326.3" cy="755.9" r="2.2"/><circle cx="331.3" cy="769.3" r="2.2"/><circle cx="317.4" cy="774.6" r="2.2"/><circle cx="354.2" cy="748.1" r="2.2"/><circle cx="332.6" cy="773.7" r="2.2"/><circle cx="350.5" cy="745.7" r="2.2"/><circle cx="336.2" cy="762.5" r="2.2"/><circle cx="347.9" cy="750.7" r="2.2"/><circle cx="327.8" cy="769.4" r="2.2"/><circle cx="323.4" cy="761.4" r="2.2"/><circle cx="318.9" cy="757.1" r="2.2"/><circle cx="339.7" cy="752.9" r="2.2"/><circle cx="333.7" cy="757.4" r="2.2"/><circle cx="328.0" cy="763.4" r="2.2"/><circle cx="323.5" cy="765.0" r="2.2"/><circle cx="338.0" cy="752.6" r="2.2"/><circle cx="326.0" cy="764.7" r="2.2"/><circle cx="346.3" cy="759.6" r="2.2"/><circle cx="328.3" cy="765.6" r="2.2"/><circle cx="339.8" cy="742.7" r="2.2"/><circle cx="325.2" cy="781.5" r="2.2"/><circle cx="333.7" cy="768.2" r="2.2"/><circle cx="332.7" cy="758.3" r="2.2"/><circle cx="347.3" cy="761.7" r="2.2"/><circle cx="327.5" cy="771.9" r="2.2"/><circle cx="342.6" cy="737.3" r="2.2"/><circle cx="339.9" cy="758.3" r="2.2"/><circle cx="324.1" cy="770.1" r="2.2"/><circle cx="322.3" cy="757.2" r="2.2"/><circle cx="346.6" cy="746.6" r="2.2"/><circle cx="334.4" cy="765.4" r="2.2"/><circle cx="337.1" cy="757.2" r="2.2"/><circle cx="345.9" cy="762.2" r="2.2"/><circle cx="343.7" cy="755.5" r="2.2"/><circle cx="320.7" cy="767.4" r="2.2"/><circle cx="324.3" cy="763.5" r="2.2"/><circle cx="339.0" cy="756.5" r="2.2"/><circle cx="329.0" cy="764.8" r="2.2"/><circle cx="339.1" cy="750.4" r="2.2"/><circle cx="336.0" cy="773.4" r="2.2"/><circle cx="340.8" cy="755.3" r="2.2"/><circle cx="354.0" cy="755.1" r="2.2"/><circle cx="326.9" cy="760.6" r="2.2"/><circle cx="351.7" cy="749.2" r="2.2"/><circle cx="349.0" cy="757.6" r="2.2"/><circle cx="340.3" cy="744.3" r="2.2"/><circle cx="355.9" cy="738.2" r="2.2"/><circle cx="347.9" cy="742.4" r="2.2"/><circle cx="349.4" cy="744.8" r="2.2"/><circle cx="333.3" cy="754.5" r="2.2"/><circle cx="341.9" cy="746.4" r="2.2"/><circle cx="353.7" cy="741.6" r="2.2"/><circle cx="327.8" cy="771.1" r="2.2"/><circle cx="328.7" cy="763.2" r="2.2"/><circle cx="343.1" cy="749.2" r="2.2"/><circle cx="340.1" cy="748.7" r="2.2"/><circle cx="342.5" cy="754.8" r="2.2"/><circle cx="318.0" cy="759.9" r="2.2"/><circle cx="329.4" cy="761.2" r="2.2"/><circle cx="328.7" cy="769.3" r="2.2"/><circle cx="332.8" cy="772.1" r="2.2"/><circle cx="351.9" cy="749.5" r="2.2"/><circle cx="338.9" cy="768.6" r="2.2"/><circle cx="328.6" cy="760.9" r="2.2"/><circle cx="328.4" cy="774.1" r="2.2"/><circle cx="344.4" cy="764.1" r="2.2"/><circle cx="320.5" cy="758.7" r="2.2"/><circle cx="342.9" cy="752.8" r="2.2"/><circle cx="343.6" cy="763.4" r="2.2"/><circle cx="341.2" cy="761.9" r="2.2"/><circle cx="334.7" cy="754.5" r="2.2"/><circle cx="351.2" cy="750.0" r="2.2"/><circle cx="334.3" cy="758.1" r="2.2"/><circle cx="347.8" cy="750.5" r="2.2"/><circle cx="341.4" cy="751.0" r="2.2"/><circle cx="339.6" cy="757.4" r="2.2"/><circle cx="350.2" cy="736.4" r="2.2"/><circle cx="346.2" cy="737.6" r="2.2"/><circle cx="341.4" cy="754.2" r="2.2"/><circle cx="330.2" cy="761.5" r="2.2"/><circle cx="343.1" cy="764.4" r="2.2"/><circle cx="348.9" cy="754.9" r="2.2"/><circle cx="337.2" cy="761.9" r="2.2"/><circle cx="341.1" cy="738.1" r="2.2"/><circle cx="337.3" cy="745.7" r="2.2"/><circle cx="336.6" cy="763.4" r="2.2"/><circle cx="347.7" cy="762.6" r="2.2"/><circle cx="326.7" cy="770.7" r="2.2"/><circle cx="355.1" cy="754.5" r="2.2"/><circle cx="323.0" cy="771.7" r="2.2"/><circle cx="335.7" cy="756.5" r="2.2"/><circle cx="330.3" cy="776.9" r="2.2"/><circle cx="325.4" cy="761.8" r="2.2"/><circle cx="335.7" cy="758.7" r="2.2"/><circle cx="354.5" cy="748.3" r="2.2"/><circle cx="342.6" cy="757.1" r="2.2"/><circle cx="338.4" cy="746.2" r="2.2"/><circle cx="326.2" cy="752.2" r="2.2"/><circle cx="343.4" cy="760.7" r="2.2"/><circle cx="333.8" cy="767.2" r="2.2"/><circle cx="349.2" cy="740.5" r="2.2"/><circle cx="341.3" cy="756.7" r="2.2"/><circle cx="322.7" cy="769.1" r="2.2"/><circle cx="331.5" cy="766.5" r="2.2"/><circle cx="333.8" cy="757.1" r="2.2"/><circle cx="347.9" cy="754.4" r="2.2"/><circle cx="326.7" cy="766.6" r="2.2"/><circle cx="330.1" cy="754.0" r="2.2"/><circle cx="338.7" cy="755.8" r="2.2"/><circle cx="356.0" cy="760.4" r="2.2"/><circle cx="351.3" cy="749.3" r="2.2"/><circle cx="330.5" cy="776.8" r="2.2"/><circle cx="339.1" cy="754.1" r="2.2"/><circle cx="339.5" cy="756.1" r="2.2"/><circle cx="348.7" cy="743.8" r="2.2"/><circle cx="342.2" cy="766.7" r="2.2"/><circle cx="343.3" cy="741.3" r="2.2"/><circle cx="341.0" cy="751.3" r="2.2"/><circle cx="334.4" cy="759.7" r="2.2"/><circle cx="338.3" cy="759.9" r="2.2"/><circle cx="323.0" cy="754.5" r="2.2"/><circle cx="324.0" cy="774.4" r="2.2"/><circle cx="347.2" cy="740.5" r="2.2"/><circle cx="320.6" cy="764.1" r="2.2"/><circle cx="345.7" cy="752.0" r="2.2"/><circle cx="327.1" cy="768.7" r="2.2"/><circle cx="353.7" cy="739.1" r="2.2"/><circle cx="337.3" cy="772.5" r="2.2"/><circle cx="322.4" cy="776.7" r="2.2"/><circle cx="319.3" cy="770.9" r="2.2"/><circle cx="334.4" cy="764.7" r="2.2"/><circle cx="318.6" cy="769.8" r="2.2"/><circle cx="350.0" cy="749.5" r="2.2"/><circle cx="335.5" cy="747.2" r="2.2"/><circle cx="362.1" cy="743.9" r="2.2"/><circle cx="344.1" cy="763.6" r="2.2"/><circle cx="333.0" cy="767.9" r="2.2"/><circle cx="331.8" cy="756.9" r="2.2"/><circle cx="347.8" cy="756.5" r="2.2"/><circle cx="341.9" cy="750.6" r="2.2"/><circle cx="344.1" cy="761.7" r="2.2"/><circle cx="329.2" cy="768.1" r="2.2"/><circle cx="318.9" cy="766.0" r="2.2"/><circle cx="326.0" cy="765.8" r="2.2"/><circle cx="326.9" cy="780.1" r="2.2"/><circle cx="338.2" cy="759.3" r="2.2"/><circle cx="349.7" cy="761.7" r="2.2"/><circle cx="319.9" cy="770.5" r="2.2"/><circle cx="340.9" cy="753.6" r="2.2"/><circle cx="324.4" cy="773.5" r="2.2"/><circle cx="330.6" cy="760.5" r="2.2"/><circle cx="343.7" cy="740.0" r="2.2"/><circle cx="351.1" cy="754.9" r="2.2"/><circle cx="329.0" cy="749.0" r="2.2"/><circle cx="320.1" cy="778.6" r="2.2"/><circle cx="332.4" cy="760.2" r="2.2"/><circle cx="335.6" cy="745.3" r="2.2"/><circle cx="337.1" cy="766.5" r="2.2"/><circle cx="346.7" cy="759.5" r="2.2"/><circle cx="328.5" cy="767.4" r="2.2"/><circle cx="321.4" cy="776.7" r="2.2"/><circle cx="340.9" cy="737.5" r="2.2"/><circle cx="339.3" cy="755.5" r="2.2"/><circle cx="316.4" cy="777.3" r="2.2"/><circle cx="344.3" cy="751.2" r="2.2"/><circle cx="347.3" cy="754.9" r="2.2"/><circle cx="336.4" cy="757.8" r="2.2"/><circle cx="348.1" cy="745.5" r="2.2"/><circle cx="335.0" cy="755.3" r="2.2"/><circle cx="349.7" cy="757.0" r="2.2"/><circle cx="340.3" cy="754.1" r="2.2"/><circle cx="319.4" cy="767.3" r="2.2"/><circle cx="341.4" cy="741.5" r="2.2"/><circle cx="326.2" cy="757.9" r="2.2"/><circle cx="350.6" cy="740.5" r="2.2"/><circle cx="344.6" cy="753.1" r="2.2"/><circle cx="348.4" cy="740.9" r="2.2"/><circle cx="346.4" cy="772.1" r="2.2"/><circle cx="338.8" cy="751.8" r="2.2"/><circle cx="327.4" cy="760.8" r="2.2"/><circle cx="328.3" cy="756.1" r="2.2"/><circle cx="342.3" cy="743.7" r="2.2"/><circle cx="343.2" cy="747.4" r="2.2"/><circle cx="354.8" cy="744.7" r="2.2"/><circle cx="338.0" cy="744.4" r="2.2"/><circle cx="335.6" cy="768.4" r="2.2"/><circle cx="346.5" cy="741.8" r="2.2"/><circle cx="351.8" cy="764.5" r="2.2"/><circle cx="330.4" cy="765.8" r="2.2"/><circle cx="324.6" cy="766.5" r="2.2"/><circle cx="343.6" cy="761.2" r="2.2"/><circle cx="338.3" cy="758.2" r="2.2"/><circle cx="342.6" cy="763.6" r="2.2"/><circle cx="337.6" cy="778.6" r="2.2"/><circle cx="347.4" cy="747.5" r="2.2"/><circle cx="355.0" cy="743.6" r="2.2"/><circle cx="334.0" cy="756.0" r="2.2"/><circle cx="334.3" cy="772.8" r="2.2"/><circle cx="337.8" cy="756.8" r="2.2"/><circle cx="328.4" cy="773.8" r="2.2"/><circle cx="347.3" cy="755.3" r="2.2"/><circle cx="325.4" cy="777.7" r="2.2"/><circle cx="341.4" cy="744.5" r="2.2"/><circle cx="345.5" cy="738.1" r="2.2"/><circle cx="354.3" cy="755.3" r="2.2"/><circle cx="330.3" cy="748.8" r="2.2"/><circle cx="340.6" cy="742.0" r="2.2"/><circle cx="325.1" cy="770.9" r="2.2"/><circle cx="350.8" cy="735.9" r="2.2"/><circle cx="335.2" cy="758.1" r="2.2"/><circle cx="331.1" cy="772.9" r="2.2"/><circle cx="339.1" cy="751.3" r="2.2"/><circle cx="319.7" cy="769.5" r="2.2"/><circle cx="336.1" cy="760.4" r="2.2"/><circle cx="336.7" cy="764.6" r="2.2"/><circle cx="331.5" cy="756.2" r="2.2"/><circle cx="349.6" cy="748.6" r="2.2"/><circle cx="348.2" cy="743.8" r="2.2"/><circle cx="347.0" cy="728.8" r="2.2"/><circle cx="332.7" cy="749.8" r="2.2"/><circle cx="366.0" cy="746.9" r="2.2"/><circle cx="354.0" cy="748.1" r="2.2"/><circle cx="351.2" cy="756.0" r="2.2"/><circle cx="376.5" cy="742.4" r="2.2"/><circle cx="339.0" cy="754.0" r="2.2"/><circle cx="349.3" cy="748.4" r="2.2"/><circle cx="356.8" cy="733.8" r="2.2"/><circle cx="338.4" cy="763.1" r="2.2"/><circle cx="341.0" cy="757.4" r="2.2"/><circle cx="348.5" cy="756.3" r="2.2"/><circle cx="333.0" cy="764.6" r="2.2"/><circle cx="331.5" cy="761.1" r="2.2"/><circle cx="353.0" cy="741.6" r="2.2"/><circle cx="323.6" cy="767.4" r="2.2"/><circle cx="380.2" cy="741.9" r="2.2"/><circle cx="368.5" cy="743.3" r="2.2"/><circle cx="343.2" cy="751.6" r="2.2"/><circle cx="375.5" cy="743.6" r="2.2"/><circle cx="380.8" cy="738.8" r="2.2"/><circle cx="343.2" cy="755.9" r="2.2"/><circle cx="332.2" cy="760.9" r="2.2"/><circle cx="365.0" cy="731.9" r="2.2"/><circle cx="350.4" cy="734.1" r="2.2"/><circle cx="335.4" cy="742.5" r="2.2"/><circle cx="372.6" cy="723.0" r="2.2"/><circle cx="344.7" cy="751.6" r="2.2"/><circle cx="350.7" cy="731.1" r="2.2"/><circle cx="334.9" cy="760.8" r="2.2"/><circle cx="336.5" cy="743.9" r="2.2"/><circle cx="362.4" cy="721.7" r="2.2"/><circle cx="372.4" cy="736.9" r="2.2"/><circle cx="328.9" cy="754.5" r="2.2"/><circle cx="357.3" cy="751.6" r="2.2"/><circle cx="333.3" cy="751.6" r="2.2"/><circle cx="363.2" cy="752.1" r="2.2"/><circle cx="354.3" cy="743.5" r="2.2"/><circle cx="323.9" cy="748.5" r="2.2"/><circle cx="361.8" cy="736.9" r="2.2"/><circle cx="368.4" cy="750.7" r="2.2"/><circle cx="365.7" cy="724.2" r="2.2"/><circle cx="343.8" cy="737.2" r="2.2"/><circle cx="343.1" cy="750.9" r="2.2"/><circle cx="329.4" cy="745.6" r="2.2"/><circle cx="356.4" cy="733.9" r="2.2"/><circle cx="375.8" cy="743.6" r="2.2"/><circle cx="363.7" cy="745.2" r="2.2"/><circle cx="347.0" cy="747.0" r="2.2"/><circle cx="347.2" cy="736.9" r="2.2"/><circle cx="349.7" cy="761.4" r="2.2"/><circle cx="353.1" cy="727.4" r="2.2"/><circle cx="353.1" cy="729.3" r="2.2"/><circle cx="371.4" cy="736.8" r="2.2"/><circle cx="347.5" cy="757.6" r="2.2"/><circle cx="369.7" cy="750.6" r="2.2"/><circle cx="331.1" cy="772.9" r="2.2"/><circle cx="362.7" cy="745.8" r="2.2"/><circle cx="348.3" cy="748.4" r="2.2"/><circle cx="348.1" cy="749.7" r="2.2"/><circle cx="354.8" cy="759.0" r="2.2"/><circle cx="331.9" cy="750.3" r="2.2"/><circle cx="352.1" cy="752.9" r="2.2"/><circle cx="357.9" cy="731.8" r="2.2"/><circle cx="358.8" cy="734.1" r="2.2"/><circle cx="356.9" cy="751.9" r="2.2"/><circle cx="358.0" cy="750.0" r="2.2"/><circle cx="344.2" cy="754.9" r="2.2"/><circle cx="336.7" cy="762.7" r="2.2"/><circle cx="354.2" cy="735.5" r="2.2"/><circle cx="346.6" cy="771.4" r="2.2"/><circle cx="363.9" cy="733.6" r="2.2"/><circle cx="375.6" cy="728.6" r="2.2"/><circle cx="361.4" cy="722.0" r="2.2"/><circle cx="364.6" cy="743.3" r="2.2"/><circle cx="338.4" cy="762.1" r="2.2"/><circle cx="348.1" cy="741.8" r="2.2"/><circle cx="342.5" cy="747.9" r="2.2"/><circle cx="320.3" cy="757.7" r="2.2"/><circle cx="357.7" cy="763.3" r="2.2"/><circle cx="357.4" cy="749.8" r="2.2"/><circle cx="348.2" cy="726.4" r="2.2"/><circle cx="355.9" cy="739.9" r="2.2"/><circle cx="352.9" cy="754.8" r="2.2"/><circle cx="357.1" cy="752.5" r="2.2"/><circle cx="379.4" cy="739.1" r="2.2"/><circle cx="319.7" cy="765.4" r="2.2"/><circle cx="338.5" cy="757.9" r="2.2"/><circle cx="379.8" cy="741.1" r="2.2"/><circle cx="351.8" cy="751.3" r="2.2"/><circle cx="320.4" cy="766.7" r="2.2"/><circle cx="370.2" cy="743.4" r="2.2"/><circle cx="376.5" cy="723.8" r="2.2"/><circle cx="365.7" cy="745.2" r="2.2"/><circle cx="349.9" cy="750.4" r="2.2"/><circle cx="377.0" cy="732.3" r="2.2"/><circle cx="366.4" cy="731.3" r="2.2"/><circle cx="368.4" cy="747.9" r="2.2"/><circle cx="346.8" cy="744.8" r="2.2"/><circle cx="359.1" cy="742.8" r="2.2"/><circle cx="344.3" cy="754.2" r="2.2"/><circle cx="359.1" cy="752.1" r="2.2"/><circle cx="381.1" cy="737.1" r="2.2"/><circle cx="394.2" cy="728.1" r="2.2"/><circle cx="353.0" cy="745.0" r="2.2"/><circle cx="329.8" cy="757.8" r="2.2"/><circle cx="362.1" cy="717.4" r="2.2"/><circle cx="396.3" cy="735.8" r="2.2"/><circle cx="376.9" cy="746.4" r="2.2"/><circle cx="389.7" cy="735.0" r="2.2"/><circle cx="344.6" cy="742.4" r="2.2"/><circle cx="375.3" cy="747.9" r="2.2"/><circle cx="367.2" cy="719.9" r="2.2"/><circle cx="333.6" cy="757.7" r="2.2"/><circle cx="399.9" cy="719.0" r="2.2"/><circle cx="369.7" cy="716.5" r="2.2"/><circle cx="344.4" cy="739.0" r="2.2"/><circle cx="358.4" cy="729.1" r="2.2"/><circle cx="358.1" cy="742.7" r="2.2"/><circle cx="408.2" cy="736.3" r="2.2"/><circle cx="375.9" cy="741.2" r="2.2"/><circle cx="363.0" cy="745.9" r="2.2"/><circle cx="386.4" cy="752.7" r="2.2"/><circle cx="378.9" cy="741.5" r="2.2"/><circle cx="388.9" cy="743.6" r="2.2"/><circle cx="373.1" cy="726.7" r="2.2"/><circle cx="349.4" cy="756.6" r="2.2"/><circle cx="367.8" cy="759.4" r="2.2"/><circle cx="342.6" cy="739.5" r="2.2"/><circle cx="351.0" cy="754.7" r="2.2"/><circle cx="347.2" cy="749.1" r="2.2"/><circle cx="337.8" cy="765.7" r="2.2"/><circle cx="361.8" cy="755.2" r="2.2"/><circle cx="387.7" cy="739.8" r="2.2"/><circle cx="364.4" cy="741.8" r="2.2"/><circle cx="367.2" cy="757.3" r="2.2"/><circle cx="334.8" cy="738.6" r="2.2"/><circle cx="400.5" cy="718.1" r="2.2"/><circle cx="344.5" cy="752.3" r="2.2"/><circle cx="353.3" cy="743.1" r="2.2"/><circle cx="339.8" cy="769.6" r="2.2"/><circle cx="341.2" cy="745.4" r="2.2"/><circle cx="347.8" cy="733.5" r="2.2"/><circle cx="382.9" cy="730.2" r="2.2"/><circle cx="374.4" cy="752.1" r="2.2"/><circle cx="398.0" cy="751.9" r="2.2"/><circle cx="355.2" cy="763.6" r="2.2"/><circle cx="338.9" cy="750.5" r="2.2"/><circle cx="350.0" cy="727.8" r="2.2"/><circle cx="386.6" cy="722.1" r="2.2"/><circle cx="377.0" cy="728.7" r="2.2"/><circle cx="344.8" cy="770.4" r="2.2"/><circle cx="348.4" cy="767.6" r="2.2"/><circle cx="394.6" cy="731.0" r="2.2"/><circle cx="333.4" cy="756.0" r="2.2"/><circle cx="357.7" cy="734.5" r="2.2"/><circle cx="361.8" cy="752.4" r="2.2"/><circle cx="393.6" cy="729.2" r="2.2"/><circle cx="369.9" cy="743.3" r="2.2"/><circle cx="386.5" cy="717.3" r="2.2"/><circle cx="345.1" cy="764.0" r="2.2"/><circle cx="331.9" cy="760.4" r="2.2"/><circle cx="378.5" cy="732.9" r="2.2"/><circle cx="345.3" cy="763.8" r="2.2"/><circle cx="375.2" cy="728.5" r="2.2"/><circle cx="350.9" cy="747.8" r="2.2"/><circle cx="378.4" cy="738.2" r="2.2"/><circle cx="391.3" cy="639.3" r="2.2"/><circle cx="402.0" cy="642.0" r="2.2"/><circle cx="397.5" cy="648.0" r="2.2"/><circle cx="401.6" cy="651.4" r="2.2"/><circle cx="372.3" cy="666.0" r="2.2"/><circle cx="381.8" cy="675.3" r="2.2"/><circle cx="383.4" cy="679.7" r="2.2"/><circle cx="328.9" cy="690.8" r="2.2"/><circle cx="346.9" cy="690.2" r="2.2"/><circle cx="346.0" cy="692.2" r="2.2"/><circle cx="378.4" cy="690.2" r="2.2"/><circle cx="390.3" cy="690.8" r="2.2"/><circle cx="375.1" cy="696.9" r="2.2"/><circle cx="376.3" cy="695.9" r="2.2"/><circle cx="378.8" cy="697.9" r="2.2"/><circle cx="326.3" cy="698.9" r="2.2"/><circle cx="366.6" cy="699.5" r="2.2"/><circle cx="393.9" cy="698.9" r="2.2"/><circle cx="425.0" cy="614.1" r="2.2"/><circle cx="405.9" cy="638.8" r="2.2"/><circle cx="439.1" cy="648.4" r="2.2"/><circle cx="450.1" cy="657.9" r="2.2"/><circle cx="477.6" cy="635.7" r="2.2"/><circle cx="477.6" cy="659.4" r="2.2"/><circle cx="415.4" cy="660.0" r="2.2"/><circle cx="413.8" cy="668.5" r="2.2"/><circle cx="436.6" cy="667.4" r="2.2"/><circle cx="445.5" cy="679.5" r="2.2"/><circle cx="451.2" cy="678.6" r="2.2"/><circle cx="495.6" cy="679.7" r="2.2"/><circle cx="426.4" cy="689.6" r="2.2"/><circle cx="412.3" cy="693.9" r="2.2"/><circle cx="329.3" cy="701.7" r="2.2"/><circle cx="346.8" cy="705.1" r="2.2"/><circle cx="354.1" cy="704.1" r="2.2"/><circle cx="354.5" cy="709.2" r="2.2"/><circle cx="360.6" cy="708.6" r="2.2"/><circle cx="363.6" cy="712.2" r="2.2"/><circle cx="365.6" cy="712.2" r="2.2"/><circle cx="367.6" cy="706.2" r="2.2"/><circle cx="369.7" cy="701.1" r="2.2"/><circle cx="398.9" cy="701.1" r="2.2"/><circle cx="374.7" cy="709.2" r="2.2"/><circle cx="384.8" cy="709.2" r="2.2"/><circle cx="377.7" cy="715.2" r="2.2"/><circle cx="374.7" cy="716.3" r="2.2"/><circle cx="381.8" cy="716.3" r="2.2"/><circle cx="351.5" cy="715.2" r="2.2"/><circle cx="357.6" cy="716.3" r="2.2"/><circle cx="361.6" cy="718.3" r="2.2"/><circle cx="336.3" cy="718.3" r="2.2"/><circle cx="340.4" cy="710.2" r="2.2"/><circle cx="325.2" cy="720.3" r="2.2"/><circle cx="342.4" cy="724.3" r="2.2"/><circle cx="343.4" cy="727.4" r="2.2"/><circle cx="348.5" cy="725.3" r="2.2"/><circle cx="353.5" cy="721.3" r="2.2"/><circle cx="360.6" cy="722.3" r="2.2"/><circle cx="367.6" cy="720.3" r="2.2"/><circle cx="370.7" cy="722.3" r="2.2"/><circle cx="371.7" cy="726.3" r="2.2"/><circle cx="376.7" cy="727.4" r="2.2"/><circle cx="381.8" cy="722.3" r="2.2"/><circle cx="386.8" cy="726.3" r="2.2"/><circle cx="403.0" cy="720.3" r="2.2"/><circle cx="401.0" cy="722.3" r="2.2"/><circle cx="393.9" cy="727.4" r="2.2"/><circle cx="388.9" cy="731.4" r="2.2"/><circle cx="384.8" cy="733.4" r="2.2"/><circle cx="378.8" cy="734.4" r="2.2"/><circle cx="379.8" cy="737.5" r="2.2"/><circle cx="390.9" cy="737.5" r="2.2"/><circle cx="393.9" cy="740.5" r="2.2"/><circle cx="400.0" cy="741.5" r="2.2"/><circle cx="401.0" cy="743.5" r="2.2"/><circle cx="388.9" cy="743.5" r="2.2"/><circle cx="392.9" cy="745.5" r="2.2"/><circle cx="396.5" cy="750.6" r="2.2"/><circle cx="384.8" cy="755.6" r="2.2"/><circle cx="390.9" cy="758.7" r="2.2"/><circle cx="383.8" cy="746.5" r="2.2"/><circle cx="376.7" cy="749.6" r="2.2"/><circle cx="370.7" cy="750.6" r="2.2"/><circle cx="366.6" cy="745.5" r="2.2"/><circle cx="364.6" cy="742.5" r="2.2"/><circle cx="360.6" cy="742.5" r="2.2"/><circle cx="374.7" cy="753.6" r="2.2"/><circle cx="371.7" cy="759.7" r="2.2"/><circle cx="367.6" cy="758.7" r="2.2"/><circle cx="376.7" cy="766.7" r="2.2"/><circle cx="369.7" cy="766.7" r="2.2"/><circle cx="364.6" cy="762.7" r="2.2"/><circle cx="360.6" cy="759.7" r="2.2"/><circle cx="358.6" cy="764.7" r="2.2"/><circle cx="356.5" cy="768.8" r="2.2"/><circle cx="346.4" cy="774.8" r="2.2"/><circle cx="336.3" cy="776.8" r="2.2"/><circle cx="332.3" cy="779.9" r="2.2"/><circle cx="309.1" cy="763.7" r="2.2"/><circle cx="311.1" cy="772.8" r="2.2"/><circle cx="316.2" cy="778.9" r="2.2"/><circle cx="318.2" cy="780.9" r="2.2"/><circle cx="321.2" cy="778.9" r="2.2"/><circle cx="320.2" cy="754.6" r="2.2"/><circle cx="332.3" cy="729.4" r="2.2"/><circle cx="333.3" cy="740.5" r="2.2"/><circle cx="409.5" cy="705.2" r="2.2"/><circle cx="413.1" cy="707.3" r="2.2"/><circle cx="419.0" cy="708.6" r="2.2"/><circle cx="419.5" cy="710.1" r="2.2"/><circle cx="425.4" cy="704.4" r="2.2"/><circle cx="427.5" cy="701.0" r="2.2"/><circle cx="437.7" cy="711.2" r="2.2"/><circle cx="405.3" cy="715.4" r="2.2"/><circle cx="413.8" cy="722.8" r="2.2"/><circle cx="427.1" cy="718.1" r="2.2"/><circle cx="432.8" cy="720.7" r="2.2"/><circle cx="425.8" cy="725.5" r="2.2"/><circle cx="401.1" cy="734.8" r="2.2"/><circle cx="411.0" cy="733.4" r="2.2"/><circle cx="411.6" cy="734.8" r="2.2"/><circle cx="444.4" cy="735.5" r="2.2"/><circle cx="410.2" cy="746.1" r="2.2"/><circle cx="406.3" cy="748.8" r="2.2"/><circle cx="301.0" cy="740.3" r="2.2"/><circle cx="301.0" cy="759.4" r="2.2"/><circle cx="301.0" cy="781.7" r="2.2"/><circle cx="306.1" cy="776.5" r="2.2"/></g>
<line x1="300.9" y1="776.5" x2="495.7" y2="653.2" stroke="#b5121f" stroke-width="1.5"/>
<line x1="300.9" y1="609.3" x2="300.9" y2="793.2" stroke="#1c1c1c" stroke-width="1.7"/>
<line x1="300.2" y1="789.6" x2="506.6" y2="789.6" stroke="#1c1c1c" stroke-width="1.7"/>
<line x1="297.2" y1="750.80" x2="300.9" y2="750.80" stroke="#1c1c1c" stroke-width="1.2"/>
<line x1="297.2" y1="710.70" x2="300.9" y2="710.70" stroke="#1c1c1c" stroke-width="1.2"/>
<line x1="297.2" y1="670.60" x2="300.9" y2="670.60" stroke="#1c1c1c" stroke-width="1.2"/>
<line x1="297.2" y1="630.50" x2="300.9" y2="630.50" stroke="#1c1c1c" stroke-width="1.2"/>
<line x1="297.2" y1="770.85" x2="300.9" y2="770.85" stroke="#1c1c1c" stroke-width="1.2"/>
<line x1="297.2" y1="730.75" x2="300.9" y2="730.75" stroke="#1c1c1c" stroke-width="1.2"/>
<line x1="297.2" y1="690.65" x2="300.9" y2="690.65" stroke="#1c1c1c" stroke-width="1.2"/>
<line x1="297.2" y1="650.55" x2="300.9" y2="650.55" stroke="#1c1c1c" stroke-width="1.2"/>
<text x="293.0" y="753.40" font-size="9.8" text-anchor="end" fill="#2a2a2a">1</text>
<text x="293.0" y="713.30" font-size="9.8" text-anchor="end" fill="#2a2a2a">2</text>
<text x="293.0" y="673.20" font-size="9.8" text-anchor="end" fill="#2a2a2a">3</text>
<text x="293.0" y="633.10" font-size="9.8" text-anchor="end" fill="#2a2a2a">4</text>
<line x1="300.90" y1="789.6" x2="300.90" y2="793.2" stroke="#1c1c1c" stroke-width="1.2"/>
<line x1="345.88" y1="789.6" x2="345.88" y2="793.2" stroke="#1c1c1c" stroke-width="1.2"/>
<line x1="390.86" y1="789.6" x2="390.86" y2="793.2" stroke="#1c1c1c" stroke-width="1.2"/>
<line x1="435.84" y1="789.6" x2="435.84" y2="793.2" stroke="#1c1c1c" stroke-width="1.2"/>
<line x1="480.82" y1="789.6" x2="480.82" y2="793.2" stroke="#1c1c1c" stroke-width="1.2"/>
<line x1="323.39" y1="789.6" x2="323.39" y2="793.2" stroke="#1c1c1c" stroke-width="1.2"/>
<line x1="368.37" y1="789.6" x2="368.37" y2="793.2" stroke="#1c1c1c" stroke-width="1.2"/>
<line x1="413.35" y1="789.6" x2="413.35" y2="793.2" stroke="#1c1c1c" stroke-width="1.2"/>
<line x1="458.33" y1="789.6" x2="458.33" y2="793.2" stroke="#1c1c1c" stroke-width="1.2"/>
<line x1="503.31" y1="789.6" x2="503.31" y2="793.2" stroke="#1c1c1c" stroke-width="1.2"/>
<text x="300.90" y="805.4" font-size="9.8" text-anchor="middle" fill="#2a2a2a">0</text>
<text x="345.88" y="805.4" font-size="9.8" text-anchor="middle" fill="#2a2a2a">1</text>
<text x="390.86" y="805.4" font-size="9.8" text-anchor="middle" fill="#2a2a2a">2</text>
<text x="435.84" y="805.4" font-size="9.8" text-anchor="middle" fill="#2a2a2a">3</text>
<text x="480.82" y="805.4" font-size="9.8" text-anchor="middle" fill="#2a2a2a">4</text>
<text x="358.8" y="820.3" font-size="10" textLength="91.0" lengthAdjust="spacingAndGlyphs" fill="#2a2a2a">Index donation (REDS III)</text>
<text transform="translate(281.7,745.1) rotate(-90)" x="0" y="0" font-size="10" textLength="92.2" lengthAdjust="spacingAndGlyphs" fill="#2a2a2a">Recall donation (REDS IV)</text>
</svg></body></html>
